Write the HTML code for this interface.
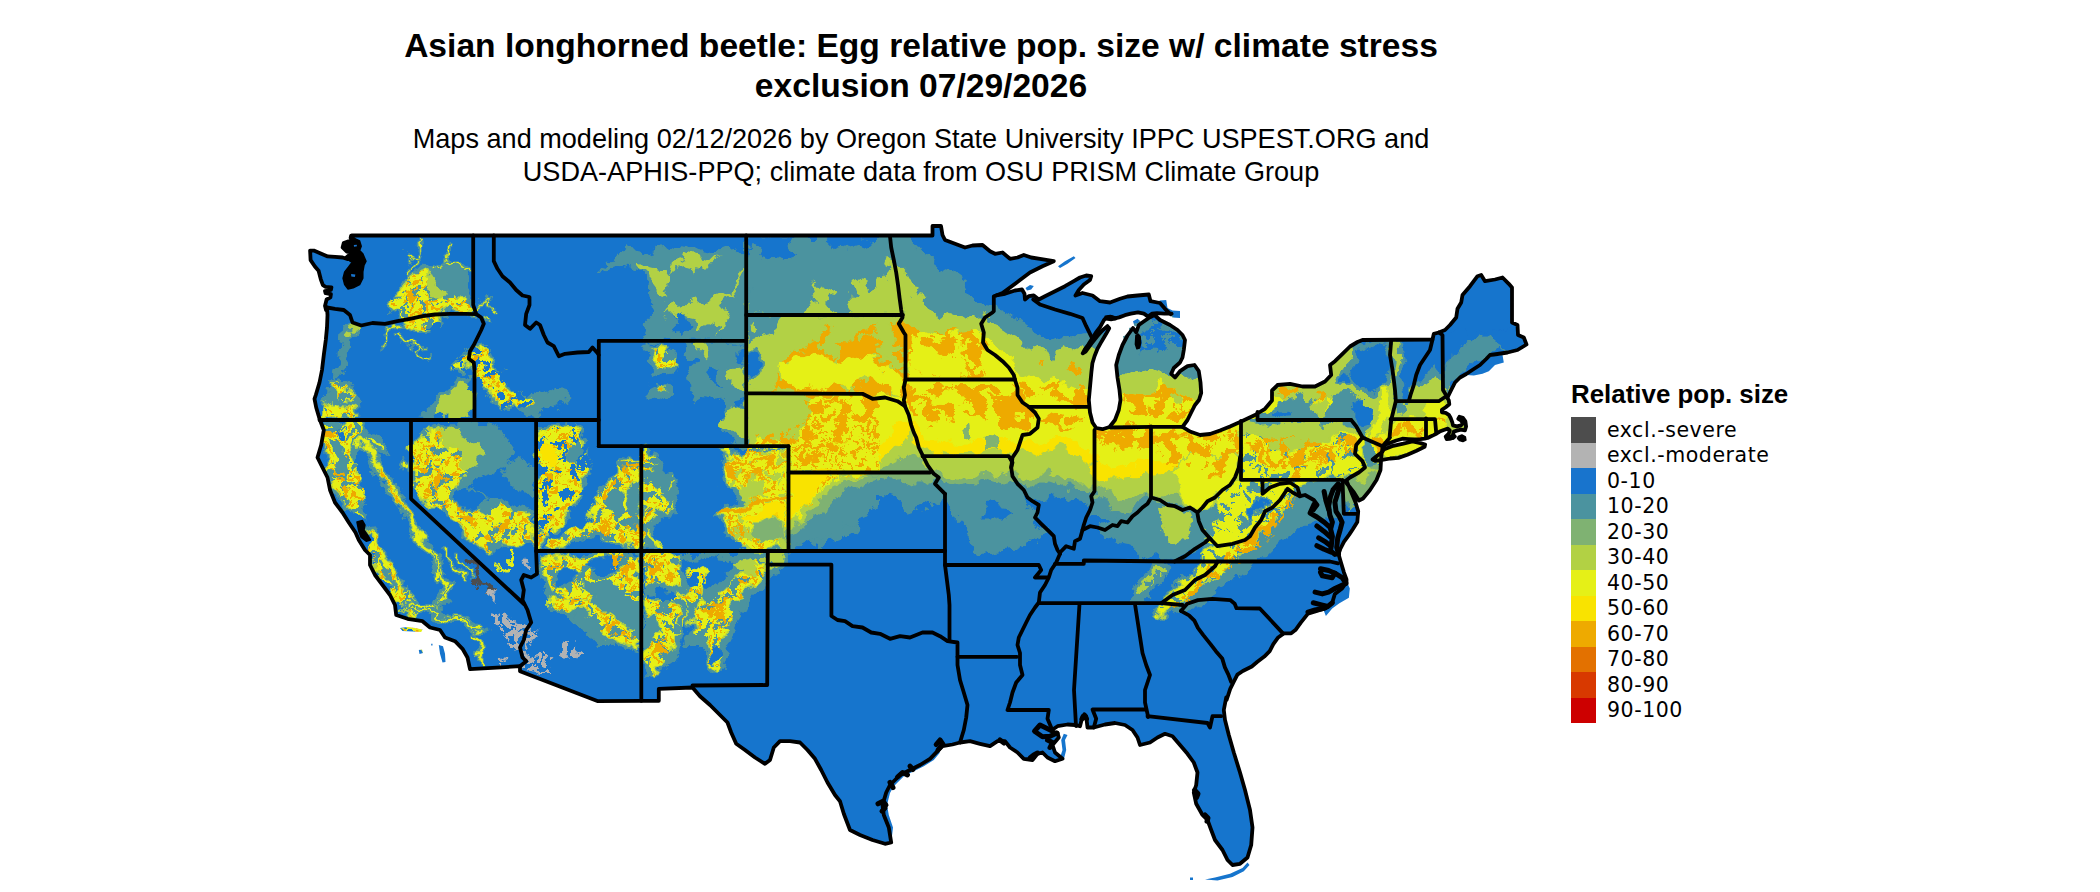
<!DOCTYPE html>
<html><head><meta charset="utf-8"><title>Asian longhorned beetle</title>
<style>
html,body{margin:0;padding:0;background:#fff;}
body{width:2100px;height:892px;position:relative;overflow:hidden;font-family:"Liberation Sans",sans-serif;}
.title{position:absolute;left:320px;width:1202px;top:26px;text-align:center;font-weight:bold;font-size:33.6px;line-height:40px;color:#000;}
.sub{position:absolute;left:320px;width:1202px;top:122px;text-align:center;font-size:27.1px;line-height:33px;color:#000;}
.lt{position:absolute;left:1571px;top:378px;font-weight:bold;font-size:25.9px;line-height:32px;white-space:nowrap;}
.sw{position:absolute;left:1571px;width:25px;height:25.6px;}
.ll{position:absolute;left:1607px;font-family:"DejaVu Sans",sans-serif;font-size:20.5px;line-height:25.5px;white-space:nowrap;color:#000;letter-spacing:0.55px;}
svg{position:absolute;left:0;top:0;}
</style></head><body>
<div class="title">Asian longhorned beetle: Egg relative pop. size w/ climate stress<br>exclusion 07/29/2026</div>
<div class="sub">Maps and modeling 02/12/2026 by Oregon State University IPPC USPEST.ORG and<br>USDA-APHIS-PPQ; climate data from OSU PRISM Climate Group</div>
<div class="lt">Relative pop. size</div>
<div class="sw" style="top:417.0px;background:#4d4d4d"></div><div class="ll" style="top:417.5px">excl.-severe</div>
<div class="sw" style="top:442.5px;background:#b3b3b3"></div><div class="ll" style="top:443.0px">excl.-moderate</div>
<div class="sw" style="top:468.0px;background:#1874cd"></div><div class="ll" style="top:468.5px">0-10</div>
<div class="sw" style="top:493.5px;background:#4b939f"></div><div class="ll" style="top:494.0px">10-20</div>
<div class="sw" style="top:519.0px;background:#7fb272"></div><div class="ll" style="top:519.5px">20-30</div>
<div class="sw" style="top:544.5px;background:#b2d144"></div><div class="ll" style="top:545.0px">30-40</div>
<div class="sw" style="top:570.0px;background:#e5f017"></div><div class="ll" style="top:570.5px">40-50</div>
<div class="sw" style="top:595.5px;background:#f9e300"></div><div class="ll" style="top:596.0px">50-60</div>
<div class="sw" style="top:621.0px;background:#eeaa00"></div><div class="ll" style="top:621.5px">60-70</div>
<div class="sw" style="top:646.5px;background:#e37100"></div><div class="ll" style="top:647.0px">70-80</div>
<div class="sw" style="top:672.0px;background:#d83900"></div><div class="ll" style="top:672.5px">80-90</div>
<div class="sw" style="top:697.5px;background:#cd0000"></div><div class="ll" style="top:698.0px">90-100</div>
<svg width="2100" height="892" viewBox="0 0 2100 892">
<defs><clipPath id="land"><path d="M352.0,235.5 L932.5,235.5 L932.5,226.0 L941.0,226.0 L942.5,235.0 L945.0,240.0 L955.0,243.8 L965.0,247.5 L972.5,245.5 L982.5,245.0 L990.0,251.2 L995.0,253.8 L1002.5,252.5 L1010.0,258.8 L1017.5,257.5 L1023.8,255.0 L1031.2,257.5 L1040.0,258.8 L1053.8,261.2 L1042.5,266.2 L1030.0,272.5 L1020.0,280.0 L1010.0,287.5 L1002.5,293.0 L996.2,295.5 L1005.0,293.8 L1015.0,290.5 L1022.0,289.5 L1024.5,293.8 L1025.0,299.5 L1028.8,296.2 L1033.8,295.5 L1038.8,299.5 L1045.0,296.2 L1055.0,291.2 L1065.0,286.2 L1073.8,281.2 L1080.0,277.5 L1086.2,275.5 L1091.2,276.2 L1090.0,280.0 L1083.8,284.5 L1078.8,290.0 L1075.5,295.5 L1082.5,293.0 L1092.5,295.5 L1100.0,301.2 L1110.0,302.5 L1120.0,298.8 L1127.5,296.5 L1137.5,295.5 L1148.8,294.5 L1150.5,301.2 L1160.0,303.0 L1165.0,308.8 L1170.5,314.2 L1171.6,313.7 L1164.3,313.7 L1157.0,313.1 L1151.9,313.7 L1148.2,316.6 L1143.9,313.7 L1138.0,312.3 L1130.8,313.7 L1124.9,315.2 L1119.1,317.4 L1114.7,318.4 L1110.4,316.9 L1106.0,317.8 L1103.8,320.3 L1100.2,326.8 L1095.8,332.7 L1092.1,338.5 L1088.5,344.3 L1084.8,349.4 L1082.7,353.4 L1085.6,351.6 L1091.4,343.6 L1097.2,336.3 L1102.3,330.5 L1107.4,326.1 L1109.2,328.3 L1106.0,334.1 L1101.6,341.4 L1097.5,348.7 L1094.6,356.0 L1092.4,363.3 L1091.4,372.0 L1088.8,400.0 L1088.8,400.0 L1090.0,412.5 L1092.5,422.5 L1096.2,428.0 L1102.5,429.2 L1109.5,427.0 L1115.0,420.0 L1118.8,410.0 L1120.5,400.0 L1119.5,390.0 L1117.5,377.5 L1116.2,365.0 L1118.8,355.0 L1122.5,345.0 L1127.5,335.5 L1133.0,328.0 L1136.2,332.5 L1138.8,325.0 L1143.0,322.0 L1149.5,317.5 L1154.5,315.0 L1160.0,320.0 L1170.0,325.0 L1177.5,330.0 L1182.5,335.0 L1185.0,340.0 L1183.8,350.0 L1182.5,357.5 L1180.0,362.5 L1173.8,368.0 L1171.2,373.8 L1175.0,377.5 L1180.0,371.2 L1187.5,366.2 L1194.5,365.0 L1198.8,371.2 L1200.5,382.5 L1201.2,393.0 L1199.0,400.0 L1195.0,405.0 L1191.2,412.5 L1187.5,420.0 L1182.5,426.8 L1190.0,431.5 L1200.0,435.0 L1210.0,434.0 L1220.0,430.5 L1230.0,426.5 L1241.2,421.5 L1255.0,415.0 L1265.0,408.8 L1272.0,400.5 L1272.0,390.5 L1276.2,386.5 L1277.5,385.0 L1290.0,383.8 L1302.5,386.5 L1315.0,386.5 L1325.0,381.5 L1331.2,375.0 L1330.0,365.0 L1335.0,361.2 L1342.5,353.8 L1350.0,346.5 L1357.5,342.0 L1362.5,340.0 L1432.5,339.5 L1433.8,333.8 L1438.8,332.5 L1445.0,330.0 L1450.0,325.0 L1456.2,317.5 L1457.5,308.8 L1461.2,302.5 L1462.5,295.0 L1470.0,286.2 L1477.5,276.2 L1481.2,275.0 L1485.0,281.2 L1495.0,279.5 L1502.5,277.5 L1508.8,283.8 L1512.0,287.5 L1512.0,322.5 L1517.5,325.0 L1518.0,335.0 L1523.8,337.5 L1526.5,344.5 L1517.5,350.0 L1507.5,352.5 L1497.5,354.0 L1490.0,355.0 L1486.2,359.0 L1480.0,365.0 L1473.8,369.0 L1466.2,374.0 L1460.0,377.5 L1455.0,382.5 L1451.2,390.0 L1447.5,397.5 L1446.7,397.1 L1448.8,400.2 L1449.3,404.2 L1445.7,407.2 L1441.9,409.8 L1441.9,412.3 L1445.7,412.8 L1448.8,414.8 L1450.8,418.3 L1452.3,422.4 L1453.0,425.4 L1456.8,426.4 L1460.9,425.4 L1462.9,423.4 L1460.9,420.3 L1458.3,418.8 L1459.4,416.8 L1462.9,417.8 L1465.4,421.4 L1466.1,426.4 L1464.9,430.4 L1460.9,429.6 L1456.8,430.6 L1453.8,431.6 L1453.0,434.5 L1454.8,436.5 L1450.8,438.5 L1446.7,439.0 L1445.7,436.5 L1448.8,433.5 L1449.8,430.4 L1447.8,428.6 L1443.7,430.0 L1439.7,431.6 L1436.7,433.5 L1433.6,435.1 L1430.6,436.5 L1427.6,438.0 L1424.6,438.7 L1420.5,439.1 L1414.5,439.5 L1408.4,439.1 L1402.4,438.7 L1396.3,440.5 L1390.3,442.7 L1385.2,444.8 L1382.7,446.6 L1382.5,447.5 L1381.2,457.5 L1380.5,470.0 L1376.5,480.0 L1370.0,490.0 L1363.0,498.5 L1359.0,500.5 L1354.0,492.5 L1349.0,486.2 L1345.0,481.2 L1346.5,480.8 L1351.0,491.5 L1355.5,502.3 L1358.2,511.3 L1357.3,522.1 L1352.8,529.2 L1349.2,534.6 L1343.9,541.8 L1340.3,549.0 L1338.5,554.0 L1341.2,563.3 L1343.9,572.3 L1346.5,579.5 L1346.5,582.2 L1342.1,588.5 L1334.9,593.9 L1332.2,602.8 L1325.9,608.2 L1316.9,610.9 L1308.0,613.6 L1300.8,622.6 L1295.4,630.1 L1291.2,633.3 L1284.1,633.3 L1277.8,637.8 L1273.3,644.1 L1269.7,651.2 L1264.3,656.6 L1257.1,662.0 L1251.8,666.5 L1242.8,671.0 L1237.4,674.6 L1233.8,681.7 L1230.2,688.9 L1226.6,700.0 L1226.2,697.5 L1223.8,710.0 L1225.0,720.0 L1228.8,735.0 L1233.8,752.5 L1240.0,772.5 L1245.0,790.0 L1250.0,810.0 L1252.5,827.5 L1251.2,845.0 L1247.5,857.5 L1240.0,863.8 L1232.5,865.0 L1227.5,860.0 L1222.5,850.0 L1215.0,840.0 L1211.2,830.0 L1207.5,820.0 L1202.5,815.0 L1196.2,803.8 L1193.8,792.5 L1196.2,785.0 L1197.5,772.5 L1193.8,762.5 L1187.5,753.8 L1180.0,745.0 L1172.5,736.2 L1165.0,733.8 L1157.5,737.5 L1150.0,742.5 L1140.0,745.0 L1137.5,737.5 L1132.5,730.0 L1125.0,725.0 L1115.0,723.0 L1105.0,724.5 L1093.8,727.5 L1087.5,727.5 L1086.2,716.2 L1082.5,716.2 L1080.0,726.2 L1075.0,725.0 L1067.5,724.5 L1057.5,726.2 L1051.2,730.5 L1057.5,733.0 L1058.8,737.5 L1052.5,745.0 L1055.0,752.5 L1062.5,758.8 L1055.0,761.2 L1047.5,757.5 L1042.5,752.5 L1037.5,753.8 L1032.5,760.0 L1023.8,758.8 L1017.5,752.5 L1010.0,747.5 L1005.0,741.2 L997.5,741.2 L990.0,746.2 L980.0,743.8 L970.0,741.2 L960.0,742.5 L952.5,744.5 L942.5,746.2 L937.5,751.2 L930.0,758.8 L920.0,765.0 L910.0,770.0 L900.0,775.0 L890.0,785.0 L886.2,792.5 L882.5,805.0 L883.8,815.0 L888.8,827.5 L891.2,842.5 L885.0,843.8 L872.5,840.0 L860.0,835.0 L850.0,830.0 L843.8,813.8 L840.0,801.2 L835.0,795.0 L827.5,782.5 L821.2,770.0 L815.0,758.8 L807.5,750.0 L800.0,742.5 L790.0,741.2 L780.0,741.2 L773.8,747.5 L770.0,760.0 L765.0,763.8 L755.0,757.5 L745.0,750.0 L736.2,743.8 L731.2,732.5 L727.5,722.5 L720.0,715.0 L710.0,705.0 L700.0,696.2 L692.5,687.5 L658.8,688.8 L658.8,700.8 L640.0,700.8 L598.0,701.2 L520.0,671.2 L520.0,666.2 L470.0,669.2 L467.5,657.5 L462.5,648.8 L455.0,641.2 L445.0,637.5 L440.0,630.0 L430.0,627.5 L422.5,621.2 L407.5,618.8 L396.2,615.0 L395.0,605.0 L390.0,595.0 L382.5,585.0 L375.0,575.0 L370.0,565.0 L370.0,555.0 L365.0,550.0 L358.8,540.0 L355.5,532.5 L348.8,522.5 L342.5,512.5 L335.0,502.5 L330.0,490.0 L327.5,477.5 L321.2,465.0 L317.5,457.5 L321.2,445.0 L323.8,430.0 L319.5,418.8 L316.2,407.5 L314.5,398.8 L315.8,395.0 L319.5,382.5 L322.0,370.0 L323.8,355.0 L325.8,340.0 L327.0,327.5 L327.5,315.0 L327.0,307.5 L326.1,310.2 L325.0,305.9 L326.6,299.5 L330.4,297.4 L330.9,294.2 L325.6,293.2 L325.0,291.0 L330.9,290.0 L331.4,287.3 L325.6,286.8 L322.9,285.2 L320.8,279.3 L318.6,270.8 L314.9,266.5 L310.6,260.1 L310.1,250.6 L313.8,250.6 L321.3,253.8 L327.7,256.4 L335.1,256.9 L342.6,257.5 L347.9,259.1 L346.9,256.9 L352.2,252.7 L346.9,251.6 L342.6,247.4 L343.7,243.1 L347.9,241.5 L352.2,241.0 L350.6,237.8 L351.1,235.6Z M1383.7,449.6 L1393.3,445.8 L1403.4,443.7 L1412.5,441.5 L1420.5,443.1 L1425.1,444.6 L1424.6,446.8 L1416.5,450.8 L1407.4,454.8 L1398.3,457.9 L1390.3,458.5 L1382.2,459.9 L1375.1,460.9 L1372.6,459.5 L1377.1,455.7 L1382.2,452.1Z M1058.0,266.2 L1065.0,261.2 L1073.8,256.2 L1075.5,258.0 L1067.5,263.8 L1060.0,268.0Z M1025.5,288.0 L1030.0,285.0 L1033.8,286.0 L1031.2,289.5 L1027.0,290.5Z M1133.0,321.2 L1137.5,318.8 L1140.5,321.2 L1138.8,326.2 L1134.5,326.2Z M1123.0,336.2 L1127.0,335.0 L1128.0,339.5 L1124.0,340.5Z M1129.0,328.0 L1131.0,327.5 L1131.5,331.0 L1129.5,331.5Z M1159.5,300.5 L1166.2,300.0 L1167.5,308.0 L1172.5,310.5 L1180.0,311.0 L1180.0,318.0 L1172.5,317.5 L1165.0,310.0 L1160.0,305.0Z M1466.2,375.0 L1473.8,370.0 L1480.0,366.2 L1486.2,360.0 L1491.2,356.2 L1502.5,355.0 L1503.8,362.5 L1495.0,365.0 L1488.8,371.2 L1482.5,373.8 L1473.8,375.5Z M891.2,843.0 L893.0,827.5 L888.8,815.0 L887.0,805.0 L890.0,793.0 L893.8,786.2 L903.8,776.2 L913.8,771.2 L923.8,766.2 L933.8,760.0 L940.0,752.5 L938.0,751.2 L930.0,758.8 L920.0,765.0 L910.0,770.0 L900.0,775.0 L890.0,785.0 L886.2,792.5 L882.5,805.0 L883.8,815.0 L888.8,827.5Z M1055.0,761.2 L1063.8,759.5 L1066.2,750.0 L1065.0,740.0 L1067.5,735.0 L1063.8,733.8 L1061.2,740.0 L1062.5,750.0 L1060.0,757.5Z M400.0,628.0 L407.5,627.0 L415.0,628.0 L422.5,629.5 L421.2,632.0 L412.5,631.5 L402.5,631.0Z M418.8,650.0 L422.0,649.5 L423.0,653.0 L419.5,654.0Z M438.8,645.0 L443.0,646.2 L445.0,653.8 L445.5,662.0 L442.5,662.5 L440.0,653.8Z M431.2,643.8 L432.5,643.8 L432.5,645.5 L431.2,645.5Z M1242.5,868.0 L1247.5,862.5 L1249.5,865.0 L1243.8,871.2 L1232.5,877.0 L1217.5,880.5 L1205.0,879.5 L1215.0,877.5 L1230.0,873.8Z M1190.0,877.5 L1193.0,877.5 L1193.0,880.0 L1190.0,880.0Z M1347.4,582.7 L1349.8,588.5 L1348.9,597.8 L1339.4,603.2 L1332.2,608.6 L1325.9,616.1 L1323.7,610.4 L1332.2,603.7 L1335.8,593.9 L1343.0,588.5Z"/></clipPath><filter id="rough" x="0" y="0" width="2100" height="892" filterUnits="userSpaceOnUse"><feTurbulence type="fractalNoise" baseFrequency="0.06" numOctaves="5" seed="7" result="n"/><feDisplacementMap in="SourceGraphic" in2="n" scale="20" xChannelSelector="R" yChannelSelector="G"/></filter><filter id="p420_100_9" color-interpolation-filters="sRGB" x="-5%" y="-5%" width="110%" height="110%"><feTurbulence type="fractalNoise" baseFrequency="0.1" numOctaves="3" seed="9" result="t"/><feColorMatrix in="t" type="matrix" values="0 0 0 0 0  0 0 0 0 0  0 0 0 0 0  60.0 0 0 0 -25.20" result="m"/><feComposite in="SourceGraphic" in2="m" operator="in"/></filter><filter id="p580_200_11" color-interpolation-filters="sRGB" x="-5%" y="-5%" width="110%" height="110%"><feTurbulence type="fractalNoise" baseFrequency="0.2" numOctaves="3" seed="11" result="t"/><feColorMatrix in="t" type="matrix" values="0 0 0 0 0  0 0 0 0 0  0 0 0 0 0  60.0 0 0 0 -34.80" result="m"/><feComposite in="SourceGraphic" in2="m" operator="in"/></filter><filter id="p500_120_5" color-interpolation-filters="sRGB" x="-5%" y="-5%" width="110%" height="110%"><feTurbulence type="fractalNoise" baseFrequency="0.12" numOctaves="3" seed="5" result="t"/><feColorMatrix in="t" type="matrix" values="0 0 0 0 0  0 0 0 0 0  0 0 0 0 0  60.0 0 0 0 -30.00" result="m"/><feComposite in="SourceGraphic" in2="m" operator="in"/></filter><filter id="p360_100_9" color-interpolation-filters="sRGB" x="-5%" y="-5%" width="110%" height="110%"><feTurbulence type="fractalNoise" baseFrequency="0.1" numOctaves="3" seed="9" result="t"/><feColorMatrix in="t" type="matrix" values="0 0 0 0 0  0 0 0 0 0  0 0 0 0 0  60.0 0 0 0 -21.60" result="m"/><feComposite in="SourceGraphic" in2="m" operator="in"/></filter><filter id="p470_130_2" color-interpolation-filters="sRGB" x="-5%" y="-5%" width="110%" height="110%"><feTurbulence type="fractalNoise" baseFrequency="0.13" numOctaves="3" seed="2" result="t"/><feColorMatrix in="t" type="matrix" values="0 0 0 0 0  0 0 0 0 0  0 0 0 0 0  60.0 0 0 0 -28.20" result="m"/><feComposite in="SourceGraphic" in2="m" operator="in"/></filter><filter id="p420_80_5" color-interpolation-filters="sRGB" x="-5%" y="-5%" width="110%" height="110%"><feTurbulence type="fractalNoise" baseFrequency="0.08" numOctaves="3" seed="5" result="t"/><feColorMatrix in="t" type="matrix" values="0 0 0 0 0  0 0 0 0 0  0 0 0 0 0  60.0 0 0 0 -25.20" result="m"/><feComposite in="SourceGraphic" in2="m" operator="in"/></filter><filter id="p0_100_9" color-interpolation-filters="sRGB" x="-5%" y="-5%" width="110%" height="110%"><feTurbulence type="fractalNoise" baseFrequency="0.1" numOctaves="3" seed="9" result="t"/><feColorMatrix in="t" type="matrix" values="0 0 0 0 0  0 0 0 0 0  0 0 0 0 0  60.0 0 0 0 -0.00" result="m"/><feComposite in="SourceGraphic" in2="m" operator="in"/></filter><filter id="p560_90_5" color-interpolation-filters="sRGB" x="-5%" y="-5%" width="110%" height="110%"><feTurbulence type="fractalNoise" baseFrequency="0.09" numOctaves="3" seed="5" result="t"/><feColorMatrix in="t" type="matrix" values="0 0 0 0 0  0 0 0 0 0  0 0 0 0 0  60.0 0 0 0 -33.60" result="m"/><feComposite in="SourceGraphic" in2="m" operator="in"/></filter><filter id="p300_100_9" color-interpolation-filters="sRGB" x="-5%" y="-5%" width="110%" height="110%"><feTurbulence type="fractalNoise" baseFrequency="0.1" numOctaves="3" seed="9" result="t"/><feColorMatrix in="t" type="matrix" values="0 0 0 0 0  0 0 0 0 0  0 0 0 0 0  60.0 0 0 0 -18.00" result="m"/><feComposite in="SourceGraphic" in2="m" operator="in"/></filter><filter id="p200_100_9" color-interpolation-filters="sRGB" x="-5%" y="-5%" width="110%" height="110%"><feTurbulence type="fractalNoise" baseFrequency="0.1" numOctaves="3" seed="9" result="t"/><feColorMatrix in="t" type="matrix" values="0 0 0 0 0  0 0 0 0 0  0 0 0 0 0  60.0 0 0 0 -12.00" result="m"/><feComposite in="SourceGraphic" in2="m" operator="in"/></filter><filter id="p370_70_3" color-interpolation-filters="sRGB" x="-5%" y="-5%" width="110%" height="110%"><feTurbulence type="fractalNoise" baseFrequency="0.07" numOctaves="3" seed="3" result="t"/><feColorMatrix in="t" type="matrix" values="0 0 0 0 0  0 0 0 0 0  0 0 0 0 0  60.0 0 0 0 -22.20" result="m"/><feComposite in="SourceGraphic" in2="m" operator="in"/></filter><filter id="p435_70_3" color-interpolation-filters="sRGB" x="-5%" y="-5%" width="110%" height="110%"><feTurbulence type="fractalNoise" baseFrequency="0.07" numOctaves="3" seed="3" result="t"/><feColorMatrix in="t" type="matrix" values="0 0 0 0 0  0 0 0 0 0  0 0 0 0 0  60.0 0 0 0 -26.10" result="m"/><feComposite in="SourceGraphic" in2="m" operator="in"/></filter><filter id="p460_130_4" color-interpolation-filters="sRGB" x="-5%" y="-5%" width="110%" height="110%"><feTurbulence type="fractalNoise" baseFrequency="0.13" numOctaves="3" seed="4" result="t"/><feColorMatrix in="t" type="matrix" values="0 0 0 0 0  0 0 0 0 0  0 0 0 0 0  60.0 0 0 0 -27.60" result="m"/><feComposite in="SourceGraphic" in2="m" operator="in"/></filter><filter id="p400_110_5" color-interpolation-filters="sRGB" x="-5%" y="-5%" width="110%" height="110%"><feTurbulence type="fractalNoise" baseFrequency="0.11" numOctaves="3" seed="5" result="t"/><feColorMatrix in="t" type="matrix" values="0 0 0 0 0  0 0 0 0 0  0 0 0 0 0  60.0 0 0 0 -24.00" result="m"/><feComposite in="SourceGraphic" in2="m" operator="in"/></filter><filter id="p500_80_3" color-interpolation-filters="sRGB" x="-5%" y="-5%" width="110%" height="110%"><feTurbulence type="fractalNoise" baseFrequency="0.08" numOctaves="3" seed="3" result="t"/><feColorMatrix in="t" type="matrix" values="0 0 0 0 0  0 0 0 0 0  0 0 0 0 0  60.0 0 0 0 -30.00" result="m"/><feComposite in="SourceGraphic" in2="m" operator="in"/></filter><filter id="p520_80_3" color-interpolation-filters="sRGB" x="-5%" y="-5%" width="110%" height="110%"><feTurbulence type="fractalNoise" baseFrequency="0.08" numOctaves="3" seed="3" result="t"/><feColorMatrix in="t" type="matrix" values="0 0 0 0 0  0 0 0 0 0  0 0 0 0 0  60.0 0 0 0 -31.20" result="m"/><feComposite in="SourceGraphic" in2="m" operator="in"/></filter><filter id="p540_90_4" color-interpolation-filters="sRGB" x="-5%" y="-5%" width="110%" height="110%"><feTurbulence type="fractalNoise" baseFrequency="0.09" numOctaves="3" seed="4" result="t"/><feColorMatrix in="t" type="matrix" values="0 0 0 0 0  0 0 0 0 0  0 0 0 0 0  60.0 0 0 0 -32.40" result="m"/><feComposite in="SourceGraphic" in2="m" operator="in"/></filter><filter id="p480_90_4" color-interpolation-filters="sRGB" x="-5%" y="-5%" width="110%" height="110%"><feTurbulence type="fractalNoise" baseFrequency="0.09" numOctaves="3" seed="4" result="t"/><feColorMatrix in="t" type="matrix" values="0 0 0 0 0  0 0 0 0 0  0 0 0 0 0  60.0 0 0 0 -28.80" result="m"/><feComposite in="SourceGraphic" in2="m" operator="in"/></filter><filter id="p520_110_4" color-interpolation-filters="sRGB" x="-5%" y="-5%" width="110%" height="110%"><feTurbulence type="fractalNoise" baseFrequency="0.11" numOctaves="3" seed="4" result="t"/><feColorMatrix in="t" type="matrix" values="0 0 0 0 0  0 0 0 0 0  0 0 0 0 0  60.0 0 0 0 -31.20" result="m"/><feComposite in="SourceGraphic" in2="m" operator="in"/></filter><filter id="p520_130_6" color-interpolation-filters="sRGB" x="-5%" y="-5%" width="110%" height="110%"><feTurbulence type="fractalNoise" baseFrequency="0.13" numOctaves="3" seed="6" result="t"/><feColorMatrix in="t" type="matrix" values="0 0 0 0 0  0 0 0 0 0  0 0 0 0 0  60.0 0 0 0 -31.20" result="m"/><feComposite in="SourceGraphic" in2="m" operator="in"/></filter><filter id="p440_90_8" color-interpolation-filters="sRGB" x="-5%" y="-5%" width="110%" height="110%"><feTurbulence type="fractalNoise" baseFrequency="0.09" numOctaves="3" seed="8" result="t"/><feColorMatrix in="t" type="matrix" values="0 0 0 0 0  0 0 0 0 0  0 0 0 0 0  60.0 0 0 0 -26.40" result="m"/><feComposite in="SourceGraphic" in2="m" operator="in"/></filter></defs>
<path d="M352.0,235.5 L932.5,235.5 L932.5,226.0 L941.0,226.0 L942.5,235.0 L945.0,240.0 L955.0,243.8 L965.0,247.5 L972.5,245.5 L982.5,245.0 L990.0,251.2 L995.0,253.8 L1002.5,252.5 L1010.0,258.8 L1017.5,257.5 L1023.8,255.0 L1031.2,257.5 L1040.0,258.8 L1053.8,261.2 L1042.5,266.2 L1030.0,272.5 L1020.0,280.0 L1010.0,287.5 L1002.5,293.0 L996.2,295.5 L1005.0,293.8 L1015.0,290.5 L1022.0,289.5 L1024.5,293.8 L1025.0,299.5 L1028.8,296.2 L1033.8,295.5 L1038.8,299.5 L1045.0,296.2 L1055.0,291.2 L1065.0,286.2 L1073.8,281.2 L1080.0,277.5 L1086.2,275.5 L1091.2,276.2 L1090.0,280.0 L1083.8,284.5 L1078.8,290.0 L1075.5,295.5 L1082.5,293.0 L1092.5,295.5 L1100.0,301.2 L1110.0,302.5 L1120.0,298.8 L1127.5,296.5 L1137.5,295.5 L1148.8,294.5 L1150.5,301.2 L1160.0,303.0 L1165.0,308.8 L1170.5,314.2 L1171.6,313.7 L1164.3,313.7 L1157.0,313.1 L1151.9,313.7 L1148.2,316.6 L1143.9,313.7 L1138.0,312.3 L1130.8,313.7 L1124.9,315.2 L1119.1,317.4 L1114.7,318.4 L1110.4,316.9 L1106.0,317.8 L1103.8,320.3 L1100.2,326.8 L1095.8,332.7 L1092.1,338.5 L1088.5,344.3 L1084.8,349.4 L1082.7,353.4 L1085.6,351.6 L1091.4,343.6 L1097.2,336.3 L1102.3,330.5 L1107.4,326.1 L1109.2,328.3 L1106.0,334.1 L1101.6,341.4 L1097.5,348.7 L1094.6,356.0 L1092.4,363.3 L1091.4,372.0 L1088.8,400.0 L1088.8,400.0 L1090.0,412.5 L1092.5,422.5 L1096.2,428.0 L1102.5,429.2 L1109.5,427.0 L1115.0,420.0 L1118.8,410.0 L1120.5,400.0 L1119.5,390.0 L1117.5,377.5 L1116.2,365.0 L1118.8,355.0 L1122.5,345.0 L1127.5,335.5 L1133.0,328.0 L1136.2,332.5 L1138.8,325.0 L1143.0,322.0 L1149.5,317.5 L1154.5,315.0 L1160.0,320.0 L1170.0,325.0 L1177.5,330.0 L1182.5,335.0 L1185.0,340.0 L1183.8,350.0 L1182.5,357.5 L1180.0,362.5 L1173.8,368.0 L1171.2,373.8 L1175.0,377.5 L1180.0,371.2 L1187.5,366.2 L1194.5,365.0 L1198.8,371.2 L1200.5,382.5 L1201.2,393.0 L1199.0,400.0 L1195.0,405.0 L1191.2,412.5 L1187.5,420.0 L1182.5,426.8 L1190.0,431.5 L1200.0,435.0 L1210.0,434.0 L1220.0,430.5 L1230.0,426.5 L1241.2,421.5 L1255.0,415.0 L1265.0,408.8 L1272.0,400.5 L1272.0,390.5 L1276.2,386.5 L1277.5,385.0 L1290.0,383.8 L1302.5,386.5 L1315.0,386.5 L1325.0,381.5 L1331.2,375.0 L1330.0,365.0 L1335.0,361.2 L1342.5,353.8 L1350.0,346.5 L1357.5,342.0 L1362.5,340.0 L1432.5,339.5 L1433.8,333.8 L1438.8,332.5 L1445.0,330.0 L1450.0,325.0 L1456.2,317.5 L1457.5,308.8 L1461.2,302.5 L1462.5,295.0 L1470.0,286.2 L1477.5,276.2 L1481.2,275.0 L1485.0,281.2 L1495.0,279.5 L1502.5,277.5 L1508.8,283.8 L1512.0,287.5 L1512.0,322.5 L1517.5,325.0 L1518.0,335.0 L1523.8,337.5 L1526.5,344.5 L1517.5,350.0 L1507.5,352.5 L1497.5,354.0 L1490.0,355.0 L1486.2,359.0 L1480.0,365.0 L1473.8,369.0 L1466.2,374.0 L1460.0,377.5 L1455.0,382.5 L1451.2,390.0 L1447.5,397.5 L1446.7,397.1 L1448.8,400.2 L1449.3,404.2 L1445.7,407.2 L1441.9,409.8 L1441.9,412.3 L1445.7,412.8 L1448.8,414.8 L1450.8,418.3 L1452.3,422.4 L1453.0,425.4 L1456.8,426.4 L1460.9,425.4 L1462.9,423.4 L1460.9,420.3 L1458.3,418.8 L1459.4,416.8 L1462.9,417.8 L1465.4,421.4 L1466.1,426.4 L1464.9,430.4 L1460.9,429.6 L1456.8,430.6 L1453.8,431.6 L1453.0,434.5 L1454.8,436.5 L1450.8,438.5 L1446.7,439.0 L1445.7,436.5 L1448.8,433.5 L1449.8,430.4 L1447.8,428.6 L1443.7,430.0 L1439.7,431.6 L1436.7,433.5 L1433.6,435.1 L1430.6,436.5 L1427.6,438.0 L1424.6,438.7 L1420.5,439.1 L1414.5,439.5 L1408.4,439.1 L1402.4,438.7 L1396.3,440.5 L1390.3,442.7 L1385.2,444.8 L1382.7,446.6 L1382.5,447.5 L1381.2,457.5 L1380.5,470.0 L1376.5,480.0 L1370.0,490.0 L1363.0,498.5 L1359.0,500.5 L1354.0,492.5 L1349.0,486.2 L1345.0,481.2 L1346.5,480.8 L1351.0,491.5 L1355.5,502.3 L1358.2,511.3 L1357.3,522.1 L1352.8,529.2 L1349.2,534.6 L1343.9,541.8 L1340.3,549.0 L1338.5,554.0 L1341.2,563.3 L1343.9,572.3 L1346.5,579.5 L1346.5,582.2 L1342.1,588.5 L1334.9,593.9 L1332.2,602.8 L1325.9,608.2 L1316.9,610.9 L1308.0,613.6 L1300.8,622.6 L1295.4,630.1 L1291.2,633.3 L1284.1,633.3 L1277.8,637.8 L1273.3,644.1 L1269.7,651.2 L1264.3,656.6 L1257.1,662.0 L1251.8,666.5 L1242.8,671.0 L1237.4,674.6 L1233.8,681.7 L1230.2,688.9 L1226.6,700.0 L1226.2,697.5 L1223.8,710.0 L1225.0,720.0 L1228.8,735.0 L1233.8,752.5 L1240.0,772.5 L1245.0,790.0 L1250.0,810.0 L1252.5,827.5 L1251.2,845.0 L1247.5,857.5 L1240.0,863.8 L1232.5,865.0 L1227.5,860.0 L1222.5,850.0 L1215.0,840.0 L1211.2,830.0 L1207.5,820.0 L1202.5,815.0 L1196.2,803.8 L1193.8,792.5 L1196.2,785.0 L1197.5,772.5 L1193.8,762.5 L1187.5,753.8 L1180.0,745.0 L1172.5,736.2 L1165.0,733.8 L1157.5,737.5 L1150.0,742.5 L1140.0,745.0 L1137.5,737.5 L1132.5,730.0 L1125.0,725.0 L1115.0,723.0 L1105.0,724.5 L1093.8,727.5 L1087.5,727.5 L1086.2,716.2 L1082.5,716.2 L1080.0,726.2 L1075.0,725.0 L1067.5,724.5 L1057.5,726.2 L1051.2,730.5 L1057.5,733.0 L1058.8,737.5 L1052.5,745.0 L1055.0,752.5 L1062.5,758.8 L1055.0,761.2 L1047.5,757.5 L1042.5,752.5 L1037.5,753.8 L1032.5,760.0 L1023.8,758.8 L1017.5,752.5 L1010.0,747.5 L1005.0,741.2 L997.5,741.2 L990.0,746.2 L980.0,743.8 L970.0,741.2 L960.0,742.5 L952.5,744.5 L942.5,746.2 L937.5,751.2 L930.0,758.8 L920.0,765.0 L910.0,770.0 L900.0,775.0 L890.0,785.0 L886.2,792.5 L882.5,805.0 L883.8,815.0 L888.8,827.5 L891.2,842.5 L885.0,843.8 L872.5,840.0 L860.0,835.0 L850.0,830.0 L843.8,813.8 L840.0,801.2 L835.0,795.0 L827.5,782.5 L821.2,770.0 L815.0,758.8 L807.5,750.0 L800.0,742.5 L790.0,741.2 L780.0,741.2 L773.8,747.5 L770.0,760.0 L765.0,763.8 L755.0,757.5 L745.0,750.0 L736.2,743.8 L731.2,732.5 L727.5,722.5 L720.0,715.0 L710.0,705.0 L700.0,696.2 L692.5,687.5 L658.8,688.8 L658.8,700.8 L640.0,700.8 L598.0,701.2 L520.0,671.2 L520.0,666.2 L470.0,669.2 L467.5,657.5 L462.5,648.8 L455.0,641.2 L445.0,637.5 L440.0,630.0 L430.0,627.5 L422.5,621.2 L407.5,618.8 L396.2,615.0 L395.0,605.0 L390.0,595.0 L382.5,585.0 L375.0,575.0 L370.0,565.0 L370.0,555.0 L365.0,550.0 L358.8,540.0 L355.5,532.5 L348.8,522.5 L342.5,512.5 L335.0,502.5 L330.0,490.0 L327.5,477.5 L321.2,465.0 L317.5,457.5 L321.2,445.0 L323.8,430.0 L319.5,418.8 L316.2,407.5 L314.5,398.8 L315.8,395.0 L319.5,382.5 L322.0,370.0 L323.8,355.0 L325.8,340.0 L327.0,327.5 L327.5,315.0 L327.0,307.5 L326.1,310.2 L325.0,305.9 L326.6,299.5 L330.4,297.4 L330.9,294.2 L325.6,293.2 L325.0,291.0 L330.9,290.0 L331.4,287.3 L325.6,286.8 L322.9,285.2 L320.8,279.3 L318.6,270.8 L314.9,266.5 L310.6,260.1 L310.1,250.6 L313.8,250.6 L321.3,253.8 L327.7,256.4 L335.1,256.9 L342.6,257.5 L347.9,259.1 L346.9,256.9 L352.2,252.7 L346.9,251.6 L342.6,247.4 L343.7,243.1 L347.9,241.5 L352.2,241.0 L350.6,237.8 L351.1,235.6Z M1383.7,449.6 L1393.3,445.8 L1403.4,443.7 L1412.5,441.5 L1420.5,443.1 L1425.1,444.6 L1424.6,446.8 L1416.5,450.8 L1407.4,454.8 L1398.3,457.9 L1390.3,458.5 L1382.2,459.9 L1375.1,460.9 L1372.6,459.5 L1377.1,455.7 L1382.2,452.1Z" fill="#1874cd"/>
<g clip-path="url(#land)"><g filter="url(#rough)"><rect x="0" y="0" width="2100" height="892" fill="#1874cd"/>
<path d="M892.3,236.1 L912.1,237.3 L917.0,249.7 L929.3,257.1 L939.2,264.5 L951.5,271.9 L963.9,281.7 L971.3,296.5 L973.7,306.4 L988.5,308.9 L995.9,306.4 L1010.7,311.3 L1018.1,321.2 L1028.0,326.1 L1037.9,333.5 L1052.7,338.5 L1062.5,340.9 L1072.4,336.0 L1084.7,333.5 L1102.0,333.5 L1114.3,336.0 L1126.7,328.6 L1141.5,321.2 L1156.3,316.3 L1176.0,318.7 L1190.8,323.7 L1208.1,328.6 L1340.0,340.0 L1340.0,520.0 L1130.0,523.1 L1120.4,525.5 L1108.1,518.1 L1093.3,518.1 L1093.3,508.3 L1085.9,503.3 L1071.1,500.9 L1056.3,495.9 L1041.5,498.4 L1026.7,500.9 L1036.5,518.1 L1046.4,532.9 L1036.5,540.3 L1016.8,550.2 L997.1,552.7 L982.3,555.1 L974.9,550.2 L967.5,525.5 L952.7,513.2 L942.8,495.9 L928.0,508.3 L908.3,513.2 L895.9,495.9 L878.7,493.5 L873.7,513.2 L858.9,518.1 L854.0,532.9 L834.3,537.9 L824.4,550.2 L804.7,542.8 L787.4,552.7 L745.5,552.7 L746.0,560.0 L746.0,236.0Z" fill="#4b939f"/>
<path d="M984.7,503.3 L1002.0,500.9 L1011.9,513.2 L997.1,520.6 L982.3,520.6Z" fill="#1874cd"/>
<path d="M897.3,266.9 L904.7,274.3 L912.1,289.1 L919.5,299.0 L926.9,308.9 L936.7,316.3 L946.6,311.3 L961.4,316.3 L973.7,318.7 L983.6,316.3 L988.5,318.7 L998.4,326.1 L1010.7,333.5 L1020.6,340.9 L1028.0,348.3 L1042.8,350.8 L1052.7,355.7 L1062.5,348.3 L1074.9,343.4 L1087.2,348.3 L1102.0,353.3 L1116.8,373.0 L1126.7,375.5 L1139.0,373.0 L1151.3,370.5 L1163.7,375.5 L1176.0,373.0 L1185.9,377.9 L1198.2,373.0 L1210.5,373.0 L1340.0,360.0 L1340.0,500.0 L1130.0,518.1 L1120.4,513.2 L1110.5,508.3 L1098.2,495.9 L1090.8,491.0 L1076.0,491.0 L1063.7,483.6 L1051.3,478.7 L1041.5,488.5 L1026.7,488.5 L1016.8,478.7 L1002.0,483.6 L984.7,478.7 L967.5,483.6 L952.7,486.1 L937.9,478.7 L928.0,483.6 L913.2,483.6 L895.9,478.7 L873.7,476.2 L851.5,478.7 L834.3,491.0 L819.5,508.3 L804.7,528.0 L789.9,537.9 L745.5,542.8 L746.0,540.0 L746.0,300.0Z" fill="#7fb272"/>
<path d="M897.3,266.9 L904.7,274.3 L912.1,289.1 L919.5,299.0 L926.9,308.9 L936.7,316.3 L946.6,311.3 L961.4,316.3 L973.7,318.7 L983.6,316.3 L988.5,318.7 L998.4,326.1 L1010.7,333.5 L1020.6,340.9 L1028.0,348.3 L1042.8,350.8 L1052.7,355.7 L1062.5,348.3 L1074.9,343.4 L1087.2,348.3 L1102.0,353.3 L1116.8,373.0 L1126.7,375.5 L1139.0,373.0 L1151.3,370.5 L1163.7,375.5 L1176.0,373.0 L1185.9,377.9 L1198.2,373.0 L1210.5,373.0 L1340.0,360.0 L1340.0,480.0 L1130.0,495.9 L1117.9,498.4 L1108.1,495.9 L1098.2,488.5 L1090.8,483.6 L1076.0,483.6 L1063.7,476.2 L1051.3,468.8 L1041.5,478.7 L1026.7,478.7 L1016.8,471.3 L1002.0,476.2 L984.7,471.3 L967.5,476.2 L952.7,478.7 L937.9,471.3 L928.0,473.7 L918.1,461.4 L908.3,454.0 L898.4,461.4 L883.6,468.8 L871.3,471.3 L854.0,475.0 L836.7,483.6 L821.9,498.4 L809.6,513.2 L794.8,530.5 L745.5,537.9 L746.0,520.0 L746.0,300.0Z" fill="#b2d144"/>
<path d="M902.2,323.7 L912.1,328.6 L929.3,333.5 L946.6,331.1 L961.4,333.5 L973.7,331.1 L981.1,333.5 L988.5,340.9 L1003.3,353.3 L1018.1,373.0 L1037.9,380.4 L1057.6,377.9 L1072.4,387.8 L1084.7,392.7 L1102.0,395.2 L1124.2,392.7 L1139.0,395.2 L1151.3,390.3 L1163.7,382.9 L1176.0,392.7 L1190.8,397.7 L1200.7,402.6 L1210.5,402.6 L1340.0,400.0 L1340.0,470.0 L1130.0,476.2 L1117.9,478.7 L1108.1,483.6 L1098.2,478.7 L1093.3,461.4 L1083.4,461.4 L1071.1,451.5 L1058.7,446.6 L1046.4,451.5 L1036.5,456.5 L1026.7,454.0 L1016.8,451.5 L1002.0,449.1 L987.2,451.5 L967.5,454.0 L947.7,454.0 L928.0,451.5 L918.1,444.1 L913.2,433.0 L903.3,436.7 L893.5,449.1 L883.6,458.9 L871.3,463.9 L854.0,468.8 L836.7,473.7 L821.9,483.6 L809.6,495.9 L799.7,508.3 L789.9,525.5 L745.5,528.0 L746.0,520.0 L746.0,420.0Z" fill="#f9e300"/>
<path d="M902.2,323.7 L912.1,328.6 L929.3,333.5 L946.6,331.1 L961.4,333.5 L973.7,331.1 L981.1,333.5 L988.5,340.9 L1003.3,353.3 L1018.1,373.0 L1037.9,380.4 L1057.6,377.9 L1072.4,387.8 L1084.7,392.7 L1102.0,395.2 L1124.2,392.7 L1139.0,395.2 L1151.3,390.3 L1163.7,382.9 L1176.0,392.7 L1190.8,397.7 L1200.7,402.6 L1210.5,402.6 L1340.0,400.0 L1340.0,440.0 L1130.0,463.9 L1117.9,466.3 L1108.1,468.8 L1098.2,463.9 L1093.3,451.5 L1083.4,449.1 L1071.1,441.7 L1058.7,436.7 L1046.4,441.7 L1036.5,444.1 L1026.7,441.7 L1016.8,439.2 L1002.0,436.7 L987.2,439.2 L967.5,441.7 L947.7,441.7 L928.0,439.2 L918.1,429.3 L913.2,421.9 L898.4,424.4 L883.6,441.7 L871.3,449.1 L854.0,454.0 L836.7,458.9 L821.9,468.8 L809.6,478.7 L799.7,488.5 L789.9,503.3 L745.5,508.3 L746.0,500.0 L746.0,420.0Z" fill="#e5f017"/>
<path d="M1335.0,348.0 L1440.0,348.0 L1475.0,455.0 L1335.0,470.0Z" fill="#b2d144"/>
<path d="M1389.6,338.7 L1514.2,338.7 L1514.2,382.4 L1450.8,384.6 L1445.3,393.4 L1439.9,382.4 L1431.1,378.1 L1420.2,382.4 L1413.6,391.2 L1411.5,399.9 L1396.2,399.9 L1394.0,382.4 L1391.8,364.9Z" fill="#4b939f"/>
<path d="M1400.5,338.7 L1536.1,325.6 L1536.1,364.9 L1498.9,343.1 L1496.7,334.3 L1488.0,332.1 L1477.0,336.5 L1466.1,345.3 L1455.2,354.0 L1445.3,362.8 L1445.3,378.1 L1439.9,373.7 L1435.5,364.9 L1426.8,369.3 L1420.2,378.1 L1413.6,384.6 L1409.3,397.7 L1404.9,399.9 L1402.7,382.4 L1404.9,364.9 L1402.7,351.8Z" fill="#1874cd"/>
<path d="M1450.8,382.4 L1459.6,373.7 L1470.5,364.9 L1481.4,358.4 L1492.4,351.8 L1498.9,345.3 L1536.1,364.9 L1536.1,391.2 L1448.6,395.5Z" fill="#1874cd"/>
<path d="M1361.2,434.9 L1383.0,432.7 L1426.8,430.5 L1426.8,455.0 L1361.2,455.0Z" fill="#e5f017"/>
<path d="M892.3,236.1 L912.1,237.3 L917.0,249.7 L929.3,257.1 L939.2,264.5 L951.5,271.9 L963.9,281.7 L971.3,296.5 L973.7,306.4 L988.5,308.9 L995.9,306.4 L1010.7,311.3 L1018.1,321.2 L1028.0,326.1 L1037.9,333.5 L1052.7,338.5 L1062.5,340.9 L1072.4,336.0 L1084.7,333.5 L1102.0,333.5 L1114.3,336.0 L1126.7,328.6 L1141.5,321.2 L1156.3,316.3 L1176.0,318.7 L1190.8,323.7 L1208.1,328.6 L1340.0,340.0 L1340.0,520.0 L1130.0,523.1 L1120.4,525.5 L1108.1,518.1 L1093.3,518.1 L1093.3,508.3 L1085.9,503.3 L1071.1,500.9 L1056.3,495.9 L1041.5,498.4 L1026.7,500.9 L1036.5,518.1 L1046.4,532.9 L1036.5,540.3 L1016.8,550.2 L997.1,552.7 L982.3,555.1 L974.9,550.2 L967.5,525.5 L952.7,513.2 L942.8,495.9 L928.0,508.3 L908.3,513.2 L895.9,495.9 L878.7,493.5 L873.7,513.2 L858.9,518.1 L854.0,532.9 L834.3,537.9 L824.4,550.2 L804.7,542.8 L787.4,552.7 L745.5,552.7 L746.0,560.0 L746.0,236.0Z" fill="#4b939f"/>
<path d="M984.7,503.3 L1002.0,500.9 L1011.9,513.2 L997.1,520.6 L982.3,520.6Z" fill="#1874cd"/>
<path d="M897.3,266.9 L904.7,274.3 L912.1,289.1 L919.5,299.0 L926.9,308.9 L936.7,316.3 L946.6,311.3 L961.4,316.3 L973.7,318.7 L983.6,316.3 L988.5,318.7 L998.4,326.1 L1010.7,333.5 L1020.6,340.9 L1028.0,348.3 L1042.8,350.8 L1052.7,355.7 L1062.5,348.3 L1074.9,343.4 L1087.2,348.3 L1102.0,353.3 L1116.8,373.0 L1126.7,375.5 L1139.0,373.0 L1151.3,370.5 L1163.7,375.5 L1176.0,373.0 L1185.9,377.9 L1198.2,373.0 L1210.5,373.0 L1340.0,360.0 L1340.0,500.0 L1130.0,518.1 L1120.4,513.2 L1110.5,508.3 L1098.2,495.9 L1090.8,491.0 L1076.0,491.0 L1063.7,483.6 L1051.3,478.7 L1041.5,488.5 L1026.7,488.5 L1016.8,478.7 L1002.0,483.6 L984.7,478.7 L967.5,483.6 L952.7,486.1 L937.9,478.7 L928.0,483.6 L913.2,483.6 L895.9,478.7 L873.7,476.2 L851.5,478.7 L834.3,491.0 L819.5,508.3 L804.7,528.0 L789.9,537.9 L745.5,542.8 L746.0,540.0 L746.0,300.0Z" fill="#7fb272"/>
<path d="M897.3,266.9 L904.7,274.3 L912.1,289.1 L919.5,299.0 L926.9,308.9 L936.7,316.3 L946.6,311.3 L961.4,316.3 L973.7,318.7 L983.6,316.3 L988.5,318.7 L998.4,326.1 L1010.7,333.5 L1020.6,340.9 L1028.0,348.3 L1042.8,350.8 L1052.7,355.7 L1062.5,348.3 L1074.9,343.4 L1087.2,348.3 L1102.0,353.3 L1116.8,373.0 L1126.7,375.5 L1139.0,373.0 L1151.3,370.5 L1163.7,375.5 L1176.0,373.0 L1185.9,377.9 L1198.2,373.0 L1210.5,373.0 L1340.0,360.0 L1340.0,480.0 L1130.0,495.9 L1117.9,498.4 L1108.1,495.9 L1098.2,488.5 L1090.8,483.6 L1076.0,483.6 L1063.7,476.2 L1051.3,468.8 L1041.5,478.7 L1026.7,478.7 L1016.8,471.3 L1002.0,476.2 L984.7,471.3 L967.5,476.2 L952.7,478.7 L937.9,471.3 L928.0,473.7 L918.1,461.4 L908.3,454.0 L898.4,461.4 L883.6,468.8 L871.3,471.3 L854.0,475.0 L836.7,483.6 L821.9,498.4 L809.6,513.2 L794.8,530.5 L745.5,537.9 L746.0,520.0 L746.0,300.0Z" fill="#b2d144"/>
<path d="M902.2,323.7 L912.1,328.6 L929.3,333.5 L946.6,331.1 L961.4,333.5 L973.7,331.1 L981.1,333.5 L988.5,340.9 L1003.3,353.3 L1018.1,373.0 L1037.9,380.4 L1057.6,377.9 L1072.4,387.8 L1084.7,392.7 L1102.0,395.2 L1124.2,392.7 L1139.0,395.2 L1151.3,390.3 L1163.7,382.9 L1176.0,392.7 L1190.8,397.7 L1200.7,402.6 L1210.5,402.6 L1340.0,400.0 L1340.0,470.0 L1130.0,476.2 L1117.9,478.7 L1108.1,483.6 L1098.2,478.7 L1093.3,461.4 L1083.4,461.4 L1071.1,451.5 L1058.7,446.6 L1046.4,451.5 L1036.5,456.5 L1026.7,454.0 L1016.8,451.5 L1002.0,449.1 L987.2,451.5 L967.5,454.0 L947.7,454.0 L928.0,451.5 L918.1,444.1 L913.2,433.0 L903.3,436.7 L893.5,449.1 L883.6,458.9 L871.3,463.9 L854.0,468.8 L836.7,473.7 L821.9,483.6 L809.6,495.9 L799.7,508.3 L789.9,525.5 L745.5,528.0 L746.0,520.0 L746.0,420.0Z" fill="#f9e300"/>
<path d="M902.2,323.7 L912.1,328.6 L929.3,333.5 L946.6,331.1 L961.4,333.5 L973.7,331.1 L981.1,333.5 L988.5,340.9 L1003.3,353.3 L1018.1,373.0 L1037.9,380.4 L1057.6,377.9 L1072.4,387.8 L1084.7,392.7 L1102.0,395.2 L1124.2,392.7 L1139.0,395.2 L1151.3,390.3 L1163.7,382.9 L1176.0,392.7 L1190.8,397.7 L1200.7,402.6 L1210.5,402.6 L1340.0,400.0 L1340.0,440.0 L1130.0,463.9 L1117.9,466.3 L1108.1,468.8 L1098.2,463.9 L1093.3,451.5 L1083.4,449.1 L1071.1,441.7 L1058.7,436.7 L1046.4,441.7 L1036.5,444.1 L1026.7,441.7 L1016.8,439.2 L1002.0,436.7 L987.2,439.2 L967.5,441.7 L947.7,441.7 L928.0,439.2 L918.1,429.3 L913.2,421.9 L898.4,424.4 L883.6,441.7 L871.3,449.1 L854.0,454.0 L836.7,458.9 L821.9,468.8 L809.6,478.7 L799.7,488.5 L789.9,503.3 L745.5,508.3 L746.0,500.0 L746.0,420.0Z" fill="#e5f017"/>
<path d="M1335.0,348.0 L1440.0,348.0 L1475.0,455.0 L1335.0,470.0Z" fill="#b2d144"/>
<path d="M1389.6,338.7 L1514.2,338.7 L1514.2,382.4 L1450.8,384.6 L1445.3,393.4 L1439.9,382.4 L1431.1,378.1 L1420.2,382.4 L1413.6,391.2 L1411.5,399.9 L1396.2,399.9 L1394.0,382.4 L1391.8,364.9Z" fill="#4b939f"/>
<path d="M1400.5,338.7 L1536.1,325.6 L1536.1,364.9 L1498.9,343.1 L1496.7,334.3 L1488.0,332.1 L1477.0,336.5 L1466.1,345.3 L1455.2,354.0 L1445.3,362.8 L1445.3,378.1 L1439.9,373.7 L1435.5,364.9 L1426.8,369.3 L1420.2,378.1 L1413.6,384.6 L1409.3,397.7 L1404.9,399.9 L1402.7,382.4 L1404.9,364.9 L1402.7,351.8Z" fill="#1874cd"/>
<path d="M1450.8,382.4 L1459.6,373.7 L1470.5,364.9 L1481.4,358.4 L1492.4,351.8 L1498.9,345.3 L1536.1,364.9 L1536.1,391.2 L1448.6,395.5Z" fill="#1874cd"/>
<path d="M1361.2,434.9 L1383.0,432.7 L1426.8,430.5 L1426.8,455.0 L1361.2,455.0Z" fill="#e5f017"/>
<path d="M413.5,271.9 L423.3,264.5 L433.2,266.9 L443.1,264.5 L457.9,264.5 L467.7,269.4 L470.2,281.7 L470.2,296.5 L472.7,308.9 L457.9,311.3 L438.1,321.2 L418.4,328.6 L403.6,323.7 L393.7,308.9 L392.5,301.5 L401.1,291.6 L406.1,281.7Z" fill="#4b939f"/>
<g filter="url(#p420_100_9)">
<path d="M393.7,299.0 L401.1,292.8 L406.1,284.2 L411.0,275.6 L418.4,271.9 L425.8,274.3 L428.3,284.2 L423.3,291.6 L428.3,299.0 L438.1,296.5 L450.5,295.3 L462.8,296.5 L470.2,303.9 L472.7,310.1 L460.3,311.3 L448.0,308.9 L440.6,317.5 L434.4,326.1 L418.4,328.6 L406.1,323.7 L398.7,313.8 L392.5,306.4Z" fill="#4b939f" stroke="#4b939f" stroke-width="7.0" stroke-linejoin="round" stroke-linecap="round"/>
<path d="M393.7,299.0 L401.1,292.8 L406.1,284.2 L411.0,275.6 L418.4,271.9 L425.8,274.3 L428.3,284.2 L423.3,291.6 L428.3,299.0 L438.1,296.5 L450.5,295.3 L462.8,296.5 L470.2,303.9 L472.7,310.1 L460.3,311.3 L448.0,308.9 L440.6,317.5 L434.4,326.1 L418.4,328.6 L406.1,323.7 L398.7,313.8 L392.5,306.4Z" fill="#b2d144" stroke="#b2d144" stroke-width="3.0" stroke-linejoin="round" stroke-linecap="round"/>
<path d="M393.7,299.0 L401.1,292.8 L406.1,284.2 L411.0,275.6 L418.4,271.9 L425.8,274.3 L428.3,284.2 L423.3,291.6 L428.3,299.0 L438.1,296.5 L450.5,295.3 L462.8,296.5 L470.2,303.9 L472.7,310.1 L460.3,311.3 L448.0,308.9 L440.6,317.5 L434.4,326.1 L418.4,328.6 L406.1,323.7 L398.7,313.8 L392.5,306.4Z" fill="#e5f017"/>
</g>
<g filter="url(#p420_100_9)">
<g filter="url(#p580_200_11)">
<path d="M393.7,299.0 L401.1,292.8 L406.1,284.2 L411.0,275.6 L418.4,271.9 L425.8,274.3 L428.3,284.2 L423.3,291.6 L428.3,299.0 L438.1,296.5 L450.5,295.3 L462.8,296.5 L470.2,303.9 L472.7,310.1 L460.3,311.3 L448.0,308.9 L440.6,317.5 L434.4,326.1 L418.4,328.6 L406.1,323.7 L398.7,313.8 L392.5,306.4Z" fill="#eeaa00"/>
</g>
</g>
<path d="M428.3,278.0 L438.1,281.7 L445.5,291.6 L440.6,296.5 L430.7,296.5 L425.8,289.1Z" fill="#b2d144"/>
<g filter="url(#p500_120_5)">
<path d="M408.5,291.6 L415.9,289.1 L420.9,296.5 L415.9,303.9 L409.8,301.5Z" fill="#eeaa00"/>
</g>
<g filter="url(#p500_120_5)">
<path d="M423.3,303.9 L433.2,301.5 L438.1,306.4 L430.7,311.3 L424.6,310.1Z" fill="#eeaa00"/>
</g>
<g filter="url(#p500_120_5)">
<path d="M443.1,299.0 L452.9,297.8 L457.9,302.7 L448.0,305.2Z" fill="#eeaa00"/>
</g>
<g filter="url(#p500_120_5)">
<path d="M412.2,311.3 L420.9,310.1 L423.3,316.3 L415.9,320.0Z" fill="#eeaa00"/>
</g>
<path d="M420.9,239.8 L421.4,249.7 L420.4,257.1 L415.9,262.0 L411.0,269.4 L408.5,276.8" fill="none" stroke="#4b939f" stroke-width="4.5" stroke-linejoin="round" stroke-linecap="round"/>
<path d="M420.9,239.8 L421.4,249.7 L420.4,257.1 L415.9,262.0 L411.0,269.4 L408.5,276.8" fill="none" stroke="#e5f017" stroke-width="1.5" stroke-linejoin="round" stroke-linecap="round"/>
<path d="M403.6,249.7 L411.0,259.5 L415.9,262.0" fill="none" stroke="#4b939f" stroke-width="3.2" stroke-linejoin="round" stroke-linecap="round"/>
<path d="M403.6,249.7 L411.0,259.5 L415.9,262.0" fill="none" stroke="#e5f017" stroke-width="1.2" stroke-linejoin="round" stroke-linecap="round"/>
<path d="M448.0,244.7 L446.8,254.6 L445.5,262.0 L438.1,265.7 L430.7,269.4" fill="none" stroke="#4b939f" stroke-width="4.5" stroke-linejoin="round" stroke-linecap="round"/>
<path d="M448.0,244.7 L446.8,254.6 L445.5,262.0 L438.1,265.7 L430.7,269.4" fill="none" stroke="#e5f017" stroke-width="1.5" stroke-linejoin="round" stroke-linecap="round"/>
<path d="M445.5,262.0 L460.3,266.9 L469.0,270.6" fill="none" stroke="#4b939f" stroke-width="5.5" stroke-linejoin="round" stroke-linecap="round"/>
<path d="M445.5,262.0 L460.3,266.9 L469.0,270.6" fill="none" stroke="#e5f017" stroke-width="1.5" stroke-linejoin="round" stroke-linecap="round"/>
<path d="M341.9,323.7 L353.0,324.9 L359.2,329.8 L355.5,336.0 L349.3,340.9 L348.1,353.3 L345.6,365.6 L339.5,373.0 L334.5,377.9 L337.0,363.1 L339.5,348.3 L340.7,333.5Z" fill="#4b939f"/>
<path d="M346.9,326.1 L356.7,328.6 L358.0,333.5 L351.8,336.0 L348.1,332.3Z" fill="#b2d144"/>
<path d="M329.6,377.9 L341.9,375.5 L351.8,382.9 L358.0,395.2 L359.2,407.5 L359.2,418.6 L322.2,418.6 L321.0,407.5 L327.1,397.7 L328.4,387.8Z" fill="#4b939f"/>
<g filter="url(#p420_100_9)">
<path d="M332.1,382.9 L341.9,380.4 L349.3,387.8 L354.3,395.2 L349.3,400.1 L341.9,397.7 L337.0,392.7 L330.8,390.3Z" fill="#b2d144" stroke="#b2d144" stroke-width="3.0" stroke-linejoin="round" stroke-linecap="round"/>
<path d="M332.1,382.9 L341.9,380.4 L349.3,387.8 L354.3,395.2 L349.3,400.1 L341.9,397.7 L337.0,392.7 L330.8,390.3Z" fill="#e5f017"/>
</g>
<g filter="url(#p420_100_9)">
<g filter="url(#p580_200_11)">
<path d="M332.1,382.9 L341.9,380.4 L349.3,387.8 L354.3,395.2 L349.3,400.1 L341.9,397.7 L337.0,392.7 L330.8,390.3Z" fill="#eeaa00"/>
</g>
</g>
<g filter="url(#p420_100_9)">
<path d="M324.7,407.5 L334.5,402.6 L346.9,405.1 L355.5,408.8 L356.7,417.4 L346.9,416.2 L337.0,414.9 L327.1,417.4 L322.2,414.9Z" fill="#b2d144" stroke="#b2d144" stroke-width="3.0" stroke-linejoin="round" stroke-linecap="round"/>
<path d="M324.7,407.5 L334.5,402.6 L346.9,405.1 L355.5,408.8 L356.7,417.4 L346.9,416.2 L337.0,414.9 L327.1,417.4 L322.2,414.9Z" fill="#e5f017"/>
</g>
<g filter="url(#p420_100_9)">
<g filter="url(#p580_200_11)">
<path d="M324.7,407.5 L334.5,402.6 L346.9,405.1 L355.5,408.8 L356.7,417.4 L346.9,416.2 L337.0,414.9 L327.1,417.4 L322.2,414.9Z" fill="#eeaa00"/>
</g>
</g>
<path d="M381.4,348.3 L385.1,338.5 L391.3,328.6 L398.7,323.7" fill="none" stroke="#4b939f" stroke-width="4.5" stroke-linejoin="round" stroke-linecap="round"/>
<path d="M381.4,348.3 L385.1,338.5 L391.3,328.6 L398.7,323.7" fill="none" stroke="#e5f017" stroke-width="1.5" stroke-linejoin="round" stroke-linecap="round"/>
<path d="M398.7,333.5 L402.4,343.4 L406.1,347.1 L423.3,345.9" fill="none" stroke="#4b939f" stroke-width="3.9" stroke-linejoin="round" stroke-linecap="round"/>
<path d="M398.7,333.5 L402.4,343.4 L406.1,347.1 L423.3,345.9" fill="none" stroke="#e5f017" stroke-width="1.5" stroke-linejoin="round" stroke-linecap="round"/>
<path d="M418.4,347.1 L420.9,355.7 L428.3,357.0" fill="none" stroke="#4b939f" stroke-width="3.2" stroke-linejoin="round" stroke-linecap="round"/>
<path d="M418.4,347.1 L420.9,355.7 L428.3,357.0" fill="none" stroke="#e5f017" stroke-width="1.2" stroke-linejoin="round" stroke-linecap="round"/>
<path d="M423.3,407.5 L433.2,402.6 L445.5,392.7 L457.9,380.4 L470.2,375.5 L471.4,417.4 L418.4,417.4Z" fill="#4b939f"/>
<path d="M445.5,397.7 L452.9,390.3 L460.3,385.3 L470.2,382.9 L471.4,397.7 L470.2,417.4 L438.1,417.4 L440.6,407.5Z" fill="#b2d144"/>
<path d="M531.9,395.2 L544.2,386.6 L556.5,390.3 L568.9,392.7 L571.3,397.7 L561.5,402.6 L556.5,410.0 L544.2,412.5 L536.8,417.4 L522.0,412.5 L531.9,407.5Z" fill="#4b939f"/>
<g filter="url(#p420_100_9)">
<path d="M483.8,345.9 L486.2,353.3 L491.2,363.1 L497.3,375.5 L504.7,385.3 L514.6,392.7 L526.9,396.4 L533.1,401.4 L530.6,407.5 L519.5,408.8 L504.7,405.1 L492.4,396.4 L483.8,385.3 L477.6,375.5 L473.9,365.6 L467.7,363.1 L460.3,370.5 L450.5,373.0 L457.9,365.6 L465.3,358.2 L470.2,350.8 L477.6,348.3Z" fill="#4b939f" stroke="#4b939f" stroke-width="8.0" stroke-linejoin="round" stroke-linecap="round"/>
<path d="M483.8,345.9 L486.2,353.3 L491.2,363.1 L497.3,375.5 L504.7,385.3 L514.6,392.7 L526.9,396.4 L533.1,401.4 L530.6,407.5 L519.5,408.8 L504.7,405.1 L492.4,396.4 L483.8,385.3 L477.6,375.5 L473.9,365.6 L467.7,363.1 L460.3,370.5 L450.5,373.0 L457.9,365.6 L465.3,358.2 L470.2,350.8 L477.6,348.3Z" fill="#b2d144" stroke="#b2d144" stroke-width="3.0" stroke-linejoin="round" stroke-linecap="round"/>
<path d="M483.8,345.9 L486.2,353.3 L491.2,363.1 L497.3,375.5 L504.7,385.3 L514.6,392.7 L526.9,396.4 L533.1,401.4 L530.6,407.5 L519.5,408.8 L504.7,405.1 L492.4,396.4 L483.8,385.3 L477.6,375.5 L473.9,365.6 L467.7,363.1 L460.3,370.5 L450.5,373.0 L457.9,365.6 L465.3,358.2 L470.2,350.8 L477.6,348.3Z" fill="#e5f017"/>
</g>
<g filter="url(#p420_100_9)">
<g filter="url(#p580_200_11)">
<path d="M483.8,345.9 L486.2,353.3 L491.2,363.1 L497.3,375.5 L504.7,385.3 L514.6,392.7 L526.9,396.4 L533.1,401.4 L530.6,407.5 L519.5,408.8 L504.7,405.1 L492.4,396.4 L483.8,385.3 L477.6,375.5 L473.9,365.6 L467.7,363.1 L460.3,370.5 L450.5,373.0 L457.9,365.6 L465.3,358.2 L470.2,350.8 L477.6,348.3Z" fill="#eeaa00"/>
</g>
</g>
<g filter="url(#p500_120_5)">
<path d="M487.5,373.0 L494.9,382.9 L502.3,392.7 L497.3,392.7 L489.9,382.9Z" fill="#eeaa00"/>
</g>
<g filter="url(#p500_120_5)">
<path d="M509.7,397.7 L522.0,401.4 L519.5,405.1 L509.7,402.6Z" fill="#eeaa00"/>
</g>
<path d="M473.9,308.9 L480.1,303.9 L487.5,301.5 L494.9,308.9 L497.3,312.6" fill="none" stroke="#4b939f" stroke-width="3.7" stroke-linejoin="round" stroke-linecap="round"/>
<path d="M473.9,308.9 L480.1,303.9 L487.5,301.5 L494.9,308.9 L497.3,312.6" fill="none" stroke="#e5f017" stroke-width="1.3" stroke-linejoin="round" stroke-linecap="round"/>
<path d="M483.8,318.7 L488.7,323.7" fill="none" stroke="#4b939f" stroke-width="3.7" stroke-linejoin="round" stroke-linecap="round"/>
<path d="M483.8,318.7 L488.7,323.7" fill="none" stroke="#e5f017" stroke-width="1.3" stroke-linejoin="round" stroke-linecap="round"/>
<path d="M598.5,271.9 L610.8,262.0 L620.7,257.1 L625.6,248.4" fill="none" stroke="#4b939f" stroke-width="2.5" stroke-linejoin="round" stroke-linecap="round"/>
<path d="M323.4,422.4 L362.9,422.4 L374.0,437.2 L383.9,442.1 L381.4,452.0 L369.1,449.5 L359.2,452.0 L355.5,464.3 L359.2,476.7 L364.1,493.9 L367.8,513.7 L362.9,521.1 L353.0,513.7 L344.4,506.3 L335.8,497.6 L330.8,486.5 L325.9,471.7 L321.7,456.9 L321.0,442.1Z" fill="#4b939f"/>
<g filter="url(#p420_100_9)">
<path d="M327.1,424.9 L359.2,424.9 L358.0,436.0 L350.6,447.1 L352.3,459.4 L356.7,471.7 L361.2,486.5 L363.6,498.9 L364.6,512.4 L360.4,517.4 L354.3,510.0 L346.9,502.6 L339.5,496.4 L334.5,486.5 L329.6,473.0 L324.7,458.2 L324.2,442.1Z" fill="#b2d144" stroke="#b2d144" stroke-width="2.4" stroke-linejoin="round" stroke-linecap="round"/>
<path d="M327.1,424.9 L359.2,424.9 L358.0,436.0 L350.6,447.1 L352.3,459.4 L356.7,471.7 L361.2,486.5 L363.6,498.9 L364.6,512.4 L360.4,517.4 L354.3,510.0 L346.9,502.6 L339.5,496.4 L334.5,486.5 L329.6,473.0 L324.7,458.2 L324.2,442.1Z" fill="#e5f017"/>
</g>
<g filter="url(#p420_100_9)">
<g filter="url(#p580_200_11)">
<path d="M327.1,424.9 L359.2,424.9 L358.0,436.0 L350.6,447.1 L352.3,459.4 L356.7,471.7 L361.2,486.5 L363.6,498.9 L364.6,512.4 L360.4,517.4 L354.3,510.0 L346.9,502.6 L339.5,496.4 L334.5,486.5 L329.6,473.0 L324.7,458.2 L324.2,442.1Z" fill="#eeaa00"/>
</g>
</g>
<path d="M332.1,444.6 L339.5,442.1 L343.2,454.5 L346.9,471.7 L349.3,486.5 L344.4,489.0 L339.5,476.7 L334.5,461.9Z" fill="#4b939f"/>
<path d="M334.5,429.8 L343.2,428.6 L345.6,437.2 L339.5,439.7Z" fill="#1874cd"/>
<g filter="url(#p500_120_5)">
<path d="M337.0,471.7 L343.2,470.5 L346.9,484.1 L349.3,496.4 L344.4,496.4 L339.5,484.1Z" fill="#eeaa00"/>
</g>
<g filter="url(#p500_120_5)">
<path d="M328.4,432.3 L333.3,431.0 L334.5,439.7 L329.6,442.1Z" fill="#eeaa00"/>
</g>
<path d="M364.1,440.9 L374.0,444.6 L382.6,448.3" fill="none" stroke="#4b939f" stroke-width="7.5" stroke-linejoin="round" stroke-linecap="round"/>
<path d="M364.1,440.9 L374.0,444.6 L382.6,448.3" fill="none" stroke="#e5f017" stroke-width="2.5" stroke-linejoin="round" stroke-linecap="round"/>
<path d="M399.9,461.9 L407.3,466.8" fill="none" stroke="#4b939f" stroke-width="7.0" stroke-linejoin="round" stroke-linecap="round"/>
<path d="M399.9,461.9 L407.3,466.8" fill="none" stroke="#e5f017" stroke-width="3.0" stroke-linejoin="round" stroke-linecap="round"/>
<path d="M359.2,442.1 L371.5,452.0 L378.9,469.3 L385.1,477.9 L390.0,484.1 L398.7,498.9 L404.8,512.4 L409.8,519.8 L418.4,535.9 L428.3,549.4 L435.7,563.0 L441.1,575.3 L448.0,585.2 L446.0,595.1 L439.4,604.4 L429.5,609.9" fill="none" stroke="#4b939f" stroke-width="9.6" stroke-linejoin="round" stroke-linecap="round"/>
<path d="M359.2,442.1 L371.5,452.0 L378.9,469.3 L385.1,477.9 L390.0,484.1 L398.7,498.9 L404.8,512.4 L409.8,519.8 L418.4,535.9 L428.3,549.4 L435.7,563.0 L441.1,575.3 L448.0,585.2 L446.0,595.1 L439.4,604.4 L429.5,609.9" fill="none" stroke="#b2d144" stroke-width="5.2" stroke-linejoin="round" stroke-linecap="round"/>
<path d="M359.2,442.1 L371.5,452.0 L378.9,469.3 L385.1,477.9 L390.0,484.1 L398.7,498.9 L404.8,512.4 L409.8,519.8 L418.4,535.9 L428.3,549.4 L435.7,563.0 L441.1,575.3 L448.0,585.2 L446.0,595.1 L439.4,604.4 L429.5,609.9" fill="none" stroke="#e5f017" stroke-width="3.2" stroke-linejoin="round" stroke-linecap="round"/>
<path d="M381.4,473.0 L390.0,485.3 L398.7,500.1 L408.5,518.6" fill="none" stroke="#eeaa00" stroke-width="1.5" stroke-linejoin="round" stroke-linecap="round"/>
<path d="M365.4,523.5 L374.0,530.9 L381.4,545.7 L391.3,563.0 L401.1,580.3 L411.0,595.1 L423.3,604.9 L433.2,608.6 L428.3,614.8 L415.9,617.3 L403.6,614.8 L398.7,604.9 L395.0,595.1 L388.8,585.2 L381.4,575.3 L374.0,563.0 L369.1,548.2 L370.3,538.3 L361.7,530.9Z" fill="#4b939f"/>
<g filter="url(#p360_100_9)">
<path d="M367.8,530.9 L378.4,547.0 L387.6,562.5 L396.2,577.3 L404.8,592.1 L413.5,603.0 L424.6,609.4 L415.9,615.3 L404.8,612.3 L396.7,600.5 L388.8,589.6 L380.9,577.3 L374.0,564.5 L369.1,550.2Z" fill="#b2d144" stroke="#b2d144" stroke-width="3.0" stroke-linejoin="round" stroke-linecap="round"/>
<path d="M367.8,530.9 L378.4,547.0 L387.6,562.5 L396.2,577.3 L404.8,592.1 L413.5,603.0 L424.6,609.4 L415.9,615.3 L404.8,612.3 L396.7,600.5 L388.8,589.6 L380.9,577.3 L374.0,564.5 L369.1,550.2Z" fill="#e5f017"/>
</g>
<g filter="url(#p360_100_9)">
<g filter="url(#p580_200_11)">
<path d="M367.8,530.9 L378.4,547.0 L387.6,562.5 L396.2,577.3 L404.8,592.1 L413.5,603.0 L424.6,609.4 L415.9,615.3 L404.8,612.3 L396.7,600.5 L388.8,589.6 L380.9,577.3 L374.0,564.5 L369.1,550.2Z" fill="#eeaa00"/>
</g>
</g>
<path d="M381.4,560.5 L388.8,572.9 L397.4,587.7 L393.7,588.9 L385.1,575.3 L378.9,563.0Z" fill="#4b939f"/>
<path d="M429.5,609.9 L440.6,616.0 L450.5,619.7 L462.8,621.0 L472.7,623.4 L481.3,629.6" fill="none" stroke="#4b939f" stroke-width="10.0" stroke-linejoin="round" stroke-linecap="round"/>
<path d="M429.5,609.9 L440.6,616.0 L450.5,619.7 L462.8,621.0 L472.7,623.4 L481.3,629.6" fill="none" stroke="#b2d144" stroke-width="5.0" stroke-linejoin="round" stroke-linecap="round"/>
<path d="M429.5,609.9 L440.6,616.0 L450.5,619.7 L462.8,621.0 L472.7,623.4 L481.3,629.6" fill="none" stroke="#e5f017" stroke-width="3.0" stroke-linejoin="round" stroke-linecap="round"/>
<path d="M438.1,604.9 L448.0,597.5 L451.7,587.7" fill="none" stroke="#4b939f" stroke-width="6.5" stroke-linejoin="round" stroke-linecap="round"/>
<path d="M438.1,604.9 L448.0,597.5 L451.7,587.7" fill="none" stroke="#e5f017" stroke-width="2.5" stroke-linejoin="round" stroke-linecap="round"/>
<path d="M433.2,553.1 L436.9,567.9 L439.4,582.7" fill="none" stroke="#4b939f" stroke-width="5.0" stroke-linejoin="round" stroke-linecap="round"/>
<path d="M433.2,553.1 L436.9,567.9 L439.4,582.7" fill="none" stroke="#e5f017" stroke-width="2.0" stroke-linejoin="round" stroke-linecap="round"/>
<path d="M445.5,553.1 L451.7,563.0 L457.9,572.9 L464.0,579.0" fill="none" stroke="#4b939f" stroke-width="6.0" stroke-linejoin="round" stroke-linecap="round"/>
<path d="M445.5,553.1 L451.7,563.0 L457.9,572.9 L464.0,579.0" fill="none" stroke="#e5f017" stroke-width="2.0" stroke-linejoin="round" stroke-linecap="round"/>
<path d="M457.9,553.1 L462.8,563.0 L470.2,572.9" fill="none" stroke="#4b939f" stroke-width="4.5" stroke-linejoin="round" stroke-linecap="round"/>
<path d="M457.9,553.1 L462.8,563.0 L470.2,572.9" fill="none" stroke="#e5f017" stroke-width="1.5" stroke-linejoin="round" stroke-linecap="round"/>
<path d="M496.1,565.5 L503.5,572.9 L506.0,569.2 L498.6,564.2" fill="none" stroke="#e5f017" stroke-width="2.0" stroke-linejoin="round" stroke-linecap="round"/>
<path d="M512.1,553.1 L510.9,564.2" fill="none" stroke="#e5f017" stroke-width="2.5" stroke-linejoin="round" stroke-linecap="round"/>
<path d="M468.2,556.8 L472.7,563.0 L476.4,575.3 L482.5,585.2 L489.9,587.7 L491.2,593.1" fill="none" stroke="#4d4d4d" stroke-width="3.5" stroke-linejoin="round" stroke-linecap="round"/>
<path d="M491.2,593.8 L493.6,602.5" fill="none" stroke="#b3b3b3" stroke-width="4.0" stroke-linejoin="round" stroke-linecap="round"/>
<g filter="url(#p470_130_2)">
<path d="M492.4,613.6 L504.7,616.0 L517.1,619.7 L526.9,624.7 L533.1,633.3 L522.0,635.0 L509.7,632.1 L499.8,624.7Z" fill="#b3b3b3"/>
</g>
<path d="M528.2,560.5 L530.6,572.9" fill="none" stroke="#b3b3b3" stroke-width="3.0" stroke-linejoin="round" stroke-linecap="round"/>
<path d="M411.0,444.6 L423.3,434.7 L433.2,427.3 L448.0,422.4 L472.7,422.4 L489.9,424.9 L507.2,434.7 L512.1,452.0 L502.3,466.8 L487.5,474.2 L472.7,479.1 L470.2,489.0 L482.5,496.4 L497.3,498.9 L507.2,496.4 L517.1,506.3 L533.1,511.2 L533.1,545.7 L522.0,543.3 L509.7,549.4 L497.3,547.0 L487.5,551.9 L477.6,547.0 L467.7,539.6 L457.9,529.7 L448.0,517.4 L438.1,513.7 L428.3,503.8 L418.4,496.4 L411.0,489.0Z" fill="#4b939f"/>
<path d="M438.1,428.6 L448.0,424.4 L457.9,431.8 L467.7,436.7 L482.5,449.0 L488.7,454.5 L478.8,464.3 L470.2,471.2 L462.8,468.0 L457.9,456.9 L448.0,449.5 L440.6,439.7Z" fill="#b2d144"/>
<g filter="url(#p420_100_9)">
<path d="M412.2,448.3 L423.3,438.4 L433.2,431.0 L441.8,429.8 L445.5,439.7 L452.9,449.5 L460.3,459.4 L462.8,471.7 L457.9,479.6 L453.4,489.0 L458.4,500.8 L472.7,508.2 L487.5,513.2 L497.3,505.8 L504.7,500.8 L512.1,513.2 L522.0,515.6 L533.1,518.1 L533.1,542.8 L522.0,540.3 L509.7,545.2 L497.3,542.8 L487.5,547.7 L477.6,542.8 L467.7,535.4 L457.9,525.5 L448.0,513.2 L438.1,510.7 L428.3,500.8 L418.4,493.4 L412.7,486.5 L415.9,471.7 L412.5,459.4Z" fill="#b2d144" stroke="#b2d144" stroke-width="3.0" stroke-linejoin="round" stroke-linecap="round"/>
<path d="M412.2,448.3 L423.3,438.4 L433.2,431.0 L441.8,429.8 L445.5,439.7 L452.9,449.5 L460.3,459.4 L462.8,471.7 L457.9,479.6 L453.4,489.0 L458.4,500.8 L472.7,508.2 L487.5,513.2 L497.3,505.8 L504.7,500.8 L512.1,513.2 L522.0,515.6 L533.1,518.1 L533.1,542.8 L522.0,540.3 L509.7,545.2 L497.3,542.8 L487.5,547.7 L477.6,542.8 L467.7,535.4 L457.9,525.5 L448.0,513.2 L438.1,510.7 L428.3,500.8 L418.4,493.4 L412.7,486.5 L415.9,471.7 L412.5,459.4Z" fill="#e5f017"/>
</g>
<g filter="url(#p420_100_9)">
<g filter="url(#p580_200_11)">
<path d="M412.2,448.3 L423.3,438.4 L433.2,431.0 L441.8,429.8 L445.5,439.7 L452.9,449.5 L460.3,459.4 L462.8,471.7 L457.9,479.6 L453.4,489.0 L458.4,500.8 L472.7,508.2 L487.5,513.2 L497.3,505.8 L504.7,500.8 L512.1,513.2 L522.0,515.6 L533.1,518.1 L533.1,542.8 L522.0,540.3 L509.7,545.2 L497.3,542.8 L487.5,547.7 L477.6,542.8 L467.7,535.4 L457.9,525.5 L448.0,513.2 L438.1,510.7 L428.3,500.8 L418.4,493.4 L412.7,486.5 L415.9,471.7 L412.5,459.4Z" fill="#eeaa00"/>
</g>
</g>
<path d="M457.9,489.0 L472.7,486.5 L487.5,496.4 L477.6,508.2 L462.8,505.8 L455.4,498.9Z" fill="#4b939f" stroke="#4b939f" stroke-width="4.0" stroke-linejoin="round" stroke-linecap="round"/>
<path d="M457.9,489.0 L472.7,486.5 L487.5,496.4 L477.6,508.2 L462.8,505.8 L455.4,498.9Z" fill="#1874cd"/>
<g filter="url(#p500_120_5)">
<path d="M418.4,452.0 L428.3,444.6 L434.4,454.5 L428.3,464.3 L420.9,461.9Z" fill="#eeaa00"/>
</g>
<g filter="url(#p500_120_5)">
<path d="M428.3,474.2 L440.6,469.3 L448.0,479.1 L440.6,489.0 L430.7,486.5Z" fill="#eeaa00"/>
</g>
<g filter="url(#p500_120_5)">
<path d="M462.8,513.7 L472.7,516.1 L477.6,526.0 L470.2,530.9 L462.8,523.5Z" fill="#eeaa00"/>
</g>
<g filter="url(#p500_120_5)">
<path d="M492.4,523.5 L504.7,518.6 L509.7,530.9 L499.8,535.9Z" fill="#eeaa00"/>
</g>
<g filter="url(#p500_120_5)">
<path d="M517.1,521.1 L529.4,523.5 L530.6,533.4 L519.5,533.4Z" fill="#eeaa00"/>
</g>
<g filter="url(#p500_120_5)">
<path d="M438.1,496.4 L448.0,498.9 L450.5,508.7 L441.8,506.3Z" fill="#eeaa00"/>
</g>
<path d="M502.3,464.3 L517.1,459.4 L531.9,464.3 L533.1,496.4 L522.0,493.9 L512.1,484.1Z" fill="#4b939f"/>
<g filter="url(#p420_100_9)">
<path d="M538.0,434.7 L546.7,429.8 L561.5,427.3 L576.3,424.9 L581.2,439.7 L583.7,454.5 L588.6,469.3 L581.2,479.1 L576.3,496.4 L568.9,508.7 L561.5,521.1 L551.6,530.9 L541.7,538.3 L538.0,543.3Z" fill="#4b939f" stroke="#4b939f" stroke-width="8.0" stroke-linejoin="round" stroke-linecap="round"/>
<path d="M538.0,434.7 L546.7,429.8 L561.5,427.3 L576.3,424.9 L581.2,439.7 L583.7,454.5 L588.6,469.3 L581.2,479.1 L576.3,496.4 L568.9,508.7 L561.5,521.1 L551.6,530.9 L541.7,538.3 L538.0,543.3Z" fill="#b2d144" stroke="#b2d144" stroke-width="3.0" stroke-linejoin="round" stroke-linecap="round"/>
<path d="M538.0,434.7 L546.7,429.8 L561.5,427.3 L576.3,424.9 L581.2,439.7 L583.7,454.5 L588.6,469.3 L581.2,479.1 L576.3,496.4 L568.9,508.7 L561.5,521.1 L551.6,530.9 L541.7,538.3 L538.0,543.3Z" fill="#e5f017"/>
</g>
<g filter="url(#p420_100_9)">
<g filter="url(#p580_200_11)">
<path d="M538.0,434.7 L546.7,429.8 L561.5,427.3 L576.3,424.9 L581.2,439.7 L583.7,454.5 L588.6,469.3 L581.2,479.1 L576.3,496.4 L568.9,508.7 L561.5,521.1 L551.6,530.9 L541.7,538.3 L538.0,543.3Z" fill="#eeaa00"/>
</g>
</g>
<path d="M567.6,439.7 L578.7,438.4 L583.7,452.0 L581.2,464.3 L571.3,461.9Z" fill="#4b939f"/>
<path d="M540.5,452.0 L551.6,444.6 L559.0,452.0 L556.5,464.3 L546.7,466.8Z" fill="#f9e300"/>
<g filter="url(#p500_120_5)">
<path d="M556.5,464.3 L563.9,461.9 L565.2,476.7 L559.0,479.1Z" fill="#eeaa00"/>
</g>
<g filter="url(#p500_120_5)">
<path d="M544.2,479.1 L554.1,476.7 L556.5,493.9 L546.7,496.4Z" fill="#eeaa00"/>
</g>
<g filter="url(#p500_120_5)">
<path d="M546.7,508.7 L556.5,506.3 L554.1,518.6 L545.4,521.1Z" fill="#eeaa00"/>
</g>
<path d="M591.1,508.7 L599.7,487.8 L609.6,476.7 L619.4,463.1 L630.5,454.5 L642.9,456.9 L642.9,553.1 L620.7,547.0 L605.9,542.0 L596.0,537.1 L583.7,542.0 L571.3,547.0 L556.5,549.4 L544.2,547.0 L559.0,533.4 L578.7,527.2Z" fill="#4b939f"/>
<g filter="url(#p420_100_9)">
<path d="M592.3,510.0 L601.4,490.2 L611.3,479.6 L621.2,465.6 L631.0,457.4 L641.6,459.9 L641.6,476.7 L628.6,484.6 L621.2,496.9 L628.6,509.2 L641.6,518.6 L641.6,548.2 L620.7,543.3 L605.9,538.3 L596.0,533.4 L583.7,538.3 L571.3,543.3 L556.5,545.7 L547.9,543.8 L562.0,533.9 L579.2,529.0Z" fill="#b2d144" stroke="#b2d144" stroke-width="2.4" stroke-linejoin="round" stroke-linecap="round"/>
<path d="M592.3,510.0 L601.4,490.2 L611.3,479.6 L621.2,465.6 L631.0,457.4 L641.6,459.9 L641.6,476.7 L628.6,484.6 L621.2,496.9 L628.6,509.2 L641.6,518.6 L641.6,548.2 L620.7,543.3 L605.9,538.3 L596.0,533.4 L583.7,538.3 L571.3,543.3 L556.5,545.7 L547.9,543.8 L562.0,533.9 L579.2,529.0Z" fill="#e5f017"/>
</g>
<g filter="url(#p420_100_9)">
<g filter="url(#p580_200_11)">
<path d="M592.3,510.0 L601.4,490.2 L611.3,479.6 L621.2,465.6 L631.0,457.4 L641.6,459.9 L641.6,476.7 L628.6,484.6 L621.2,496.9 L628.6,509.2 L641.6,518.6 L641.6,548.2 L620.7,543.3 L605.9,538.3 L596.0,533.4 L583.7,538.3 L571.3,543.3 L556.5,545.7 L547.9,543.8 L562.0,533.9 L579.2,529.0Z" fill="#eeaa00"/>
</g>
</g>
<path d="M608.3,496.4 L618.2,489.0 L620.7,503.8 L628.1,513.7 L620.7,521.1 L610.8,513.7Z" fill="#4b939f"/>
<g filter="url(#p500_120_5)">
<path d="M603.4,493.9 L610.8,484.1 L618.2,479.1 L614.5,491.5 L607.1,501.3Z" fill="#eeaa00"/>
</g>
<g filter="url(#p500_120_5)">
<path d="M625.6,464.3 L637.9,461.9 L639.2,471.7 L628.1,476.7Z" fill="#eeaa00"/>
</g>
<g filter="url(#p500_120_5)">
<path d="M596.0,521.1 L608.3,518.6 L615.7,528.5 L603.4,533.4Z" fill="#eeaa00"/>
</g>
<g filter="url(#p500_120_5)">
<path d="M628.1,523.5 L640.4,526.0 L640.4,538.3 L630.5,535.9Z" fill="#eeaa00"/>
</g>
<path d="M642.2,448.4 L655.8,449.7 L662.0,459.5 L658.3,469.4 L668.1,479.3 L678.0,481.7 L675.5,491.6 L678.0,503.9 L671.8,517.5 L660.7,516.3 L657.0,528.6 L653.3,540.9 L658.3,548.3 L642.2,548.3Z" fill="#4b939f"/>
<g filter="url(#p420_100_9)">
<path d="M643.5,481.7 L658.3,486.7 L673.1,484.2 L668.1,491.6 L658.3,496.5 L668.1,501.5 L673.1,503.9 L668.1,513.8 L658.3,508.9 L648.4,506.4 L653.3,518.7 L648.4,528.6 L642.2,523.7Z" fill="#b2d144" stroke="#b2d144" stroke-width="2.4" stroke-linejoin="round" stroke-linecap="round"/>
<path d="M643.5,481.7 L658.3,486.7 L673.1,484.2 L668.1,491.6 L658.3,496.5 L668.1,501.5 L673.1,503.9 L668.1,513.8 L658.3,508.9 L648.4,506.4 L653.3,518.7 L648.4,528.6 L642.2,523.7Z" fill="#e5f017"/>
</g>
<g filter="url(#p420_100_9)">
<g filter="url(#p580_200_11)">
<path d="M643.5,481.7 L658.3,486.7 L673.1,484.2 L668.1,491.6 L658.3,496.5 L668.1,501.5 L673.1,503.9 L668.1,513.8 L658.3,508.9 L648.4,506.4 L653.3,518.7 L648.4,528.6 L642.2,523.7Z" fill="#eeaa00"/>
</g>
</g>
<g filter="url(#p420_100_9)">
<path d="M642.2,450.9 L653.3,452.6 L657.8,459.5 L650.9,464.5 L645.9,474.3 L642.2,471.9Z" fill="#b2d144" stroke="#b2d144" stroke-width="2.4" stroke-linejoin="round" stroke-linecap="round"/>
<path d="M642.2,450.9 L653.3,452.6 L657.8,459.5 L650.9,464.5 L645.9,474.3 L642.2,471.9Z" fill="#e5f017"/>
</g>
<g filter="url(#p420_100_9)">
<g filter="url(#p580_200_11)">
<path d="M642.2,450.9 L653.3,452.6 L657.8,459.5 L650.9,464.5 L645.9,474.3 L642.2,471.9Z" fill="#eeaa00"/>
</g>
</g>
<path d="M645.9,531.1 L652.1,540.9 L657.0,547.1" fill="none" stroke="#b2d144" stroke-width="5.0" stroke-linejoin="round" stroke-linecap="round"/>
<path d="M645.9,531.1 L652.1,540.9 L657.0,547.1" fill="none" stroke="#e5f017" stroke-width="3.0" stroke-linejoin="round" stroke-linecap="round"/>
<path d="M718.7,449.7 L786.5,448.4 L786.5,549.6 L737.2,549.6 L731.0,540.9 L724.9,531.1 L719.9,521.2 L713.8,513.8 L710.1,515.0 L717.5,510.1 L727.3,505.2 L737.2,499.0 L727.3,491.6 L721.2,486.7 L719.4,474.3 L721.2,462.0Z" fill="#4b939f"/>
<path d="M721.2,452.1 L786.5,449.7 L786.5,549.6 L739.7,549.6 L734.7,545.9 L729.8,536.0 L727.3,528.6 L722.4,518.7 L718.0,512.8 L724.9,508.9 L734.7,503.9 L744.1,497.0 L737.2,490.6 L724.9,487.2 L722.4,476.8 L724.9,464.5Z" fill="#b2d144"/>
<g filter="url(#p420_100_9)">
<path d="M723.6,452.6 L786.5,449.7 L786.5,523.7 L776.7,520.0 L766.8,518.7 L752.0,523.7 L754.5,531.1 L759.4,538.5 L771.7,540.9 L776.7,548.3 L740.9,548.3 L736.0,545.4 L731.0,535.5 L728.6,528.1 L724.4,518.7 L720.4,512.8 L727.3,508.9 L736.7,503.9 L752.0,499.0 L761.9,496.5 L766.8,486.7 L752.0,482.2 L742.6,484.2 L737.2,489.6 L726.3,486.7 L723.9,476.8 L726.1,464.5Z" fill="#e5f017"/>
</g>
<g filter="url(#p420_100_9)">
<g filter="url(#p580_200_11)">
<path d="M723.6,452.6 L786.5,449.7 L786.5,523.7 L776.7,520.0 L766.8,518.7 L752.0,523.7 L754.5,531.1 L759.4,538.5 L771.7,540.9 L776.7,548.3 L740.9,548.3 L736.0,545.4 L731.0,535.5 L728.6,528.1 L724.4,518.7 L720.4,512.8 L727.3,508.9 L736.7,503.9 L752.0,499.0 L761.9,496.5 L766.8,486.7 L752.0,482.2 L742.6,484.2 L737.2,489.6 L726.3,486.7 L723.9,476.8 L726.1,464.5Z" fill="#eeaa00"/>
</g>
</g>
<g filter="url(#p420_80_5)">
<path d="M724.9,462.0 L734.7,459.5 L747.1,462.0 L759.4,457.1 L769.3,452.1 L776.7,454.6 L771.7,469.4 L766.8,481.7 L752.0,479.3 L742.1,481.7 L729.8,476.8 L726.1,469.4Z" fill="#eeaa00"/>
</g>
<g filter="url(#p420_100_9)">
<path d="M742.1,464.5 L754.5,462.0 L763.1,459.5 L759.4,471.9 L747.1,474.3Z" fill="#e5f017"/>
</g>
<g filter="url(#p420_100_9)">
<g filter="url(#p580_200_11)">
<path d="M742.1,464.5 L754.5,462.0 L763.1,459.5 L759.4,471.9 L747.1,474.3Z" fill="#eeaa00"/>
</g>
</g>
<path d="M722.4,511.8 L734.7,509.4 L747.1,504.4 L761.9,502.0 L776.7,499.0 L785.3,497.0" fill="none" stroke="#eeaa00" stroke-width="5.0" stroke-linejoin="round" stroke-linecap="round"/>
<g filter="url(#p500_120_5)">
<path d="M727.3,518.7 L737.2,516.3 L744.6,528.6 L742.1,540.9 L734.7,543.4 L729.8,533.5Z" fill="#eeaa00"/>
</g>
<path d="M744.6,518.7 L752.0,513.8 L761.9,506.4 L776.7,503.9 L785.3,506.4 L785.3,521.2 L774.2,518.7 L761.9,518.7 L752.0,523.7Z" fill="#f9e300"/>
<path d="M753.2,524.9 L766.8,520.0 L784.1,524.2 L785.3,543.4 L771.7,540.4 L759.9,538.0 L755.0,531.1Z" fill="#7fb272"/>
<g filter="url(#p0_100_9)">
<path d="M747.1,425.0 L880.0,425.0 L880.0,470.6 L789.0,470.6 L786.5,448.4 L748.3,447.2Z" fill="#e5f017"/>
</g>
<g filter="url(#p0_100_9)">
<g filter="url(#p580_200_11)">
<path d="M747.1,425.0 L880.0,425.0 L880.0,470.6 L789.0,470.6 L786.5,448.4 L748.3,447.2Z" fill="#eeaa00"/>
</g>
</g>
<path d="M747.1,425.0 L791.5,425.0 L786.5,434.9 L774.2,439.8 L761.9,437.3 L748.3,442.3Z" fill="#b2d144"/>
<g filter="url(#p560_90_5)">
<path d="M753.2,425.0 L880.0,425.0 L880.0,454.6 L863.0,459.5 L840.8,464.5 L821.1,459.5 L801.3,466.9 L791.5,464.5 L786.5,449.7 L774.2,442.3 L761.9,434.9Z" fill="#eeaa00"/>
</g>
<g filter="url(#p420_100_9)">
<path d="M789.0,449.7 L806.3,447.2 L826.0,439.8 L845.7,444.7 L865.5,439.8 L880.0,442.3 L880.0,470.6 L790.2,470.6Z" fill="#e5f017"/>
</g>
<g filter="url(#p420_100_9)">
<g filter="url(#p580_200_11)">
<path d="M789.0,449.7 L806.3,447.2 L826.0,439.8 L845.7,444.7 L865.5,439.8 L880.0,442.3 L880.0,470.6 L790.2,470.6Z" fill="#eeaa00"/>
</g>
</g>
<g filter="url(#p500_120_5)">
<path d="M796.4,454.6 L813.7,452.1 L833.4,448.4 L850.7,452.1 L838.3,459.5 L821.1,458.3 L803.8,464.5Z" fill="#eeaa00"/>
</g>
<path d="M726.1,425.0 L745.8,425.0 L745.8,444.7 L734.7,444.7 L729.8,434.9Z" fill="#4b939f"/>
<path d="M789.0,474.3 L880.0,474.3 L880.0,511.3 L860.5,518.7 L845.7,523.7 L833.4,533.5 L821.1,540.9 L806.3,543.4 L789.0,548.3Z" fill="#4b939f"/>
<path d="M789.0,474.3 L880.0,474.3 L880.0,479.3 L858.1,486.7 L840.8,494.1 L826.0,506.4 L813.7,516.3 L801.3,528.6 L789.0,536.0Z" fill="#7fb272"/>
<path d="M789.0,474.3 L870.4,474.3 L850.7,478.0 L835.9,484.2 L823.5,494.1 L813.7,505.2 L802.6,520.0 L789.0,528.6Z" fill="#b2d144"/>
<g filter="url(#p420_100_9)">
<path d="M789.0,474.3 L850.7,474.3 L835.9,479.8 L821.1,489.6 L808.7,504.4 L798.9,518.7 L789.0,523.7Z" fill="#e5f017"/>
</g>
<g filter="url(#p420_100_9)">
<g filter="url(#p580_200_11)">
<path d="M789.0,474.3 L850.7,474.3 L835.9,479.8 L821.1,489.6 L808.7,504.4 L798.9,518.7 L789.0,523.7Z" fill="#eeaa00"/>
</g>
</g>
<path d="M789.0,475.6 L833.4,475.6 L823.5,484.2 L813.7,496.5 L803.8,508.9 L796.4,520.0 L789.5,522.4Z" fill="#f9e300"/>
<path d="M734.7,552.0 L791.5,552.0 L789.0,563.1 L779.1,573.0 L768.0,582.9 L752.0,597.7 L742.1,612.5 L734.7,622.3 L727.3,629.7 L717.5,642.1 L702.7,645.0 L642.2,645.0 L642.2,552.0Z" fill="#4b939f"/>
<path d="M768.0,553.3 L786.5,553.3 L784.1,563.1 L776.7,570.5 L768.0,573.0Z" fill="#b2d144"/>
<g filter="url(#p420_100_9)">
<path d="M643.5,553.3 L678.0,553.3 L675.5,563.1 L680.5,573.0 L678.0,585.3 L668.1,582.9 L658.3,587.8 L648.4,582.9 L643.5,585.3Z" fill="#b2d144" stroke="#b2d144" stroke-width="3.0" stroke-linejoin="round" stroke-linecap="round"/>
<path d="M643.5,553.3 L678.0,553.3 L675.5,563.1 L680.5,573.0 L678.0,585.3 L668.1,582.9 L658.3,587.8 L648.4,582.9 L643.5,585.3Z" fill="#e5f017"/>
</g>
<g filter="url(#p420_100_9)">
<g filter="url(#p580_200_11)">
<path d="M643.5,553.3 L678.0,553.3 L675.5,563.1 L680.5,573.0 L678.0,585.3 L668.1,582.9 L658.3,587.8 L648.4,582.9 L643.5,585.3Z" fill="#eeaa00"/>
</g>
</g>
<g filter="url(#p500_120_5)">
<path d="M645.9,563.1 L663.2,560.7 L673.1,573.0 L663.2,577.9 L650.9,575.5Z" fill="#eeaa00"/>
</g>
<path d="M678.0,558.2 L707.6,555.7 L727.3,558.2 L737.2,563.1 L727.3,573.0 L717.5,582.9 L707.6,587.8 L700.2,582.9 L690.3,577.9 L681.7,568.1Z" fill="#1874cd"/>
<g filter="url(#p420_100_9)">
<path d="M687.9,568.1 L702.7,570.5 L707.6,577.9 L702.7,587.8 L700.2,597.7 L707.6,602.6 L717.5,597.7 L727.3,587.8 L737.2,577.9 L747.1,570.5 L756.9,563.1 L764.3,555.7 L765.6,573.0 L752.0,582.9 L739.7,592.7 L732.3,602.6 L727.3,617.4 L722.4,629.7 L712.5,639.6 L702.7,645.0 L692.8,634.7 L697.7,622.3 L692.8,612.5 L682.9,602.6 L678.0,592.7 L687.9,595.2 L695.3,585.3 L690.3,575.5Z" fill="#b2d144" stroke="#b2d144" stroke-width="3.0" stroke-linejoin="round" stroke-linecap="round"/>
<path d="M687.9,568.1 L702.7,570.5 L707.6,577.9 L702.7,587.8 L700.2,597.7 L707.6,602.6 L717.5,597.7 L727.3,587.8 L737.2,577.9 L747.1,570.5 L756.9,563.1 L764.3,555.7 L765.6,573.0 L752.0,582.9 L739.7,592.7 L732.3,602.6 L727.3,617.4 L722.4,629.7 L712.5,639.6 L702.7,645.0 L692.8,634.7 L697.7,622.3 L692.8,612.5 L682.9,602.6 L678.0,592.7 L687.9,595.2 L695.3,585.3 L690.3,575.5Z" fill="#e5f017"/>
</g>
<g filter="url(#p420_100_9)">
<g filter="url(#p580_200_11)">
<path d="M687.9,568.1 L702.7,570.5 L707.6,577.9 L702.7,587.8 L700.2,597.7 L707.6,602.6 L717.5,597.7 L727.3,587.8 L737.2,577.9 L747.1,570.5 L756.9,563.1 L764.3,555.7 L765.6,573.0 L752.0,582.9 L739.7,592.7 L732.3,602.6 L727.3,617.4 L722.4,629.7 L712.5,639.6 L702.7,645.0 L692.8,634.7 L697.7,622.3 L692.8,612.5 L682.9,602.6 L678.0,592.7 L687.9,595.2 L695.3,585.3 L690.3,575.5Z" fill="#eeaa00"/>
</g>
</g>
<path d="M687.9,577.9 L695.3,575.5 L697.7,585.3 L690.3,587.8Z" fill="#1874cd"/>
<path d="M734.7,563.1 L752.0,559.4 L764.3,563.1 L752.0,573.0 L742.1,577.9Z" fill="#b2d144"/>
<g filter="url(#p500_120_5)">
<path d="M700.2,607.5 L710.1,605.1 L717.5,612.5 L712.5,627.3 L702.7,629.7 L700.2,619.9Z" fill="#eeaa00"/>
</g>
<g filter="url(#p500_120_5)">
<path d="M734.7,582.9 L747.1,573.0 L756.9,570.5 L747.1,582.9 L739.7,590.3Z" fill="#eeaa00"/>
</g>
<path d="M645.9,595.2 L663.2,592.7 L678.0,597.7 L687.9,612.5 L690.3,629.7 L682.9,645.0 L668.1,645.0 L663.2,629.7 L653.3,617.4 L644.7,607.5Z" fill="#1874cd"/>
<g filter="url(#p420_100_9)">
<path d="M668.1,597.7 L675.5,595.2 L680.5,607.5 L687.9,617.4 L682.9,622.3 L675.5,612.5Z" fill="#b2d144" stroke="#b2d144" stroke-width="3.0" stroke-linejoin="round" stroke-linecap="round"/>
<path d="M668.1,597.7 L675.5,595.2 L680.5,607.5 L687.9,617.4 L682.9,622.3 L675.5,612.5Z" fill="#e5f017"/>
</g>
<g filter="url(#p420_100_9)">
<g filter="url(#p580_200_11)">
<path d="M668.1,597.7 L675.5,595.2 L680.5,607.5 L687.9,617.4 L682.9,622.3 L675.5,612.5Z" fill="#eeaa00"/>
</g>
</g>
<path d="M537.4,553.3 L641.0,553.3 L641.0,645.0 L596.6,645.0 L586.7,629.7 L574.4,619.9 L559.6,610.0 L547.3,597.7 L539.9,582.9Z" fill="#4b939f"/>
<g filter="url(#p420_100_9)">
<path d="M539.9,555.7 L638.5,555.7 L638.5,645.0 L623.7,645.0 L611.4,629.7 L599.1,622.3 L584.3,612.5 L569.5,602.6 L554.7,592.7 L544.8,577.9Z" fill="#b2d144" stroke="#b2d144" stroke-width="3.0" stroke-linejoin="round" stroke-linecap="round"/>
<path d="M539.9,555.7 L638.5,555.7 L638.5,645.0 L623.7,645.0 L611.4,629.7 L599.1,622.3 L584.3,612.5 L569.5,602.6 L554.7,592.7 L544.8,577.9Z" fill="#e5f017"/>
</g>
<g filter="url(#p420_100_9)">
<g filter="url(#p580_200_11)">
<path d="M539.9,555.7 L638.5,555.7 L638.5,645.0 L623.7,645.0 L611.4,629.7 L599.1,622.3 L584.3,612.5 L569.5,602.6 L554.7,592.7 L544.8,577.9Z" fill="#eeaa00"/>
</g>
</g>
<path d="M579.3,585.3 L594.1,577.9 L611.4,582.9 L628.7,587.8 L623.7,602.6 L611.4,607.5 L596.6,600.1 L586.7,597.7Z" fill="#4b939f"/>
<path d="M586.7,563.1 L604.0,559.4 L618.8,565.6 L611.4,573.0 L596.6,573.0Z" fill="#4b939f" stroke="#4b939f" stroke-width="4.0" stroke-linejoin="round" stroke-linecap="round"/>
<path d="M586.7,563.1 L604.0,559.4 L618.8,565.6 L611.4,573.0 L596.6,573.0Z" fill="#1874cd"/>
<path d="M557.1,573.0 L569.5,568.1 L579.3,577.9 L571.9,585.3 L562.1,582.9Z" fill="#4b939f" stroke="#4b939f" stroke-width="4.0" stroke-linejoin="round" stroke-linecap="round"/>
<path d="M557.1,573.0 L569.5,568.1 L579.3,577.9 L571.9,585.3 L562.1,582.9Z" fill="#1874cd"/>
<g filter="url(#p500_120_5)">
<path d="M611.4,559.4 L633.6,558.2 L636.1,573.0 L623.7,577.9 L613.9,570.5Z" fill="#eeaa00"/>
</g>
<g filter="url(#p500_120_5)">
<path d="M559.6,595.2 L579.3,602.6 L594.1,612.5 L611.4,619.9 L604.0,622.3 L586.7,617.4 L567.0,607.5Z" fill="#eeaa00"/>
</g>
<g filter="url(#p500_120_5)">
<path d="M623.7,607.5 L636.1,605.1 L637.3,622.3 L626.2,622.3Z" fill="#eeaa00"/>
</g>
<g filter="url(#p500_120_5)">
<path d="M544.8,560.7 L559.6,559.4 L557.1,568.1 L547.3,570.5Z" fill="#eeaa00"/>
</g>
<path d="M402.5,605.0 L420.0,610.5 L437.5,613.0 L445.0,620.0 L465.0,623.8 L480.0,625.5" fill="none" stroke="#4b939f" stroke-width="6.5" stroke-linejoin="round" stroke-linecap="round"/>
<path d="M402.5,605.0 L420.0,610.5 L437.5,613.0 L445.0,620.0 L465.0,623.8 L480.0,625.5" fill="none" stroke="#e5f017" stroke-width="2.5" stroke-linejoin="round" stroke-linecap="round"/>
<path d="M407.5,610.0 L417.5,603.8 L432.5,607.0" fill="none" stroke="#4b939f" stroke-width="5.0" stroke-linejoin="round" stroke-linecap="round"/>
<path d="M407.5,610.0 L417.5,603.8 L432.5,607.0" fill="none" stroke="#e5f017" stroke-width="2.0" stroke-linejoin="round" stroke-linecap="round"/>
<path d="M478.0,637.5 L482.5,645.0 L480.0,655.0 L485.0,663.8" fill="none" stroke="#4b939f" stroke-width="6.0" stroke-linejoin="round" stroke-linecap="round"/>
<path d="M478.0,637.5 L482.5,645.0 L480.0,655.0 L485.0,663.8" fill="none" stroke="#e5f017" stroke-width="3.0" stroke-linejoin="round" stroke-linecap="round"/>
<g filter="url(#p470_130_2)">
<path d="M490.0,612.5 L505.0,615.0 L520.0,622.5 L530.0,625.0 L525.0,637.5 L520.0,650.0 L510.0,652.5 L507.5,640.0 L500.0,627.5 L492.5,620.0Z" fill="#b3b3b3"/>
</g>
<g filter="url(#p470_130_2)">
<path d="M526.2,627.5 L540.0,630.0 L542.5,640.0 L532.5,645.0 L525.0,657.5 L545.0,655.0 L552.5,660.0 L550.0,673.8 L530.0,670.0 L520.0,667.5 L522.5,657.5Z" fill="#b3b3b3"/>
</g>
<g filter="url(#p470_130_2)">
<path d="M560.0,647.5 L577.5,642.5 L582.5,652.5 L570.0,657.5 L562.5,655.0Z" fill="#b3b3b3"/>
</g>
<g filter="url(#p470_130_2)">
<path d="M500.0,660.0 L506.2,659.5 L506.2,664.5 L500.0,665.0Z" fill="#b3b3b3"/>
</g>
<path d="M542.5,600.0 L640.0,600.0 L640.0,652.5 L620.0,647.5 L602.5,637.5 L590.0,625.0 L577.5,615.0 L560.0,611.2Z" fill="#4b939f"/>
<g filter="url(#p420_100_9)">
<path d="M545.0,600.0 L565.0,607.5 L582.5,610.0 L595.0,620.0 L605.0,632.5 L620.0,642.5 L638.8,647.5 L638.8,635.0 L625.0,627.5 L610.0,615.0 L595.0,605.0 L585.0,600.0Z" fill="#b2d144" stroke="#b2d144" stroke-width="3.0" stroke-linejoin="round" stroke-linecap="round"/>
<path d="M545.0,600.0 L565.0,607.5 L582.5,610.0 L595.0,620.0 L605.0,632.5 L620.0,642.5 L638.8,647.5 L638.8,635.0 L625.0,627.5 L610.0,615.0 L595.0,605.0 L585.0,600.0Z" fill="#e5f017"/>
</g>
<g filter="url(#p420_100_9)">
<g filter="url(#p580_200_11)">
<path d="M545.0,600.0 L565.0,607.5 L582.5,610.0 L595.0,620.0 L605.0,632.5 L620.0,642.5 L638.8,647.5 L638.8,635.0 L625.0,627.5 L610.0,615.0 L595.0,605.0 L585.0,600.0Z" fill="#eeaa00"/>
</g>
</g>
<g filter="url(#p500_120_5)">
<path d="M595.0,610.0 L610.0,620.0 L625.0,632.5 L635.0,637.5 L620.0,637.5 L605.0,625.0Z" fill="#eeaa00"/>
</g>
<path d="M642.5,600.0 L686.2,600.0 L683.8,637.5 L671.2,662.5 L652.5,675.0 L642.5,672.5Z" fill="#4b939f"/>
<g filter="url(#p420_100_9)">
<path d="M643.8,600.0 L665.0,600.0 L677.5,610.0 L680.0,625.0 L675.0,640.0 L667.5,652.5 L660.0,665.0 L652.5,672.5 L645.0,662.5 L643.8,650.0 L652.5,645.0 L662.5,632.5 L660.0,620.0 L647.5,615.0Z" fill="#b2d144" stroke="#b2d144" stroke-width="3.0" stroke-linejoin="round" stroke-linecap="round"/>
<path d="M643.8,600.0 L665.0,600.0 L677.5,610.0 L680.0,625.0 L675.0,640.0 L667.5,652.5 L660.0,665.0 L652.5,672.5 L645.0,662.5 L643.8,650.0 L652.5,645.0 L662.5,632.5 L660.0,620.0 L647.5,615.0Z" fill="#e5f017"/>
</g>
<g filter="url(#p420_100_9)">
<g filter="url(#p580_200_11)">
<path d="M643.8,600.0 L665.0,600.0 L677.5,610.0 L680.0,625.0 L675.0,640.0 L667.5,652.5 L660.0,665.0 L652.5,672.5 L645.0,662.5 L643.8,650.0 L652.5,645.0 L662.5,632.5 L660.0,620.0 L647.5,615.0Z" fill="#eeaa00"/>
</g>
</g>
<g filter="url(#p500_120_5)">
<path d="M657.5,645.0 L667.5,637.5 L670.0,650.0 L661.2,660.0 L655.0,657.5Z" fill="#eeaa00"/>
</g>
<path d="M688.8,600.0 L745.0,600.0 L741.2,615.0 L736.2,627.5 L730.0,650.0 L725.0,672.5 L707.5,672.5 L702.5,650.0 L692.5,635.0 L687.5,620.0Z" fill="#4b939f"/>
<g filter="url(#p420_100_9)">
<path d="M692.5,622.5 L697.5,610.0 L702.5,600.0 L730.0,600.0 L732.5,615.0 L725.0,630.0 L720.0,645.0 L722.5,657.5 L717.5,670.0 L710.0,667.5 L707.5,650.0 L705.0,637.5 L695.0,632.5Z" fill="#b2d144" stroke="#b2d144" stroke-width="3.0" stroke-linejoin="round" stroke-linecap="round"/>
<path d="M692.5,622.5 L697.5,610.0 L702.5,600.0 L730.0,600.0 L732.5,615.0 L725.0,630.0 L720.0,645.0 L722.5,657.5 L717.5,670.0 L710.0,667.5 L707.5,650.0 L705.0,637.5 L695.0,632.5Z" fill="#e5f017"/>
</g>
<g filter="url(#p420_100_9)">
<g filter="url(#p580_200_11)">
<path d="M692.5,622.5 L697.5,610.0 L702.5,600.0 L730.0,600.0 L732.5,615.0 L725.0,630.0 L720.0,645.0 L722.5,657.5 L717.5,670.0 L710.0,667.5 L707.5,650.0 L705.0,637.5 L695.0,632.5Z" fill="#eeaa00"/>
</g>
</g>
<path d="M709.0,646.2 L719.5,643.8 L721.2,657.5 L715.0,666.2 L710.0,662.5Z" fill="#1874cd"/>
<g filter="url(#p500_120_5)">
<path d="M705.0,602.5 L725.0,602.5 L727.5,615.0 L720.0,627.5 L710.0,622.5Z" fill="#eeaa00"/>
</g>
<path d="M746.4,247.7 L726.7,250.2 L716.8,252.7 L702.0,250.2 L687.2,245.3 L672.4,244.0 L662.5,250.2 L650.2,252.7 L642.8,249.0 L628.0,246.5 L620.6,255.1 L610.7,262.5 L600.9,269.9 L618.1,265.0 L632.9,267.5 L645.3,277.3 L650.2,287.2 L652.7,299.5 L647.7,309.4 L652.7,316.8 L642.8,326.7 L640.3,336.5 L642.8,341.5 L746.4,341.5Z" fill="#4b939f"/>
<path d="M674.9,311.9 L684.7,314.3 L689.7,326.7 L682.3,334.1 L674.9,326.7Z" fill="#1874cd"/>
<path d="M637.9,265.0 L652.7,268.7 L665.0,271.2 L669.9,277.3 L665.0,287.2 L667.5,299.5 L662.5,292.1 L656.4,283.5 L650.2,274.9 L640.3,271.2Z" fill="#b2d144"/>
<path d="M686.0,252.7 L694.6,255.1 L706.9,258.8 L721.7,258.8 L714.3,263.8 L702.0,265.0 L699.5,273.6 L694.6,267.5 L684.7,265.0 L677.3,269.9 L669.9,274.9 L672.4,267.5 L684.7,260.1Z" fill="#b2d144"/>
<path d="M742.7,272.4 L736.5,284.7 L729.1,292.1 L716.8,294.6 L706.9,299.5 L692.1,302.0 L677.3,304.5 L669.9,311.9 L662.5,316.8 L672.4,313.1 L677.3,320.5 L684.7,311.9 L694.6,314.3 L697.1,321.7 L694.6,334.1 L702.0,326.7 L709.4,321.7 L716.8,326.7 L716.8,336.5 L724.2,321.7 L726.7,309.4 L724.2,299.5 L731.6,294.6 L739.0,284.7 L743.4,277.3Z" fill="#b2d144"/>
<path d="M640.3,343.9 L662.5,342.7 L672.4,356.3 L677.3,368.6 L669.9,378.5 L657.6,376.0 L652.7,366.1 L647.7,353.8Z" fill="#4b939f"/>
<g filter="url(#p420_100_9)">
<path d="M652.7,346.4 L662.5,346.4 L669.9,358.7 L674.9,366.1 L667.5,371.1 L660.1,366.1 L656.4,356.3Z" fill="#b2d144" stroke="#b2d144" stroke-width="3.0" stroke-linejoin="round" stroke-linecap="round"/>
<path d="M652.7,346.4 L662.5,346.4 L669.9,358.7 L674.9,366.1 L667.5,371.1 L660.1,366.1 L656.4,356.3Z" fill="#e5f017"/>
</g>
<g filter="url(#p420_100_9)">
<g filter="url(#p580_200_11)">
<path d="M652.7,346.4 L662.5,346.4 L669.9,358.7 L674.9,366.1 L667.5,371.1 L660.1,366.1 L656.4,356.3Z" fill="#eeaa00"/>
</g>
</g>
<path d="M647.7,385.9 L657.6,380.9 L669.9,385.9 L669.9,395.7 L657.6,403.1 L647.7,398.2Z" fill="#4b939f"/>
<path d="M654.6,382.9 L663.0,382.9 L664.3,391.3 L657.6,392.5Z" fill="#b2d144"/>
<g filter="url(#p500_120_5)">
<path d="M657.1,384.6 L661.3,384.6 L661.8,389.6 L658.1,390.1Z" fill="#eeaa00"/>
</g>
<path d="M684.7,342.7 L746.4,342.7 L746.4,445.1 L734.1,437.7 L726.7,425.3 L724.2,415.5 L729.1,408.1 L716.8,398.2 L702.0,395.7 L689.7,405.6 L694.6,393.3 L689.7,376.0 L694.6,361.2 L689.7,351.3Z" fill="#4b939f"/>
<path d="M736.5,346.4 L743.4,346.4 L743.4,366.1 L736.5,363.7Z" fill="#1874cd"/>
<path d="M709.4,366.1 L716.8,371.1 L716.8,385.9 L706.9,380.9Z" fill="#1874cd"/>
<path d="M734.1,398.2 L743.4,395.7 L743.4,408.1 L736.5,406.8Z" fill="#1874cd"/>
<path d="M697.1,343.9 L706.9,343.9 L709.4,353.8 L704.5,356.3 L699.5,348.9Z" fill="#b2d144"/>
<path d="M731.6,371.1 L745.2,368.6 L745.2,388.3 L734.1,385.9 L726.7,380.9Z" fill="#b2d144"/>
<path d="M724.2,415.5 L736.5,408.1 L745.2,410.5 L745.2,437.7 L736.5,432.7 L729.1,425.3 L721.7,420.4Z" fill="#b2d144"/>
<g filter="url(#p300_100_9)">
<path d="M399.5,627.5 L407.5,626.5 L415.0,627.5 L423.0,629.0 L421.8,632.5 L412.5,632.0 L402.0,631.5Z" fill="#e5f017"/>
</g>
<g filter="url(#p300_100_9)">
<g filter="url(#p580_200_11)">
<path d="M399.5,627.5 L407.5,626.5 L415.0,627.5 L423.0,629.0 L421.8,632.5 L412.5,632.0 L402.0,631.5Z" fill="#eeaa00"/>
</g>
</g>
<g filter="url(#p200_100_9)">
<path d="M418.2,649.5 L422.5,649.0 L423.5,653.5 L419.0,654.5Z" fill="#b2d144"/>
</g>
<path d="M413.5,271.9 L423.3,264.5 L433.2,266.9 L443.1,264.5 L457.9,264.5 L467.7,269.4 L470.2,281.7 L470.2,296.5 L472.7,308.9 L457.9,311.3 L438.1,321.2 L418.4,328.6 L403.6,323.7 L393.7,308.9 L392.5,301.5 L401.1,291.6 L406.1,281.7Z" fill="#4b939f"/>
<g filter="url(#p420_100_9)">
<path d="M393.7,299.0 L401.1,292.8 L406.1,284.2 L411.0,275.6 L418.4,271.9 L425.8,274.3 L428.3,284.2 L423.3,291.6 L428.3,299.0 L438.1,296.5 L450.5,295.3 L462.8,296.5 L470.2,303.9 L472.7,310.1 L460.3,311.3 L448.0,308.9 L440.6,317.5 L434.4,326.1 L418.4,328.6 L406.1,323.7 L398.7,313.8 L392.5,306.4Z" fill="#4b939f" stroke="#4b939f" stroke-width="7.0" stroke-linejoin="round" stroke-linecap="round"/>
<path d="M393.7,299.0 L401.1,292.8 L406.1,284.2 L411.0,275.6 L418.4,271.9 L425.8,274.3 L428.3,284.2 L423.3,291.6 L428.3,299.0 L438.1,296.5 L450.5,295.3 L462.8,296.5 L470.2,303.9 L472.7,310.1 L460.3,311.3 L448.0,308.9 L440.6,317.5 L434.4,326.1 L418.4,328.6 L406.1,323.7 L398.7,313.8 L392.5,306.4Z" fill="#b2d144" stroke="#b2d144" stroke-width="3.0" stroke-linejoin="round" stroke-linecap="round"/>
<path d="M393.7,299.0 L401.1,292.8 L406.1,284.2 L411.0,275.6 L418.4,271.9 L425.8,274.3 L428.3,284.2 L423.3,291.6 L428.3,299.0 L438.1,296.5 L450.5,295.3 L462.8,296.5 L470.2,303.9 L472.7,310.1 L460.3,311.3 L448.0,308.9 L440.6,317.5 L434.4,326.1 L418.4,328.6 L406.1,323.7 L398.7,313.8 L392.5,306.4Z" fill="#e5f017"/>
</g>
<g filter="url(#p420_100_9)">
<g filter="url(#p580_200_11)">
<path d="M393.7,299.0 L401.1,292.8 L406.1,284.2 L411.0,275.6 L418.4,271.9 L425.8,274.3 L428.3,284.2 L423.3,291.6 L428.3,299.0 L438.1,296.5 L450.5,295.3 L462.8,296.5 L470.2,303.9 L472.7,310.1 L460.3,311.3 L448.0,308.9 L440.6,317.5 L434.4,326.1 L418.4,328.6 L406.1,323.7 L398.7,313.8 L392.5,306.4Z" fill="#eeaa00"/>
</g>
</g>
<path d="M428.3,278.0 L438.1,281.7 L445.5,291.6 L440.6,296.5 L430.7,296.5 L425.8,289.1Z" fill="#b2d144"/>
<g filter="url(#p500_120_5)">
<path d="M408.5,291.6 L415.9,289.1 L420.9,296.5 L415.9,303.9 L409.8,301.5Z" fill="#eeaa00"/>
</g>
<g filter="url(#p500_120_5)">
<path d="M423.3,303.9 L433.2,301.5 L438.1,306.4 L430.7,311.3 L424.6,310.1Z" fill="#eeaa00"/>
</g>
<g filter="url(#p500_120_5)">
<path d="M443.1,299.0 L452.9,297.8 L457.9,302.7 L448.0,305.2Z" fill="#eeaa00"/>
</g>
<g filter="url(#p500_120_5)">
<path d="M412.2,311.3 L420.9,310.1 L423.3,316.3 L415.9,320.0Z" fill="#eeaa00"/>
</g>
<path d="M420.9,239.8 L421.4,249.7 L420.4,257.1 L415.9,262.0 L411.0,269.4 L408.5,276.8" fill="none" stroke="#4b939f" stroke-width="4.5" stroke-linejoin="round" stroke-linecap="round"/>
<path d="M420.9,239.8 L421.4,249.7 L420.4,257.1 L415.9,262.0 L411.0,269.4 L408.5,276.8" fill="none" stroke="#e5f017" stroke-width="1.5" stroke-linejoin="round" stroke-linecap="round"/>
<path d="M403.6,249.7 L411.0,259.5 L415.9,262.0" fill="none" stroke="#4b939f" stroke-width="3.2" stroke-linejoin="round" stroke-linecap="round"/>
<path d="M403.6,249.7 L411.0,259.5 L415.9,262.0" fill="none" stroke="#e5f017" stroke-width="1.2" stroke-linejoin="round" stroke-linecap="round"/>
<path d="M448.0,244.7 L446.8,254.6 L445.5,262.0 L438.1,265.7 L430.7,269.4" fill="none" stroke="#4b939f" stroke-width="4.5" stroke-linejoin="round" stroke-linecap="round"/>
<path d="M448.0,244.7 L446.8,254.6 L445.5,262.0 L438.1,265.7 L430.7,269.4" fill="none" stroke="#e5f017" stroke-width="1.5" stroke-linejoin="round" stroke-linecap="round"/>
<path d="M445.5,262.0 L460.3,266.9 L469.0,270.6" fill="none" stroke="#4b939f" stroke-width="5.5" stroke-linejoin="round" stroke-linecap="round"/>
<path d="M445.5,262.0 L460.3,266.9 L469.0,270.6" fill="none" stroke="#e5f017" stroke-width="1.5" stroke-linejoin="round" stroke-linecap="round"/>
<path d="M341.9,323.7 L353.0,324.9 L359.2,329.8 L355.5,336.0 L349.3,340.9 L348.1,353.3 L345.6,365.6 L339.5,373.0 L334.5,377.9 L337.0,363.1 L339.5,348.3 L340.7,333.5Z" fill="#4b939f"/>
<path d="M346.9,326.1 L356.7,328.6 L358.0,333.5 L351.8,336.0 L348.1,332.3Z" fill="#b2d144"/>
<path d="M329.6,377.9 L341.9,375.5 L351.8,382.9 L358.0,395.2 L359.2,407.5 L359.2,418.6 L322.2,418.6 L321.0,407.5 L327.1,397.7 L328.4,387.8Z" fill="#4b939f"/>
<g filter="url(#p420_100_9)">
<path d="M332.1,382.9 L341.9,380.4 L349.3,387.8 L354.3,395.2 L349.3,400.1 L341.9,397.7 L337.0,392.7 L330.8,390.3Z" fill="#b2d144" stroke="#b2d144" stroke-width="3.0" stroke-linejoin="round" stroke-linecap="round"/>
<path d="M332.1,382.9 L341.9,380.4 L349.3,387.8 L354.3,395.2 L349.3,400.1 L341.9,397.7 L337.0,392.7 L330.8,390.3Z" fill="#e5f017"/>
</g>
<g filter="url(#p420_100_9)">
<g filter="url(#p580_200_11)">
<path d="M332.1,382.9 L341.9,380.4 L349.3,387.8 L354.3,395.2 L349.3,400.1 L341.9,397.7 L337.0,392.7 L330.8,390.3Z" fill="#eeaa00"/>
</g>
</g>
<g filter="url(#p420_100_9)">
<path d="M324.7,407.5 L334.5,402.6 L346.9,405.1 L355.5,408.8 L356.7,417.4 L346.9,416.2 L337.0,414.9 L327.1,417.4 L322.2,414.9Z" fill="#b2d144" stroke="#b2d144" stroke-width="3.0" stroke-linejoin="round" stroke-linecap="round"/>
<path d="M324.7,407.5 L334.5,402.6 L346.9,405.1 L355.5,408.8 L356.7,417.4 L346.9,416.2 L337.0,414.9 L327.1,417.4 L322.2,414.9Z" fill="#e5f017"/>
</g>
<g filter="url(#p420_100_9)">
<g filter="url(#p580_200_11)">
<path d="M324.7,407.5 L334.5,402.6 L346.9,405.1 L355.5,408.8 L356.7,417.4 L346.9,416.2 L337.0,414.9 L327.1,417.4 L322.2,414.9Z" fill="#eeaa00"/>
</g>
</g>
<path d="M381.4,348.3 L385.1,338.5 L391.3,328.6 L398.7,323.7" fill="none" stroke="#4b939f" stroke-width="4.5" stroke-linejoin="round" stroke-linecap="round"/>
<path d="M381.4,348.3 L385.1,338.5 L391.3,328.6 L398.7,323.7" fill="none" stroke="#e5f017" stroke-width="1.5" stroke-linejoin="round" stroke-linecap="round"/>
<path d="M398.7,333.5 L402.4,343.4 L406.1,347.1 L423.3,345.9" fill="none" stroke="#4b939f" stroke-width="3.9" stroke-linejoin="round" stroke-linecap="round"/>
<path d="M398.7,333.5 L402.4,343.4 L406.1,347.1 L423.3,345.9" fill="none" stroke="#e5f017" stroke-width="1.5" stroke-linejoin="round" stroke-linecap="round"/>
<path d="M418.4,347.1 L420.9,355.7 L428.3,357.0" fill="none" stroke="#4b939f" stroke-width="3.2" stroke-linejoin="round" stroke-linecap="round"/>
<path d="M418.4,347.1 L420.9,355.7 L428.3,357.0" fill="none" stroke="#e5f017" stroke-width="1.2" stroke-linejoin="round" stroke-linecap="round"/>
<path d="M423.3,407.5 L433.2,402.6 L445.5,392.7 L457.9,380.4 L470.2,375.5 L471.4,417.4 L418.4,417.4Z" fill="#4b939f"/>
<path d="M445.5,397.7 L452.9,390.3 L460.3,385.3 L470.2,382.9 L471.4,397.7 L470.2,417.4 L438.1,417.4 L440.6,407.5Z" fill="#b2d144"/>
<path d="M531.9,395.2 L544.2,386.6 L556.5,390.3 L568.9,392.7 L571.3,397.7 L561.5,402.6 L556.5,410.0 L544.2,412.5 L536.8,417.4 L522.0,412.5 L531.9,407.5Z" fill="#4b939f"/>
<g filter="url(#p420_100_9)">
<path d="M483.8,345.9 L486.2,353.3 L491.2,363.1 L497.3,375.5 L504.7,385.3 L514.6,392.7 L526.9,396.4 L533.1,401.4 L530.6,407.5 L519.5,408.8 L504.7,405.1 L492.4,396.4 L483.8,385.3 L477.6,375.5 L473.9,365.6 L467.7,363.1 L460.3,370.5 L450.5,373.0 L457.9,365.6 L465.3,358.2 L470.2,350.8 L477.6,348.3Z" fill="#4b939f" stroke="#4b939f" stroke-width="8.0" stroke-linejoin="round" stroke-linecap="round"/>
<path d="M483.8,345.9 L486.2,353.3 L491.2,363.1 L497.3,375.5 L504.7,385.3 L514.6,392.7 L526.9,396.4 L533.1,401.4 L530.6,407.5 L519.5,408.8 L504.7,405.1 L492.4,396.4 L483.8,385.3 L477.6,375.5 L473.9,365.6 L467.7,363.1 L460.3,370.5 L450.5,373.0 L457.9,365.6 L465.3,358.2 L470.2,350.8 L477.6,348.3Z" fill="#b2d144" stroke="#b2d144" stroke-width="3.0" stroke-linejoin="round" stroke-linecap="round"/>
<path d="M483.8,345.9 L486.2,353.3 L491.2,363.1 L497.3,375.5 L504.7,385.3 L514.6,392.7 L526.9,396.4 L533.1,401.4 L530.6,407.5 L519.5,408.8 L504.7,405.1 L492.4,396.4 L483.8,385.3 L477.6,375.5 L473.9,365.6 L467.7,363.1 L460.3,370.5 L450.5,373.0 L457.9,365.6 L465.3,358.2 L470.2,350.8 L477.6,348.3Z" fill="#e5f017"/>
</g>
<g filter="url(#p420_100_9)">
<g filter="url(#p580_200_11)">
<path d="M483.8,345.9 L486.2,353.3 L491.2,363.1 L497.3,375.5 L504.7,385.3 L514.6,392.7 L526.9,396.4 L533.1,401.4 L530.6,407.5 L519.5,408.8 L504.7,405.1 L492.4,396.4 L483.8,385.3 L477.6,375.5 L473.9,365.6 L467.7,363.1 L460.3,370.5 L450.5,373.0 L457.9,365.6 L465.3,358.2 L470.2,350.8 L477.6,348.3Z" fill="#eeaa00"/>
</g>
</g>
<g filter="url(#p500_120_5)">
<path d="M487.5,373.0 L494.9,382.9 L502.3,392.7 L497.3,392.7 L489.9,382.9Z" fill="#eeaa00"/>
</g>
<g filter="url(#p500_120_5)">
<path d="M509.7,397.7 L522.0,401.4 L519.5,405.1 L509.7,402.6Z" fill="#eeaa00"/>
</g>
<path d="M473.9,308.9 L480.1,303.9 L487.5,301.5 L494.9,308.9 L497.3,312.6" fill="none" stroke="#4b939f" stroke-width="3.7" stroke-linejoin="round" stroke-linecap="round"/>
<path d="M473.9,308.9 L480.1,303.9 L487.5,301.5 L494.9,308.9 L497.3,312.6" fill="none" stroke="#e5f017" stroke-width="1.3" stroke-linejoin="round" stroke-linecap="round"/>
<path d="M483.8,318.7 L488.7,323.7" fill="none" stroke="#4b939f" stroke-width="3.7" stroke-linejoin="round" stroke-linecap="round"/>
<path d="M483.8,318.7 L488.7,323.7" fill="none" stroke="#e5f017" stroke-width="1.3" stroke-linejoin="round" stroke-linecap="round"/>
<path d="M598.5,271.9 L610.8,262.0 L620.7,257.1 L625.6,248.4" fill="none" stroke="#4b939f" stroke-width="2.5" stroke-linejoin="round" stroke-linecap="round"/>
<path d="M323.4,422.4 L362.9,422.4 L374.0,437.2 L383.9,442.1 L381.4,452.0 L369.1,449.5 L359.2,452.0 L355.5,464.3 L359.2,476.7 L364.1,493.9 L367.8,513.7 L362.9,521.1 L353.0,513.7 L344.4,506.3 L335.8,497.6 L330.8,486.5 L325.9,471.7 L321.7,456.9 L321.0,442.1Z" fill="#4b939f"/>
<g filter="url(#p420_100_9)">
<path d="M327.1,424.9 L359.2,424.9 L358.0,436.0 L350.6,447.1 L352.3,459.4 L356.7,471.7 L361.2,486.5 L363.6,498.9 L364.6,512.4 L360.4,517.4 L354.3,510.0 L346.9,502.6 L339.5,496.4 L334.5,486.5 L329.6,473.0 L324.7,458.2 L324.2,442.1Z" fill="#b2d144" stroke="#b2d144" stroke-width="2.4" stroke-linejoin="round" stroke-linecap="round"/>
<path d="M327.1,424.9 L359.2,424.9 L358.0,436.0 L350.6,447.1 L352.3,459.4 L356.7,471.7 L361.2,486.5 L363.6,498.9 L364.6,512.4 L360.4,517.4 L354.3,510.0 L346.9,502.6 L339.5,496.4 L334.5,486.5 L329.6,473.0 L324.7,458.2 L324.2,442.1Z" fill="#e5f017"/>
</g>
<g filter="url(#p420_100_9)">
<g filter="url(#p580_200_11)">
<path d="M327.1,424.9 L359.2,424.9 L358.0,436.0 L350.6,447.1 L352.3,459.4 L356.7,471.7 L361.2,486.5 L363.6,498.9 L364.6,512.4 L360.4,517.4 L354.3,510.0 L346.9,502.6 L339.5,496.4 L334.5,486.5 L329.6,473.0 L324.7,458.2 L324.2,442.1Z" fill="#eeaa00"/>
</g>
</g>
<path d="M332.1,444.6 L339.5,442.1 L343.2,454.5 L346.9,471.7 L349.3,486.5 L344.4,489.0 L339.5,476.7 L334.5,461.9Z" fill="#4b939f"/>
<path d="M334.5,429.8 L343.2,428.6 L345.6,437.2 L339.5,439.7Z" fill="#1874cd"/>
<g filter="url(#p500_120_5)">
<path d="M337.0,471.7 L343.2,470.5 L346.9,484.1 L349.3,496.4 L344.4,496.4 L339.5,484.1Z" fill="#eeaa00"/>
</g>
<g filter="url(#p500_120_5)">
<path d="M328.4,432.3 L333.3,431.0 L334.5,439.7 L329.6,442.1Z" fill="#eeaa00"/>
</g>
<path d="M364.1,440.9 L374.0,444.6 L382.6,448.3" fill="none" stroke="#4b939f" stroke-width="7.5" stroke-linejoin="round" stroke-linecap="round"/>
<path d="M364.1,440.9 L374.0,444.6 L382.6,448.3" fill="none" stroke="#e5f017" stroke-width="2.5" stroke-linejoin="round" stroke-linecap="round"/>
<path d="M399.9,461.9 L407.3,466.8" fill="none" stroke="#4b939f" stroke-width="7.0" stroke-linejoin="round" stroke-linecap="round"/>
<path d="M399.9,461.9 L407.3,466.8" fill="none" stroke="#e5f017" stroke-width="3.0" stroke-linejoin="round" stroke-linecap="round"/>
<path d="M359.2,442.1 L371.5,452.0 L378.9,469.3 L385.1,477.9 L390.0,484.1 L398.7,498.9 L404.8,512.4 L409.8,519.8 L418.4,535.9 L428.3,549.4 L435.7,563.0 L441.1,575.3 L448.0,585.2 L446.0,595.1 L439.4,604.4 L429.5,609.9" fill="none" stroke="#4b939f" stroke-width="9.6" stroke-linejoin="round" stroke-linecap="round"/>
<path d="M359.2,442.1 L371.5,452.0 L378.9,469.3 L385.1,477.9 L390.0,484.1 L398.7,498.9 L404.8,512.4 L409.8,519.8 L418.4,535.9 L428.3,549.4 L435.7,563.0 L441.1,575.3 L448.0,585.2 L446.0,595.1 L439.4,604.4 L429.5,609.9" fill="none" stroke="#b2d144" stroke-width="5.2" stroke-linejoin="round" stroke-linecap="round"/>
<path d="M359.2,442.1 L371.5,452.0 L378.9,469.3 L385.1,477.9 L390.0,484.1 L398.7,498.9 L404.8,512.4 L409.8,519.8 L418.4,535.9 L428.3,549.4 L435.7,563.0 L441.1,575.3 L448.0,585.2 L446.0,595.1 L439.4,604.4 L429.5,609.9" fill="none" stroke="#e5f017" stroke-width="3.2" stroke-linejoin="round" stroke-linecap="round"/>
<path d="M381.4,473.0 L390.0,485.3 L398.7,500.1 L408.5,518.6" fill="none" stroke="#eeaa00" stroke-width="1.5" stroke-linejoin="round" stroke-linecap="round"/>
<path d="M365.4,523.5 L374.0,530.9 L381.4,545.7 L391.3,563.0 L401.1,580.3 L411.0,595.1 L423.3,604.9 L433.2,608.6 L428.3,614.8 L415.9,617.3 L403.6,614.8 L398.7,604.9 L395.0,595.1 L388.8,585.2 L381.4,575.3 L374.0,563.0 L369.1,548.2 L370.3,538.3 L361.7,530.9Z" fill="#4b939f"/>
<g filter="url(#p360_100_9)">
<path d="M367.8,530.9 L378.4,547.0 L387.6,562.5 L396.2,577.3 L404.8,592.1 L413.5,603.0 L424.6,609.4 L415.9,615.3 L404.8,612.3 L396.7,600.5 L388.8,589.6 L380.9,577.3 L374.0,564.5 L369.1,550.2Z" fill="#b2d144" stroke="#b2d144" stroke-width="3.0" stroke-linejoin="round" stroke-linecap="round"/>
<path d="M367.8,530.9 L378.4,547.0 L387.6,562.5 L396.2,577.3 L404.8,592.1 L413.5,603.0 L424.6,609.4 L415.9,615.3 L404.8,612.3 L396.7,600.5 L388.8,589.6 L380.9,577.3 L374.0,564.5 L369.1,550.2Z" fill="#e5f017"/>
</g>
<g filter="url(#p360_100_9)">
<g filter="url(#p580_200_11)">
<path d="M367.8,530.9 L378.4,547.0 L387.6,562.5 L396.2,577.3 L404.8,592.1 L413.5,603.0 L424.6,609.4 L415.9,615.3 L404.8,612.3 L396.7,600.5 L388.8,589.6 L380.9,577.3 L374.0,564.5 L369.1,550.2Z" fill="#eeaa00"/>
</g>
</g>
<path d="M381.4,560.5 L388.8,572.9 L397.4,587.7 L393.7,588.9 L385.1,575.3 L378.9,563.0Z" fill="#4b939f"/>
<path d="M429.5,609.9 L440.6,616.0 L450.5,619.7 L462.8,621.0 L472.7,623.4 L481.3,629.6" fill="none" stroke="#4b939f" stroke-width="10.0" stroke-linejoin="round" stroke-linecap="round"/>
<path d="M429.5,609.9 L440.6,616.0 L450.5,619.7 L462.8,621.0 L472.7,623.4 L481.3,629.6" fill="none" stroke="#b2d144" stroke-width="5.0" stroke-linejoin="round" stroke-linecap="round"/>
<path d="M429.5,609.9 L440.6,616.0 L450.5,619.7 L462.8,621.0 L472.7,623.4 L481.3,629.6" fill="none" stroke="#e5f017" stroke-width="3.0" stroke-linejoin="round" stroke-linecap="round"/>
<path d="M438.1,604.9 L448.0,597.5 L451.7,587.7" fill="none" stroke="#4b939f" stroke-width="6.5" stroke-linejoin="round" stroke-linecap="round"/>
<path d="M438.1,604.9 L448.0,597.5 L451.7,587.7" fill="none" stroke="#e5f017" stroke-width="2.5" stroke-linejoin="round" stroke-linecap="round"/>
<path d="M433.2,553.1 L436.9,567.9 L439.4,582.7" fill="none" stroke="#4b939f" stroke-width="5.0" stroke-linejoin="round" stroke-linecap="round"/>
<path d="M433.2,553.1 L436.9,567.9 L439.4,582.7" fill="none" stroke="#e5f017" stroke-width="2.0" stroke-linejoin="round" stroke-linecap="round"/>
<path d="M445.5,553.1 L451.7,563.0 L457.9,572.9 L464.0,579.0" fill="none" stroke="#4b939f" stroke-width="6.0" stroke-linejoin="round" stroke-linecap="round"/>
<path d="M445.5,553.1 L451.7,563.0 L457.9,572.9 L464.0,579.0" fill="none" stroke="#e5f017" stroke-width="2.0" stroke-linejoin="round" stroke-linecap="round"/>
<path d="M457.9,553.1 L462.8,563.0 L470.2,572.9" fill="none" stroke="#4b939f" stroke-width="4.5" stroke-linejoin="round" stroke-linecap="round"/>
<path d="M457.9,553.1 L462.8,563.0 L470.2,572.9" fill="none" stroke="#e5f017" stroke-width="1.5" stroke-linejoin="round" stroke-linecap="round"/>
<path d="M496.1,565.5 L503.5,572.9 L506.0,569.2 L498.6,564.2" fill="none" stroke="#e5f017" stroke-width="2.0" stroke-linejoin="round" stroke-linecap="round"/>
<path d="M512.1,553.1 L510.9,564.2" fill="none" stroke="#e5f017" stroke-width="2.5" stroke-linejoin="round" stroke-linecap="round"/>
<path d="M468.2,556.8 L472.7,563.0 L476.4,575.3 L482.5,585.2 L489.9,587.7 L491.2,593.1" fill="none" stroke="#4d4d4d" stroke-width="3.5" stroke-linejoin="round" stroke-linecap="round"/>
<path d="M491.2,593.8 L493.6,602.5" fill="none" stroke="#b3b3b3" stroke-width="4.0" stroke-linejoin="round" stroke-linecap="round"/>
<g filter="url(#p470_130_2)">
<path d="M492.4,613.6 L504.7,616.0 L517.1,619.7 L526.9,624.7 L533.1,633.3 L522.0,635.0 L509.7,632.1 L499.8,624.7Z" fill="#b3b3b3"/>
</g>
<path d="M528.2,560.5 L530.6,572.9" fill="none" stroke="#b3b3b3" stroke-width="3.0" stroke-linejoin="round" stroke-linecap="round"/>
<path d="M411.0,444.6 L423.3,434.7 L433.2,427.3 L448.0,422.4 L472.7,422.4 L489.9,424.9 L507.2,434.7 L512.1,452.0 L502.3,466.8 L487.5,474.2 L472.7,479.1 L470.2,489.0 L482.5,496.4 L497.3,498.9 L507.2,496.4 L517.1,506.3 L533.1,511.2 L533.1,545.7 L522.0,543.3 L509.7,549.4 L497.3,547.0 L487.5,551.9 L477.6,547.0 L467.7,539.6 L457.9,529.7 L448.0,517.4 L438.1,513.7 L428.3,503.8 L418.4,496.4 L411.0,489.0Z" fill="#4b939f"/>
<path d="M438.1,428.6 L448.0,424.4 L457.9,431.8 L467.7,436.7 L482.5,449.0 L488.7,454.5 L478.8,464.3 L470.2,471.2 L462.8,468.0 L457.9,456.9 L448.0,449.5 L440.6,439.7Z" fill="#b2d144"/>
<g filter="url(#p420_100_9)">
<path d="M412.2,448.3 L423.3,438.4 L433.2,431.0 L441.8,429.8 L445.5,439.7 L452.9,449.5 L460.3,459.4 L462.8,471.7 L457.9,479.6 L453.4,489.0 L458.4,500.8 L472.7,508.2 L487.5,513.2 L497.3,505.8 L504.7,500.8 L512.1,513.2 L522.0,515.6 L533.1,518.1 L533.1,542.8 L522.0,540.3 L509.7,545.2 L497.3,542.8 L487.5,547.7 L477.6,542.8 L467.7,535.4 L457.9,525.5 L448.0,513.2 L438.1,510.7 L428.3,500.8 L418.4,493.4 L412.7,486.5 L415.9,471.7 L412.5,459.4Z" fill="#b2d144" stroke="#b2d144" stroke-width="3.0" stroke-linejoin="round" stroke-linecap="round"/>
<path d="M412.2,448.3 L423.3,438.4 L433.2,431.0 L441.8,429.8 L445.5,439.7 L452.9,449.5 L460.3,459.4 L462.8,471.7 L457.9,479.6 L453.4,489.0 L458.4,500.8 L472.7,508.2 L487.5,513.2 L497.3,505.8 L504.7,500.8 L512.1,513.2 L522.0,515.6 L533.1,518.1 L533.1,542.8 L522.0,540.3 L509.7,545.2 L497.3,542.8 L487.5,547.7 L477.6,542.8 L467.7,535.4 L457.9,525.5 L448.0,513.2 L438.1,510.7 L428.3,500.8 L418.4,493.4 L412.7,486.5 L415.9,471.7 L412.5,459.4Z" fill="#e5f017"/>
</g>
<g filter="url(#p420_100_9)">
<g filter="url(#p580_200_11)">
<path d="M412.2,448.3 L423.3,438.4 L433.2,431.0 L441.8,429.8 L445.5,439.7 L452.9,449.5 L460.3,459.4 L462.8,471.7 L457.9,479.6 L453.4,489.0 L458.4,500.8 L472.7,508.2 L487.5,513.2 L497.3,505.8 L504.7,500.8 L512.1,513.2 L522.0,515.6 L533.1,518.1 L533.1,542.8 L522.0,540.3 L509.7,545.2 L497.3,542.8 L487.5,547.7 L477.6,542.8 L467.7,535.4 L457.9,525.5 L448.0,513.2 L438.1,510.7 L428.3,500.8 L418.4,493.4 L412.7,486.5 L415.9,471.7 L412.5,459.4Z" fill="#eeaa00"/>
</g>
</g>
<path d="M457.9,489.0 L472.7,486.5 L487.5,496.4 L477.6,508.2 L462.8,505.8 L455.4,498.9Z" fill="#4b939f" stroke="#4b939f" stroke-width="4.0" stroke-linejoin="round" stroke-linecap="round"/>
<path d="M457.9,489.0 L472.7,486.5 L487.5,496.4 L477.6,508.2 L462.8,505.8 L455.4,498.9Z" fill="#1874cd"/>
<g filter="url(#p500_120_5)">
<path d="M418.4,452.0 L428.3,444.6 L434.4,454.5 L428.3,464.3 L420.9,461.9Z" fill="#eeaa00"/>
</g>
<g filter="url(#p500_120_5)">
<path d="M428.3,474.2 L440.6,469.3 L448.0,479.1 L440.6,489.0 L430.7,486.5Z" fill="#eeaa00"/>
</g>
<g filter="url(#p500_120_5)">
<path d="M462.8,513.7 L472.7,516.1 L477.6,526.0 L470.2,530.9 L462.8,523.5Z" fill="#eeaa00"/>
</g>
<g filter="url(#p500_120_5)">
<path d="M492.4,523.5 L504.7,518.6 L509.7,530.9 L499.8,535.9Z" fill="#eeaa00"/>
</g>
<g filter="url(#p500_120_5)">
<path d="M517.1,521.1 L529.4,523.5 L530.6,533.4 L519.5,533.4Z" fill="#eeaa00"/>
</g>
<g filter="url(#p500_120_5)">
<path d="M438.1,496.4 L448.0,498.9 L450.5,508.7 L441.8,506.3Z" fill="#eeaa00"/>
</g>
<path d="M502.3,464.3 L517.1,459.4 L531.9,464.3 L533.1,496.4 L522.0,493.9 L512.1,484.1Z" fill="#4b939f"/>
<g filter="url(#p420_100_9)">
<path d="M538.0,434.7 L546.7,429.8 L561.5,427.3 L576.3,424.9 L581.2,439.7 L583.7,454.5 L588.6,469.3 L581.2,479.1 L576.3,496.4 L568.9,508.7 L561.5,521.1 L551.6,530.9 L541.7,538.3 L538.0,543.3Z" fill="#4b939f" stroke="#4b939f" stroke-width="8.0" stroke-linejoin="round" stroke-linecap="round"/>
<path d="M538.0,434.7 L546.7,429.8 L561.5,427.3 L576.3,424.9 L581.2,439.7 L583.7,454.5 L588.6,469.3 L581.2,479.1 L576.3,496.4 L568.9,508.7 L561.5,521.1 L551.6,530.9 L541.7,538.3 L538.0,543.3Z" fill="#b2d144" stroke="#b2d144" stroke-width="3.0" stroke-linejoin="round" stroke-linecap="round"/>
<path d="M538.0,434.7 L546.7,429.8 L561.5,427.3 L576.3,424.9 L581.2,439.7 L583.7,454.5 L588.6,469.3 L581.2,479.1 L576.3,496.4 L568.9,508.7 L561.5,521.1 L551.6,530.9 L541.7,538.3 L538.0,543.3Z" fill="#e5f017"/>
</g>
<g filter="url(#p420_100_9)">
<g filter="url(#p580_200_11)">
<path d="M538.0,434.7 L546.7,429.8 L561.5,427.3 L576.3,424.9 L581.2,439.7 L583.7,454.5 L588.6,469.3 L581.2,479.1 L576.3,496.4 L568.9,508.7 L561.5,521.1 L551.6,530.9 L541.7,538.3 L538.0,543.3Z" fill="#eeaa00"/>
</g>
</g>
<path d="M567.6,439.7 L578.7,438.4 L583.7,452.0 L581.2,464.3 L571.3,461.9Z" fill="#4b939f"/>
<path d="M540.5,452.0 L551.6,444.6 L559.0,452.0 L556.5,464.3 L546.7,466.8Z" fill="#f9e300"/>
<g filter="url(#p500_120_5)">
<path d="M556.5,464.3 L563.9,461.9 L565.2,476.7 L559.0,479.1Z" fill="#eeaa00"/>
</g>
<g filter="url(#p500_120_5)">
<path d="M544.2,479.1 L554.1,476.7 L556.5,493.9 L546.7,496.4Z" fill="#eeaa00"/>
</g>
<g filter="url(#p500_120_5)">
<path d="M546.7,508.7 L556.5,506.3 L554.1,518.6 L545.4,521.1Z" fill="#eeaa00"/>
</g>
<path d="M591.1,508.7 L599.7,487.8 L609.6,476.7 L619.4,463.1 L630.5,454.5 L642.9,456.9 L642.9,553.1 L620.7,547.0 L605.9,542.0 L596.0,537.1 L583.7,542.0 L571.3,547.0 L556.5,549.4 L544.2,547.0 L559.0,533.4 L578.7,527.2Z" fill="#4b939f"/>
<g filter="url(#p420_100_9)">
<path d="M592.3,510.0 L601.4,490.2 L611.3,479.6 L621.2,465.6 L631.0,457.4 L641.6,459.9 L641.6,476.7 L628.6,484.6 L621.2,496.9 L628.6,509.2 L641.6,518.6 L641.6,548.2 L620.7,543.3 L605.9,538.3 L596.0,533.4 L583.7,538.3 L571.3,543.3 L556.5,545.7 L547.9,543.8 L562.0,533.9 L579.2,529.0Z" fill="#b2d144" stroke="#b2d144" stroke-width="2.4" stroke-linejoin="round" stroke-linecap="round"/>
<path d="M592.3,510.0 L601.4,490.2 L611.3,479.6 L621.2,465.6 L631.0,457.4 L641.6,459.9 L641.6,476.7 L628.6,484.6 L621.2,496.9 L628.6,509.2 L641.6,518.6 L641.6,548.2 L620.7,543.3 L605.9,538.3 L596.0,533.4 L583.7,538.3 L571.3,543.3 L556.5,545.7 L547.9,543.8 L562.0,533.9 L579.2,529.0Z" fill="#e5f017"/>
</g>
<g filter="url(#p420_100_9)">
<g filter="url(#p580_200_11)">
<path d="M592.3,510.0 L601.4,490.2 L611.3,479.6 L621.2,465.6 L631.0,457.4 L641.6,459.9 L641.6,476.7 L628.6,484.6 L621.2,496.9 L628.6,509.2 L641.6,518.6 L641.6,548.2 L620.7,543.3 L605.9,538.3 L596.0,533.4 L583.7,538.3 L571.3,543.3 L556.5,545.7 L547.9,543.8 L562.0,533.9 L579.2,529.0Z" fill="#eeaa00"/>
</g>
</g>
<path d="M608.3,496.4 L618.2,489.0 L620.7,503.8 L628.1,513.7 L620.7,521.1 L610.8,513.7Z" fill="#4b939f"/>
<g filter="url(#p500_120_5)">
<path d="M603.4,493.9 L610.8,484.1 L618.2,479.1 L614.5,491.5 L607.1,501.3Z" fill="#eeaa00"/>
</g>
<g filter="url(#p500_120_5)">
<path d="M625.6,464.3 L637.9,461.9 L639.2,471.7 L628.1,476.7Z" fill="#eeaa00"/>
</g>
<g filter="url(#p500_120_5)">
<path d="M596.0,521.1 L608.3,518.6 L615.7,528.5 L603.4,533.4Z" fill="#eeaa00"/>
</g>
<g filter="url(#p500_120_5)">
<path d="M628.1,523.5 L640.4,526.0 L640.4,538.3 L630.5,535.9Z" fill="#eeaa00"/>
</g>
<path d="M642.2,448.4 L655.8,449.7 L662.0,459.5 L658.3,469.4 L668.1,479.3 L678.0,481.7 L675.5,491.6 L678.0,503.9 L671.8,517.5 L660.7,516.3 L657.0,528.6 L653.3,540.9 L658.3,548.3 L642.2,548.3Z" fill="#4b939f"/>
<g filter="url(#p420_100_9)">
<path d="M643.5,481.7 L658.3,486.7 L673.1,484.2 L668.1,491.6 L658.3,496.5 L668.1,501.5 L673.1,503.9 L668.1,513.8 L658.3,508.9 L648.4,506.4 L653.3,518.7 L648.4,528.6 L642.2,523.7Z" fill="#b2d144" stroke="#b2d144" stroke-width="2.4" stroke-linejoin="round" stroke-linecap="round"/>
<path d="M643.5,481.7 L658.3,486.7 L673.1,484.2 L668.1,491.6 L658.3,496.5 L668.1,501.5 L673.1,503.9 L668.1,513.8 L658.3,508.9 L648.4,506.4 L653.3,518.7 L648.4,528.6 L642.2,523.7Z" fill="#e5f017"/>
</g>
<g filter="url(#p420_100_9)">
<g filter="url(#p580_200_11)">
<path d="M643.5,481.7 L658.3,486.7 L673.1,484.2 L668.1,491.6 L658.3,496.5 L668.1,501.5 L673.1,503.9 L668.1,513.8 L658.3,508.9 L648.4,506.4 L653.3,518.7 L648.4,528.6 L642.2,523.7Z" fill="#eeaa00"/>
</g>
</g>
<g filter="url(#p420_100_9)">
<path d="M642.2,450.9 L653.3,452.6 L657.8,459.5 L650.9,464.5 L645.9,474.3 L642.2,471.9Z" fill="#b2d144" stroke="#b2d144" stroke-width="2.4" stroke-linejoin="round" stroke-linecap="round"/>
<path d="M642.2,450.9 L653.3,452.6 L657.8,459.5 L650.9,464.5 L645.9,474.3 L642.2,471.9Z" fill="#e5f017"/>
</g>
<g filter="url(#p420_100_9)">
<g filter="url(#p580_200_11)">
<path d="M642.2,450.9 L653.3,452.6 L657.8,459.5 L650.9,464.5 L645.9,474.3 L642.2,471.9Z" fill="#eeaa00"/>
</g>
</g>
<path d="M645.9,531.1 L652.1,540.9 L657.0,547.1" fill="none" stroke="#b2d144" stroke-width="5.0" stroke-linejoin="round" stroke-linecap="round"/>
<path d="M645.9,531.1 L652.1,540.9 L657.0,547.1" fill="none" stroke="#e5f017" stroke-width="3.0" stroke-linejoin="round" stroke-linecap="round"/>
<path d="M718.7,449.7 L786.5,448.4 L786.5,549.6 L737.2,549.6 L731.0,540.9 L724.9,531.1 L719.9,521.2 L713.8,513.8 L710.1,515.0 L717.5,510.1 L727.3,505.2 L737.2,499.0 L727.3,491.6 L721.2,486.7 L719.4,474.3 L721.2,462.0Z" fill="#4b939f"/>
<path d="M721.2,452.1 L786.5,449.7 L786.5,549.6 L739.7,549.6 L734.7,545.9 L729.8,536.0 L727.3,528.6 L722.4,518.7 L718.0,512.8 L724.9,508.9 L734.7,503.9 L744.1,497.0 L737.2,490.6 L724.9,487.2 L722.4,476.8 L724.9,464.5Z" fill="#b2d144"/>
<g filter="url(#p420_100_9)">
<path d="M723.6,452.6 L786.5,449.7 L786.5,523.7 L776.7,520.0 L766.8,518.7 L752.0,523.7 L754.5,531.1 L759.4,538.5 L771.7,540.9 L776.7,548.3 L740.9,548.3 L736.0,545.4 L731.0,535.5 L728.6,528.1 L724.4,518.7 L720.4,512.8 L727.3,508.9 L736.7,503.9 L752.0,499.0 L761.9,496.5 L766.8,486.7 L752.0,482.2 L742.6,484.2 L737.2,489.6 L726.3,486.7 L723.9,476.8 L726.1,464.5Z" fill="#e5f017"/>
</g>
<g filter="url(#p420_100_9)">
<g filter="url(#p580_200_11)">
<path d="M723.6,452.6 L786.5,449.7 L786.5,523.7 L776.7,520.0 L766.8,518.7 L752.0,523.7 L754.5,531.1 L759.4,538.5 L771.7,540.9 L776.7,548.3 L740.9,548.3 L736.0,545.4 L731.0,535.5 L728.6,528.1 L724.4,518.7 L720.4,512.8 L727.3,508.9 L736.7,503.9 L752.0,499.0 L761.9,496.5 L766.8,486.7 L752.0,482.2 L742.6,484.2 L737.2,489.6 L726.3,486.7 L723.9,476.8 L726.1,464.5Z" fill="#eeaa00"/>
</g>
</g>
<g filter="url(#p420_80_5)">
<path d="M724.9,462.0 L734.7,459.5 L747.1,462.0 L759.4,457.1 L769.3,452.1 L776.7,454.6 L771.7,469.4 L766.8,481.7 L752.0,479.3 L742.1,481.7 L729.8,476.8 L726.1,469.4Z" fill="#eeaa00"/>
</g>
<g filter="url(#p420_100_9)">
<path d="M742.1,464.5 L754.5,462.0 L763.1,459.5 L759.4,471.9 L747.1,474.3Z" fill="#e5f017"/>
</g>
<g filter="url(#p420_100_9)">
<g filter="url(#p580_200_11)">
<path d="M742.1,464.5 L754.5,462.0 L763.1,459.5 L759.4,471.9 L747.1,474.3Z" fill="#eeaa00"/>
</g>
</g>
<path d="M722.4,511.8 L734.7,509.4 L747.1,504.4 L761.9,502.0 L776.7,499.0 L785.3,497.0" fill="none" stroke="#eeaa00" stroke-width="5.0" stroke-linejoin="round" stroke-linecap="round"/>
<g filter="url(#p500_120_5)">
<path d="M727.3,518.7 L737.2,516.3 L744.6,528.6 L742.1,540.9 L734.7,543.4 L729.8,533.5Z" fill="#eeaa00"/>
</g>
<path d="M744.6,518.7 L752.0,513.8 L761.9,506.4 L776.7,503.9 L785.3,506.4 L785.3,521.2 L774.2,518.7 L761.9,518.7 L752.0,523.7Z" fill="#f9e300"/>
<path d="M753.2,524.9 L766.8,520.0 L784.1,524.2 L785.3,543.4 L771.7,540.4 L759.9,538.0 L755.0,531.1Z" fill="#7fb272"/>
<g filter="url(#p0_100_9)">
<path d="M747.1,425.0 L880.0,425.0 L880.0,470.6 L789.0,470.6 L786.5,448.4 L748.3,447.2Z" fill="#e5f017"/>
</g>
<g filter="url(#p0_100_9)">
<g filter="url(#p580_200_11)">
<path d="M747.1,425.0 L880.0,425.0 L880.0,470.6 L789.0,470.6 L786.5,448.4 L748.3,447.2Z" fill="#eeaa00"/>
</g>
</g>
<path d="M747.1,425.0 L791.5,425.0 L786.5,434.9 L774.2,439.8 L761.9,437.3 L748.3,442.3Z" fill="#b2d144"/>
<g filter="url(#p560_90_5)">
<path d="M753.2,425.0 L880.0,425.0 L880.0,454.6 L863.0,459.5 L840.8,464.5 L821.1,459.5 L801.3,466.9 L791.5,464.5 L786.5,449.7 L774.2,442.3 L761.9,434.9Z" fill="#eeaa00"/>
</g>
<g filter="url(#p420_100_9)">
<path d="M789.0,449.7 L806.3,447.2 L826.0,439.8 L845.7,444.7 L865.5,439.8 L880.0,442.3 L880.0,470.6 L790.2,470.6Z" fill="#e5f017"/>
</g>
<g filter="url(#p420_100_9)">
<g filter="url(#p580_200_11)">
<path d="M789.0,449.7 L806.3,447.2 L826.0,439.8 L845.7,444.7 L865.5,439.8 L880.0,442.3 L880.0,470.6 L790.2,470.6Z" fill="#eeaa00"/>
</g>
</g>
<g filter="url(#p500_120_5)">
<path d="M796.4,454.6 L813.7,452.1 L833.4,448.4 L850.7,452.1 L838.3,459.5 L821.1,458.3 L803.8,464.5Z" fill="#eeaa00"/>
</g>
<path d="M726.1,425.0 L745.8,425.0 L745.8,444.7 L734.7,444.7 L729.8,434.9Z" fill="#4b939f"/>
<path d="M789.0,474.3 L880.0,474.3 L880.0,511.3 L860.5,518.7 L845.7,523.7 L833.4,533.5 L821.1,540.9 L806.3,543.4 L789.0,548.3Z" fill="#4b939f"/>
<path d="M789.0,474.3 L880.0,474.3 L880.0,479.3 L858.1,486.7 L840.8,494.1 L826.0,506.4 L813.7,516.3 L801.3,528.6 L789.0,536.0Z" fill="#7fb272"/>
<path d="M789.0,474.3 L870.4,474.3 L850.7,478.0 L835.9,484.2 L823.5,494.1 L813.7,505.2 L802.6,520.0 L789.0,528.6Z" fill="#b2d144"/>
<g filter="url(#p420_100_9)">
<path d="M789.0,474.3 L850.7,474.3 L835.9,479.8 L821.1,489.6 L808.7,504.4 L798.9,518.7 L789.0,523.7Z" fill="#e5f017"/>
</g>
<g filter="url(#p420_100_9)">
<g filter="url(#p580_200_11)">
<path d="M789.0,474.3 L850.7,474.3 L835.9,479.8 L821.1,489.6 L808.7,504.4 L798.9,518.7 L789.0,523.7Z" fill="#eeaa00"/>
</g>
</g>
<path d="M789.0,475.6 L833.4,475.6 L823.5,484.2 L813.7,496.5 L803.8,508.9 L796.4,520.0 L789.5,522.4Z" fill="#f9e300"/>
<path d="M734.7,552.0 L791.5,552.0 L789.0,563.1 L779.1,573.0 L768.0,582.9 L752.0,597.7 L742.1,612.5 L734.7,622.3 L727.3,629.7 L717.5,642.1 L702.7,645.0 L642.2,645.0 L642.2,552.0Z" fill="#4b939f"/>
<path d="M768.0,553.3 L786.5,553.3 L784.1,563.1 L776.7,570.5 L768.0,573.0Z" fill="#b2d144"/>
<g filter="url(#p420_100_9)">
<path d="M643.5,553.3 L678.0,553.3 L675.5,563.1 L680.5,573.0 L678.0,585.3 L668.1,582.9 L658.3,587.8 L648.4,582.9 L643.5,585.3Z" fill="#b2d144" stroke="#b2d144" stroke-width="3.0" stroke-linejoin="round" stroke-linecap="round"/>
<path d="M643.5,553.3 L678.0,553.3 L675.5,563.1 L680.5,573.0 L678.0,585.3 L668.1,582.9 L658.3,587.8 L648.4,582.9 L643.5,585.3Z" fill="#e5f017"/>
</g>
<g filter="url(#p420_100_9)">
<g filter="url(#p580_200_11)">
<path d="M643.5,553.3 L678.0,553.3 L675.5,563.1 L680.5,573.0 L678.0,585.3 L668.1,582.9 L658.3,587.8 L648.4,582.9 L643.5,585.3Z" fill="#eeaa00"/>
</g>
</g>
<g filter="url(#p500_120_5)">
<path d="M645.9,563.1 L663.2,560.7 L673.1,573.0 L663.2,577.9 L650.9,575.5Z" fill="#eeaa00"/>
</g>
<path d="M678.0,558.2 L707.6,555.7 L727.3,558.2 L737.2,563.1 L727.3,573.0 L717.5,582.9 L707.6,587.8 L700.2,582.9 L690.3,577.9 L681.7,568.1Z" fill="#1874cd"/>
<g filter="url(#p420_100_9)">
<path d="M687.9,568.1 L702.7,570.5 L707.6,577.9 L702.7,587.8 L700.2,597.7 L707.6,602.6 L717.5,597.7 L727.3,587.8 L737.2,577.9 L747.1,570.5 L756.9,563.1 L764.3,555.7 L765.6,573.0 L752.0,582.9 L739.7,592.7 L732.3,602.6 L727.3,617.4 L722.4,629.7 L712.5,639.6 L702.7,645.0 L692.8,634.7 L697.7,622.3 L692.8,612.5 L682.9,602.6 L678.0,592.7 L687.9,595.2 L695.3,585.3 L690.3,575.5Z" fill="#b2d144" stroke="#b2d144" stroke-width="3.0" stroke-linejoin="round" stroke-linecap="round"/>
<path d="M687.9,568.1 L702.7,570.5 L707.6,577.9 L702.7,587.8 L700.2,597.7 L707.6,602.6 L717.5,597.7 L727.3,587.8 L737.2,577.9 L747.1,570.5 L756.9,563.1 L764.3,555.7 L765.6,573.0 L752.0,582.9 L739.7,592.7 L732.3,602.6 L727.3,617.4 L722.4,629.7 L712.5,639.6 L702.7,645.0 L692.8,634.7 L697.7,622.3 L692.8,612.5 L682.9,602.6 L678.0,592.7 L687.9,595.2 L695.3,585.3 L690.3,575.5Z" fill="#e5f017"/>
</g>
<g filter="url(#p420_100_9)">
<g filter="url(#p580_200_11)">
<path d="M687.9,568.1 L702.7,570.5 L707.6,577.9 L702.7,587.8 L700.2,597.7 L707.6,602.6 L717.5,597.7 L727.3,587.8 L737.2,577.9 L747.1,570.5 L756.9,563.1 L764.3,555.7 L765.6,573.0 L752.0,582.9 L739.7,592.7 L732.3,602.6 L727.3,617.4 L722.4,629.7 L712.5,639.6 L702.7,645.0 L692.8,634.7 L697.7,622.3 L692.8,612.5 L682.9,602.6 L678.0,592.7 L687.9,595.2 L695.3,585.3 L690.3,575.5Z" fill="#eeaa00"/>
</g>
</g>
<path d="M687.9,577.9 L695.3,575.5 L697.7,585.3 L690.3,587.8Z" fill="#1874cd"/>
<path d="M734.7,563.1 L752.0,559.4 L764.3,563.1 L752.0,573.0 L742.1,577.9Z" fill="#b2d144"/>
<g filter="url(#p500_120_5)">
<path d="M700.2,607.5 L710.1,605.1 L717.5,612.5 L712.5,627.3 L702.7,629.7 L700.2,619.9Z" fill="#eeaa00"/>
</g>
<g filter="url(#p500_120_5)">
<path d="M734.7,582.9 L747.1,573.0 L756.9,570.5 L747.1,582.9 L739.7,590.3Z" fill="#eeaa00"/>
</g>
<path d="M645.9,595.2 L663.2,592.7 L678.0,597.7 L687.9,612.5 L690.3,629.7 L682.9,645.0 L668.1,645.0 L663.2,629.7 L653.3,617.4 L644.7,607.5Z" fill="#1874cd"/>
<g filter="url(#p420_100_9)">
<path d="M668.1,597.7 L675.5,595.2 L680.5,607.5 L687.9,617.4 L682.9,622.3 L675.5,612.5Z" fill="#b2d144" stroke="#b2d144" stroke-width="3.0" stroke-linejoin="round" stroke-linecap="round"/>
<path d="M668.1,597.7 L675.5,595.2 L680.5,607.5 L687.9,617.4 L682.9,622.3 L675.5,612.5Z" fill="#e5f017"/>
</g>
<g filter="url(#p420_100_9)">
<g filter="url(#p580_200_11)">
<path d="M668.1,597.7 L675.5,595.2 L680.5,607.5 L687.9,617.4 L682.9,622.3 L675.5,612.5Z" fill="#eeaa00"/>
</g>
</g>
<path d="M537.4,553.3 L641.0,553.3 L641.0,645.0 L596.6,645.0 L586.7,629.7 L574.4,619.9 L559.6,610.0 L547.3,597.7 L539.9,582.9Z" fill="#4b939f"/>
<g filter="url(#p420_100_9)">
<path d="M539.9,555.7 L638.5,555.7 L638.5,645.0 L623.7,645.0 L611.4,629.7 L599.1,622.3 L584.3,612.5 L569.5,602.6 L554.7,592.7 L544.8,577.9Z" fill="#b2d144" stroke="#b2d144" stroke-width="3.0" stroke-linejoin="round" stroke-linecap="round"/>
<path d="M539.9,555.7 L638.5,555.7 L638.5,645.0 L623.7,645.0 L611.4,629.7 L599.1,622.3 L584.3,612.5 L569.5,602.6 L554.7,592.7 L544.8,577.9Z" fill="#e5f017"/>
</g>
<g filter="url(#p420_100_9)">
<g filter="url(#p580_200_11)">
<path d="M539.9,555.7 L638.5,555.7 L638.5,645.0 L623.7,645.0 L611.4,629.7 L599.1,622.3 L584.3,612.5 L569.5,602.6 L554.7,592.7 L544.8,577.9Z" fill="#eeaa00"/>
</g>
</g>
<path d="M579.3,585.3 L594.1,577.9 L611.4,582.9 L628.7,587.8 L623.7,602.6 L611.4,607.5 L596.6,600.1 L586.7,597.7Z" fill="#4b939f"/>
<path d="M586.7,563.1 L604.0,559.4 L618.8,565.6 L611.4,573.0 L596.6,573.0Z" fill="#4b939f" stroke="#4b939f" stroke-width="4.0" stroke-linejoin="round" stroke-linecap="round"/>
<path d="M586.7,563.1 L604.0,559.4 L618.8,565.6 L611.4,573.0 L596.6,573.0Z" fill="#1874cd"/>
<path d="M557.1,573.0 L569.5,568.1 L579.3,577.9 L571.9,585.3 L562.1,582.9Z" fill="#4b939f" stroke="#4b939f" stroke-width="4.0" stroke-linejoin="round" stroke-linecap="round"/>
<path d="M557.1,573.0 L569.5,568.1 L579.3,577.9 L571.9,585.3 L562.1,582.9Z" fill="#1874cd"/>
<g filter="url(#p500_120_5)">
<path d="M611.4,559.4 L633.6,558.2 L636.1,573.0 L623.7,577.9 L613.9,570.5Z" fill="#eeaa00"/>
</g>
<g filter="url(#p500_120_5)">
<path d="M559.6,595.2 L579.3,602.6 L594.1,612.5 L611.4,619.9 L604.0,622.3 L586.7,617.4 L567.0,607.5Z" fill="#eeaa00"/>
</g>
<g filter="url(#p500_120_5)">
<path d="M623.7,607.5 L636.1,605.1 L637.3,622.3 L626.2,622.3Z" fill="#eeaa00"/>
</g>
<g filter="url(#p500_120_5)">
<path d="M544.8,560.7 L559.6,559.4 L557.1,568.1 L547.3,570.5Z" fill="#eeaa00"/>
</g>
<path d="M402.5,605.0 L420.0,610.5 L437.5,613.0 L445.0,620.0 L465.0,623.8 L480.0,625.5" fill="none" stroke="#4b939f" stroke-width="6.5" stroke-linejoin="round" stroke-linecap="round"/>
<path d="M402.5,605.0 L420.0,610.5 L437.5,613.0 L445.0,620.0 L465.0,623.8 L480.0,625.5" fill="none" stroke="#e5f017" stroke-width="2.5" stroke-linejoin="round" stroke-linecap="round"/>
<path d="M407.5,610.0 L417.5,603.8 L432.5,607.0" fill="none" stroke="#4b939f" stroke-width="5.0" stroke-linejoin="round" stroke-linecap="round"/>
<path d="M407.5,610.0 L417.5,603.8 L432.5,607.0" fill="none" stroke="#e5f017" stroke-width="2.0" stroke-linejoin="round" stroke-linecap="round"/>
<path d="M478.0,637.5 L482.5,645.0 L480.0,655.0 L485.0,663.8" fill="none" stroke="#4b939f" stroke-width="6.0" stroke-linejoin="round" stroke-linecap="round"/>
<path d="M478.0,637.5 L482.5,645.0 L480.0,655.0 L485.0,663.8" fill="none" stroke="#e5f017" stroke-width="3.0" stroke-linejoin="round" stroke-linecap="round"/>
<g filter="url(#p470_130_2)">
<path d="M490.0,612.5 L505.0,615.0 L520.0,622.5 L530.0,625.0 L525.0,637.5 L520.0,650.0 L510.0,652.5 L507.5,640.0 L500.0,627.5 L492.5,620.0Z" fill="#b3b3b3"/>
</g>
<g filter="url(#p470_130_2)">
<path d="M526.2,627.5 L540.0,630.0 L542.5,640.0 L532.5,645.0 L525.0,657.5 L545.0,655.0 L552.5,660.0 L550.0,673.8 L530.0,670.0 L520.0,667.5 L522.5,657.5Z" fill="#b3b3b3"/>
</g>
<g filter="url(#p470_130_2)">
<path d="M560.0,647.5 L577.5,642.5 L582.5,652.5 L570.0,657.5 L562.5,655.0Z" fill="#b3b3b3"/>
</g>
<g filter="url(#p470_130_2)">
<path d="M500.0,660.0 L506.2,659.5 L506.2,664.5 L500.0,665.0Z" fill="#b3b3b3"/>
</g>
<path d="M542.5,600.0 L640.0,600.0 L640.0,652.5 L620.0,647.5 L602.5,637.5 L590.0,625.0 L577.5,615.0 L560.0,611.2Z" fill="#4b939f"/>
<g filter="url(#p420_100_9)">
<path d="M545.0,600.0 L565.0,607.5 L582.5,610.0 L595.0,620.0 L605.0,632.5 L620.0,642.5 L638.8,647.5 L638.8,635.0 L625.0,627.5 L610.0,615.0 L595.0,605.0 L585.0,600.0Z" fill="#b2d144" stroke="#b2d144" stroke-width="3.0" stroke-linejoin="round" stroke-linecap="round"/>
<path d="M545.0,600.0 L565.0,607.5 L582.5,610.0 L595.0,620.0 L605.0,632.5 L620.0,642.5 L638.8,647.5 L638.8,635.0 L625.0,627.5 L610.0,615.0 L595.0,605.0 L585.0,600.0Z" fill="#e5f017"/>
</g>
<g filter="url(#p420_100_9)">
<g filter="url(#p580_200_11)">
<path d="M545.0,600.0 L565.0,607.5 L582.5,610.0 L595.0,620.0 L605.0,632.5 L620.0,642.5 L638.8,647.5 L638.8,635.0 L625.0,627.5 L610.0,615.0 L595.0,605.0 L585.0,600.0Z" fill="#eeaa00"/>
</g>
</g>
<g filter="url(#p500_120_5)">
<path d="M595.0,610.0 L610.0,620.0 L625.0,632.5 L635.0,637.5 L620.0,637.5 L605.0,625.0Z" fill="#eeaa00"/>
</g>
<path d="M642.5,600.0 L686.2,600.0 L683.8,637.5 L671.2,662.5 L652.5,675.0 L642.5,672.5Z" fill="#4b939f"/>
<g filter="url(#p420_100_9)">
<path d="M643.8,600.0 L665.0,600.0 L677.5,610.0 L680.0,625.0 L675.0,640.0 L667.5,652.5 L660.0,665.0 L652.5,672.5 L645.0,662.5 L643.8,650.0 L652.5,645.0 L662.5,632.5 L660.0,620.0 L647.5,615.0Z" fill="#b2d144" stroke="#b2d144" stroke-width="3.0" stroke-linejoin="round" stroke-linecap="round"/>
<path d="M643.8,600.0 L665.0,600.0 L677.5,610.0 L680.0,625.0 L675.0,640.0 L667.5,652.5 L660.0,665.0 L652.5,672.5 L645.0,662.5 L643.8,650.0 L652.5,645.0 L662.5,632.5 L660.0,620.0 L647.5,615.0Z" fill="#e5f017"/>
</g>
<g filter="url(#p420_100_9)">
<g filter="url(#p580_200_11)">
<path d="M643.8,600.0 L665.0,600.0 L677.5,610.0 L680.0,625.0 L675.0,640.0 L667.5,652.5 L660.0,665.0 L652.5,672.5 L645.0,662.5 L643.8,650.0 L652.5,645.0 L662.5,632.5 L660.0,620.0 L647.5,615.0Z" fill="#eeaa00"/>
</g>
</g>
<g filter="url(#p500_120_5)">
<path d="M657.5,645.0 L667.5,637.5 L670.0,650.0 L661.2,660.0 L655.0,657.5Z" fill="#eeaa00"/>
</g>
<path d="M688.8,600.0 L745.0,600.0 L741.2,615.0 L736.2,627.5 L730.0,650.0 L725.0,672.5 L707.5,672.5 L702.5,650.0 L692.5,635.0 L687.5,620.0Z" fill="#4b939f"/>
<g filter="url(#p420_100_9)">
<path d="M692.5,622.5 L697.5,610.0 L702.5,600.0 L730.0,600.0 L732.5,615.0 L725.0,630.0 L720.0,645.0 L722.5,657.5 L717.5,670.0 L710.0,667.5 L707.5,650.0 L705.0,637.5 L695.0,632.5Z" fill="#b2d144" stroke="#b2d144" stroke-width="3.0" stroke-linejoin="round" stroke-linecap="round"/>
<path d="M692.5,622.5 L697.5,610.0 L702.5,600.0 L730.0,600.0 L732.5,615.0 L725.0,630.0 L720.0,645.0 L722.5,657.5 L717.5,670.0 L710.0,667.5 L707.5,650.0 L705.0,637.5 L695.0,632.5Z" fill="#e5f017"/>
</g>
<g filter="url(#p420_100_9)">
<g filter="url(#p580_200_11)">
<path d="M692.5,622.5 L697.5,610.0 L702.5,600.0 L730.0,600.0 L732.5,615.0 L725.0,630.0 L720.0,645.0 L722.5,657.5 L717.5,670.0 L710.0,667.5 L707.5,650.0 L705.0,637.5 L695.0,632.5Z" fill="#eeaa00"/>
</g>
</g>
<path d="M709.0,646.2 L719.5,643.8 L721.2,657.5 L715.0,666.2 L710.0,662.5Z" fill="#1874cd"/>
<g filter="url(#p500_120_5)">
<path d="M705.0,602.5 L725.0,602.5 L727.5,615.0 L720.0,627.5 L710.0,622.5Z" fill="#eeaa00"/>
</g>
<path d="M746.4,247.7 L726.7,250.2 L716.8,252.7 L702.0,250.2 L687.2,245.3 L672.4,244.0 L662.5,250.2 L650.2,252.7 L642.8,249.0 L628.0,246.5 L620.6,255.1 L610.7,262.5 L600.9,269.9 L618.1,265.0 L632.9,267.5 L645.3,277.3 L650.2,287.2 L652.7,299.5 L647.7,309.4 L652.7,316.8 L642.8,326.7 L640.3,336.5 L642.8,341.5 L746.4,341.5Z" fill="#4b939f"/>
<path d="M674.9,311.9 L684.7,314.3 L689.7,326.7 L682.3,334.1 L674.9,326.7Z" fill="#1874cd"/>
<path d="M637.9,265.0 L652.7,268.7 L665.0,271.2 L669.9,277.3 L665.0,287.2 L667.5,299.5 L662.5,292.1 L656.4,283.5 L650.2,274.9 L640.3,271.2Z" fill="#b2d144"/>
<path d="M686.0,252.7 L694.6,255.1 L706.9,258.8 L721.7,258.8 L714.3,263.8 L702.0,265.0 L699.5,273.6 L694.6,267.5 L684.7,265.0 L677.3,269.9 L669.9,274.9 L672.4,267.5 L684.7,260.1Z" fill="#b2d144"/>
<path d="M742.7,272.4 L736.5,284.7 L729.1,292.1 L716.8,294.6 L706.9,299.5 L692.1,302.0 L677.3,304.5 L669.9,311.9 L662.5,316.8 L672.4,313.1 L677.3,320.5 L684.7,311.9 L694.6,314.3 L697.1,321.7 L694.6,334.1 L702.0,326.7 L709.4,321.7 L716.8,326.7 L716.8,336.5 L724.2,321.7 L726.7,309.4 L724.2,299.5 L731.6,294.6 L739.0,284.7 L743.4,277.3Z" fill="#b2d144"/>
<path d="M640.3,343.9 L662.5,342.7 L672.4,356.3 L677.3,368.6 L669.9,378.5 L657.6,376.0 L652.7,366.1 L647.7,353.8Z" fill="#4b939f"/>
<g filter="url(#p420_100_9)">
<path d="M652.7,346.4 L662.5,346.4 L669.9,358.7 L674.9,366.1 L667.5,371.1 L660.1,366.1 L656.4,356.3Z" fill="#b2d144" stroke="#b2d144" stroke-width="3.0" stroke-linejoin="round" stroke-linecap="round"/>
<path d="M652.7,346.4 L662.5,346.4 L669.9,358.7 L674.9,366.1 L667.5,371.1 L660.1,366.1 L656.4,356.3Z" fill="#e5f017"/>
</g>
<g filter="url(#p420_100_9)">
<g filter="url(#p580_200_11)">
<path d="M652.7,346.4 L662.5,346.4 L669.9,358.7 L674.9,366.1 L667.5,371.1 L660.1,366.1 L656.4,356.3Z" fill="#eeaa00"/>
</g>
</g>
<path d="M647.7,385.9 L657.6,380.9 L669.9,385.9 L669.9,395.7 L657.6,403.1 L647.7,398.2Z" fill="#4b939f"/>
<path d="M654.6,382.9 L663.0,382.9 L664.3,391.3 L657.6,392.5Z" fill="#b2d144"/>
<g filter="url(#p500_120_5)">
<path d="M657.1,384.6 L661.3,384.6 L661.8,389.6 L658.1,390.1Z" fill="#eeaa00"/>
</g>
<path d="M684.7,342.7 L746.4,342.7 L746.4,445.1 L734.1,437.7 L726.7,425.3 L724.2,415.5 L729.1,408.1 L716.8,398.2 L702.0,395.7 L689.7,405.6 L694.6,393.3 L689.7,376.0 L694.6,361.2 L689.7,351.3Z" fill="#4b939f"/>
<path d="M736.5,346.4 L743.4,346.4 L743.4,366.1 L736.5,363.7Z" fill="#1874cd"/>
<path d="M709.4,366.1 L716.8,371.1 L716.8,385.9 L706.9,380.9Z" fill="#1874cd"/>
<path d="M734.1,398.2 L743.4,395.7 L743.4,408.1 L736.5,406.8Z" fill="#1874cd"/>
<path d="M697.1,343.9 L706.9,343.9 L709.4,353.8 L704.5,356.3 L699.5,348.9Z" fill="#b2d144"/>
<path d="M731.6,371.1 L745.2,368.6 L745.2,388.3 L734.1,385.9 L726.7,380.9Z" fill="#b2d144"/>
<path d="M724.2,415.5 L736.5,408.1 L745.2,410.5 L745.2,437.7 L736.5,432.7 L729.1,425.3 L721.7,420.4Z" fill="#b2d144"/>
<g filter="url(#p300_100_9)">
<path d="M399.5,627.5 L407.5,626.5 L415.0,627.5 L423.0,629.0 L421.8,632.5 L412.5,632.0 L402.0,631.5Z" fill="#e5f017"/>
</g>
<g filter="url(#p300_100_9)">
<g filter="url(#p580_200_11)">
<path d="M399.5,627.5 L407.5,626.5 L415.0,627.5 L423.0,629.0 L421.8,632.5 L412.5,632.0 L402.0,631.5Z" fill="#eeaa00"/>
</g>
</g>
<g filter="url(#p200_100_9)">
<path d="M418.2,649.5 L422.5,649.0 L423.5,653.5 L419.0,654.5Z" fill="#b2d144"/>
</g>
<path d="M747.7,236.4 L891.6,236.4 L904.9,315.5 L747.7,315.5Z" fill="#4b939f"/>
<path d="M747.7,236.4 L792.5,236.4 L790.6,244.1 L798.2,253.6 L786.8,257.4 L779.1,260.3 L767.7,256.4 L758.2,253.6 L752.5,247.9 L748.6,253.6Z" fill="#1874cd"/>
<path d="M821.1,236.4 L874.4,236.4 L874.4,244.1 L866.8,247.9 L855.4,246.0 L843.9,249.8 L836.3,251.7 L828.7,244.1Z" fill="#1874cd"/>
<path d="M798.2,315.5 L805.8,306.9 L809.6,301.2 L817.2,303.1 L811.5,287.9 L813.4,282.2 L815.3,289.8 L823.0,289.8 L834.4,295.5 L826.8,301.2 L832.5,308.8 L849.6,312.7 L855.4,308.8 L849.6,299.3 L849.6,293.6 L855.4,291.7 L851.5,280.3 L857.3,276.5 L866.8,282.2 L872.5,291.7 L880.1,280.3 L889.7,276.5 L893.5,270.7 L883.9,265.0 L885.9,258.3 L893.5,261.2 L898.2,268.8 L904.9,315.5Z" fill="#b2d144"/>
<path d="M747.7,315.5 L904.9,315.5 L906.8,394.6 L747.7,394.6Z" fill="#b2d144"/>
<path d="M747.7,315.5 L782.9,315.5 L779.1,324.1 L775.3,331.7 L763.9,335.5 L754.4,339.3 L747.7,347.0Z" fill="#4b939f"/>
<path d="M750.5,324.1 L756.3,323.1 L757.2,328.9 L751.5,329.8Z" fill="#b2d144"/>
<path d="M747.7,354.6 L756.3,354.6 L762.0,364.1 L760.1,375.5 L752.5,379.4 L747.7,377.5Z" fill="#4b939f" stroke="#4b939f" stroke-width="6.0" stroke-linejoin="round" stroke-linecap="round"/>
<path d="M747.7,354.6 L756.3,354.6 L762.0,364.1 L760.1,375.5 L752.5,379.4 L747.7,377.5Z" fill="#1874cd"/>
<g filter="url(#p370_70_3)">
<path d="M769.6,394.6 L775.3,377.5 L781.0,362.2 L790.6,354.6 L802.0,347.0 L813.4,339.3 L821.1,335.5 L824.9,324.1 L828.7,331.7 L826.8,343.2 L836.3,347.0 L847.7,339.3 L855.4,333.6 L866.8,327.9 L876.3,320.3 L880.1,331.7 L876.3,343.2 L878.2,354.6 L883.9,362.2 L893.5,369.8 L906.8,377.5 L906.8,394.6Z" fill="#eeaa00"/>
</g>
<path d="M777.2,362.2 L790.6,361.3 L805.8,356.5 L819.2,354.6 L828.7,358.4 L840.1,361.3 L855.4,356.5 L866.8,354.6 L874.4,358.4 L880.1,364.1 L889.7,371.7 L903.0,383.2 L904.9,394.6 L885.9,387.0 L870.6,377.5 L855.4,383.2 L847.7,390.8 L834.4,383.2 L824.9,388.9 L809.6,383.2 L798.2,390.8 L786.8,379.4 L781.0,373.6 L775.3,366.0Z" fill="#e5f017"/>
<path d="M876.3,327.9 L897.3,324.1 L903.0,339.3 L903.0,358.4 L893.5,362.2 L883.9,356.5 L878.2,347.0Z" fill="#b2d144"/>
<path d="M1392.9,343.1 L1398.3,343.1 L1399.4,364.9 L1395.1,382.4 L1391.8,369.3Z" fill="#b2d144"/>
<path d="M1352.4,362.8 L1361.2,351.8 L1374.3,345.3 L1387.4,347.5 L1389.6,362.8 L1387.4,378.1 L1380.9,386.8 L1369.9,391.2 L1359.0,386.8 L1352.4,375.9Z" fill="#4b939f" stroke="#4b939f" stroke-width="10.0" stroke-linejoin="round" stroke-linecap="round"/>
<path d="M1352.4,362.8 L1361.2,351.8 L1374.3,345.3 L1387.4,347.5 L1389.6,362.8 L1387.4,378.1 L1380.9,386.8 L1369.9,391.2 L1359.0,386.8 L1352.4,375.9Z" fill="#1874cd"/>
<path d="M1339.3,371.5 L1348.1,369.3 L1352.4,378.1 L1348.1,384.6 L1340.4,381.3Z" fill="#4b939f" stroke="#4b939f" stroke-width="6.0" stroke-linejoin="round" stroke-linecap="round"/>
<path d="M1339.3,371.5 L1348.1,369.3 L1352.4,378.1 L1348.1,384.6 L1340.4,381.3Z" fill="#1874cd"/>
<path d="M1258.4,417.4 L1273.7,408.7 L1286.8,399.9 L1302.1,395.5 L1317.5,399.9 L1326.2,410.9 L1334.9,395.5 L1348.1,393.4 L1361.2,399.9 L1372.1,408.7 L1369.9,419.6 L1372.1,426.2 L1361.2,434.9 L1352.4,437.1 L1334.9,432.7 L1317.5,434.9 L1302.1,430.5 L1286.8,434.9 L1271.5,432.7 L1258.4,426.2Z" fill="#4b939f"/>
<path d="M1352.4,402.1 L1365.5,399.9 L1372.1,410.9 L1369.9,421.8 L1361.2,424.0 L1354.6,415.2Z" fill="#1874cd"/>
<path d="M1273.7,410.9 L1284.7,408.7 L1286.8,415.2 L1275.9,416.3Z" fill="#1874cd"/>
<path d="M1316.4,402.1 L1324.0,399.9 L1327.3,413.0 L1321.8,419.6 L1317.5,413.0Z" fill="#b2d144"/>
<g filter="url(#p435_70_3)">
<path d="M1273.7,387.9 L1286.8,386.8 L1302.1,391.2 L1295.6,395.5 L1282.5,397.7 L1274.8,395.5Z" fill="#eeaa00"/>
</g>
<g filter="url(#p435_70_3)">
<path d="M1315.3,393.4 L1321.8,392.3 L1324.0,399.9 L1318.5,399.9Z" fill="#eeaa00"/>
</g>
<path d="M1380.9,389.0 L1387.4,386.8 L1389.6,399.9 L1387.4,413.0 L1383.0,426.2 L1376.5,439.3 L1369.9,445.8 L1363.4,448.0 L1372.1,432.7 L1378.7,417.4 L1380.9,402.1Z" fill="#b2d144" stroke="#b2d144" stroke-width="4.0" stroke-linejoin="round" stroke-linecap="round"/>
<path d="M1380.9,389.0 L1387.4,386.8 L1389.6,399.9 L1387.4,413.0 L1383.0,426.2 L1376.5,439.3 L1369.9,445.8 L1363.4,448.0 L1372.1,432.7 L1378.7,417.4 L1380.9,402.1Z" fill="#e5f017"/>
<path d="M1426.8,402.1 L1446.4,399.9 L1448.6,413.0 L1446.4,426.2 L1437.7,434.9 L1426.8,437.1 L1418.0,441.5 L1404.9,445.8 L1391.8,448.0 L1391.8,426.2 L1404.9,421.8 L1418.0,413.0Z" fill="#e5f017"/>
<g filter="url(#p435_70_3)">
<path d="M1439.9,418.5 L1446.9,418.5 L1447.5,426.2 L1441.0,427.2Z" fill="#eeaa00"/>
</g>
<g filter="url(#p435_70_3)">
<path d="M1396.2,428.3 L1409.3,426.2 L1422.4,428.3 L1418.0,434.9 L1404.9,437.1 L1396.2,434.9Z" fill="#eeaa00"/>
</g>
<path d="M1395.1,402.1 L1407.1,401.0 L1408.2,413.0 L1402.7,417.4 L1396.2,413.0Z" fill="#4b939f"/>
<path d="M1392.9,417.4 L1404.9,413.0 L1415.8,408.7 L1424.6,404.3 L1422.4,413.0 L1411.5,421.8 L1392.9,426.2Z" fill="#b2d144"/>
<g filter="url(#p435_70_3)">
<path d="M1369.9,443.6 L1383.0,439.3 L1387.4,445.8 L1378.7,452.4Z" fill="#eeaa00"/>
</g>
<g filter="url(#p435_70_3)">
<path d="M1230.0,426.2 L1238.7,432.7 L1251.9,441.5 L1260.6,450.2 L1251.9,455.0 L1230.0,455.0Z" fill="#eeaa00"/>
</g>
<path d="M1100.0,528.3 L1114.8,518.4 L1132.1,508.5 L1149.3,496.2 L1164.1,503.6 L1181.4,508.5 L1193.7,506.1 L1198.7,518.4 L1203.6,533.2 L1208.5,540.6 L1198.7,548.0 L1183.9,555.4 L1161.7,557.9 L1144.4,552.9 L1129.6,545.5 L1114.8,543.1 L1100.0,533.2Z" fill="#4b939f"/>
<path d="M1156.7,508.5 L1174.0,511.0 L1188.8,513.5 L1193.7,528.3 L1181.4,538.1 L1169.1,543.1 L1164.1,533.2 L1159.2,520.9Z" fill="#b2d144"/>
<path d="M1241.8,419.7 L1361.5,419.7 L1366.4,439.5 L1378.7,461.7 L1378.7,481.4 L1366.4,493.7 L1356.5,498.7 L1344.2,508.5 L1331.9,498.7 L1322.0,498.7 L1312.1,508.5 L1302.3,523.3 L1287.5,538.1 L1272.7,548.0 L1257.9,562.8 L1243.1,572.7 L1228.3,582.5 L1213.5,594.9 L1198.7,604.7 L1181.4,614.6 L1161.7,620.0 L1151.8,612.1 L1164.1,594.9 L1178.9,580.1 L1193.7,565.3 L1203.6,552.9 L1208.5,540.6 L1203.6,533.2 L1198.7,515.9 L1206.1,503.6 L1218.4,493.7 L1230.7,483.9 L1241.8,481.4Z" fill="#4b939f"/>
<path d="M1129.6,597.3 L1141.9,572.7 L1159.2,562.8 L1174.0,565.3 L1161.7,582.5 L1146.9,599.8 L1134.5,604.7Z" fill="#4b939f"/>
<g filter="url(#p460_130_4)">
<path d="M1137.0,589.9 L1146.9,572.7 L1159.2,567.7 L1166.6,570.2 L1156.7,582.5 L1144.4,594.9Z" fill="#b2d144"/>
</g>
<path d="M1346.7,478.9 L1361.5,469.1 L1378.7,464.1 L1381.2,481.4 L1366.4,493.7 L1356.5,498.7 L1346.7,511.0 L1341.7,493.7Z" fill="#7fb272"/>
<path d="M1356.5,469.1 L1371.3,465.4 L1376.3,474.0 L1363.9,483.9 L1356.5,481.4Z" fill="#b2d144"/>
<path d="M1241.8,432.1 L1257.9,437.0 L1272.7,449.3 L1287.5,454.3 L1304.7,446.9 L1322.0,439.5 L1336.8,434.5 L1354.1,432.1 L1356.5,424.7 L1272.7,422.2 L1257.9,424.7 L1241.8,422.2Z" fill="#b2d144"/>
<g filter="url(#p400_110_5)">
<path d="M1245.5,429.6 L1257.9,437.0 L1272.7,449.3 L1287.5,454.3 L1304.7,446.9 L1322.0,439.5 L1336.8,434.5 L1354.1,432.1 L1359.0,441.9 L1365.2,461.7 L1361.5,471.5 L1346.7,476.5 L1336.8,474.0 L1322.0,476.5 L1307.2,482.6 L1297.3,491.3 L1287.5,503.6 L1277.6,515.9 L1267.7,528.3 L1257.9,540.6 L1248.0,550.5 L1233.2,560.3 L1218.4,572.7 L1203.6,585.0 L1188.8,597.3 L1174.0,609.7 L1161.7,617.1 L1156.7,609.7 L1169.1,594.9 L1183.9,580.1 L1198.7,565.3 L1208.5,552.9 L1218.4,545.5 L1208.5,540.6 L1204.8,533.2 L1215.9,528.3 L1223.3,515.9 L1215.9,508.5 L1218.4,493.7 L1230.7,483.9 L1240.6,481.4 L1241.8,432.1Z" fill="#b2d144" stroke="#b2d144" stroke-width="4.0" stroke-linejoin="round" stroke-linecap="round"/>
<path d="M1245.5,429.6 L1257.9,437.0 L1272.7,449.3 L1287.5,454.3 L1304.7,446.9 L1322.0,439.5 L1336.8,434.5 L1354.1,432.1 L1359.0,441.9 L1365.2,461.7 L1361.5,471.5 L1346.7,476.5 L1336.8,474.0 L1322.0,476.5 L1307.2,482.6 L1297.3,491.3 L1287.5,503.6 L1277.6,515.9 L1267.7,528.3 L1257.9,540.6 L1248.0,550.5 L1233.2,560.3 L1218.4,572.7 L1203.6,585.0 L1188.8,597.3 L1174.0,609.7 L1161.7,617.1 L1156.7,609.7 L1169.1,594.9 L1183.9,580.1 L1198.7,565.3 L1208.5,552.9 L1218.4,545.5 L1208.5,540.6 L1204.8,533.2 L1215.9,528.3 L1223.3,515.9 L1215.9,508.5 L1218.4,493.7 L1230.7,483.9 L1240.6,481.4 L1241.8,432.1Z" fill="#e5f017"/>
</g>
<path d="M1198.7,511.0 L1208.5,506.1 L1215.9,513.5 L1218.4,528.3 L1211.0,534.4 L1202.4,528.3Z" fill="#4b939f"/>
<path d="M1257.9,499.9 L1267.7,498.7 L1262.8,508.5 L1252.9,518.4 L1245.5,523.3 L1248.0,513.5Z" fill="#4b939f" stroke="#4b939f" stroke-width="4.0" stroke-linejoin="round" stroke-linecap="round"/>
<path d="M1257.9,499.9 L1267.7,498.7 L1262.8,508.5 L1252.9,518.4 L1245.5,523.3 L1248.0,513.5Z" fill="#1874cd"/>
<path d="M1248.0,483.9 L1262.8,481.4 L1272.7,486.3 L1262.8,491.3 L1250.5,490.0Z" fill="#4b939f"/>
<g filter="url(#p435_70_3)">
<path d="M1272.7,456.7 L1287.5,459.2 L1304.7,453.0 L1322.0,444.4 L1336.8,441.9 L1331.9,449.3 L1317.1,456.7 L1302.3,464.1 L1287.5,466.6Z" fill="#eeaa00"/>
</g>
<g filter="url(#p435_70_3)">
<path d="M1252.9,449.3 L1262.8,451.8 L1267.7,464.1 L1257.9,466.6Z" fill="#eeaa00"/>
</g>
<g filter="url(#p435_70_3)">
<path d="M1238.1,543.1 L1248.0,538.1 L1260.3,528.3 L1270.2,515.9 L1275.1,518.4 L1265.3,533.2 L1252.9,545.5 L1240.6,552.9Z" fill="#eeaa00"/>
</g>
<g filter="url(#p435_70_3)">
<path d="M1218.4,557.9 L1228.3,552.9 L1238.1,548.0 L1233.2,557.9 L1223.3,565.3Z" fill="#eeaa00"/>
</g>
<g filter="url(#p435_70_3)">
<path d="M1188.8,587.5 L1201.1,577.6 L1208.5,572.7 L1203.6,582.5 L1193.7,592.4Z" fill="#eeaa00"/>
</g>
<g filter="url(#p435_70_3)">
<path d="M894.8,322.4 L912.1,327.4 L929.3,332.3 L946.6,329.8 L961.4,332.3 L973.7,329.8 L982.4,333.5 L983.6,348.3 L979.9,363.1 L984.8,374.2 L973.7,376.7 L954.0,377.9 L934.3,373.0 L919.5,375.5 L907.1,370.5 L894.8,373.0Z" fill="#eeaa00"/>
</g>
<path d="M910.8,337.2 L929.3,343.9 L944.1,355.7 L954.0,358.2 L954.0,343.4 L963.9,340.9 L961.4,359.4 L972.5,376.0 L954.0,377.2 L934.3,372.3 L919.5,374.7 L909.1,369.8Z" fill="#e5f017"/>
<g filter="url(#p435_70_3)">
<path d="M904.7,382.9 L929.3,387.8 L944.1,390.3 L961.4,395.2 L978.7,392.7 L986.1,402.6 L1008.3,412.5 L1023.1,422.3 L1003.3,422.3 L983.6,412.5 L961.4,407.5 L944.1,417.4 L929.3,422.3 L917.0,412.5 L907.1,402.6Z" fill="#eeaa00"/>
</g>
<g filter="url(#p435_70_3)">
<path d="M1018.1,382.9 L1037.9,385.3 L1057.6,382.9 L1072.4,392.7 L1086.0,395.2 L1086.0,402.6 L1067.5,402.6 L1052.7,395.2 L1037.9,397.7 L1023.1,395.2Z" fill="#eeaa00"/>
</g>
<g filter="url(#p435_70_3)">
<path d="M1037.9,364.4 L1044.0,364.4 L1044.0,370.5 L1037.9,370.5Z" fill="#eeaa00"/>
</g>
<g filter="url(#p435_70_3)">
<path d="M1069.9,363.1 L1077.3,365.6 L1074.9,371.8 L1068.7,369.3Z" fill="#eeaa00"/>
</g>
<g filter="url(#p435_70_3)">
<path d="M1050.2,377.9 L1060.1,379.2 L1057.6,385.3 L1050.2,384.1Z" fill="#eeaa00"/>
</g>
<g filter="url(#p435_70_3)">
<path d="M1037.9,412.5 L1057.6,417.4 L1077.3,412.5 L1087.2,422.3 L1072.4,429.7 L1052.7,427.3 L1040.3,422.3Z" fill="#eeaa00"/>
</g>
<g filter="url(#p435_70_3)">
<path d="M1124.2,392.7 L1139.0,395.2 L1151.3,390.3 L1163.7,382.9 L1176.0,392.7 L1190.8,397.7 L1199.4,402.6 L1195.7,412.5 L1185.9,419.9 L1171.1,417.4 L1156.3,419.9 L1141.5,414.9 L1126.7,412.5 L1120.5,402.6Z" fill="#eeaa00"/>
</g>
<path d="M1171.1,397.7 L1180.9,395.2 L1183.4,402.6 L1174.8,405.1Z" fill="#b2d144"/>
<g filter="url(#p435_70_3)">
<path d="M1097.1,429.7 L1116.8,433.4 L1136.5,435.9 L1151.3,432.2 L1166.1,434.7 L1183.4,432.2 L1183.4,439.6 L1151.3,443.3 L1126.7,445.0 L1097.1,442.1Z" fill="#eeaa00"/>
</g>
<path d="M745.5,389.9 L812.1,394.8 L807.1,412.1 L804.7,426.9 L794.8,436.7 L745.5,444.1Z" fill="#b2d144"/>
<g filter="url(#p500_80_3)">
<path d="M804.7,399.7 L829.3,397.3 L861.4,394.8 L883.6,404.7 L878.7,424.4 L854.0,429.3 L829.3,426.9 L812.1,434.3 L794.8,439.2 L745.5,451.5 L745.5,441.7 L794.8,429.3 L807.1,412.1Z" fill="#eeaa00"/>
</g>
<g filter="url(#p520_80_3)">
<path d="M792.3,451.5 L809.6,444.1 L829.3,441.7 L844.1,449.1 L829.3,458.9 L809.6,461.4 L794.8,463.9Z" fill="#eeaa00"/>
</g>
<g filter="url(#p435_70_3)">
<path d="M905.8,384.9 L1016.8,384.9 L1026.7,404.7 L1036.5,417.0 L1026.7,429.3 L1002.0,426.9 L977.3,417.0 L957.6,412.1 L940.3,421.9 L925.5,429.3 L913.2,417.0 L908.3,399.7Z" fill="#eeaa00"/>
</g>
<path d="M928.0,394.8 L952.7,389.9 L967.5,397.3 L952.7,404.7 L932.9,407.1Z" fill="#e5f017"/>
<g filter="url(#p435_70_3)">
<path d="M1031.6,387.4 L1085.9,387.4 L1085.9,402.2 L1063.7,399.7 L1041.5,397.3Z" fill="#eeaa00"/>
</g>
<g filter="url(#p435_70_3)">
<path d="M1098.2,434.3 L1130.0,429.3 L1130.0,451.5 L1108.1,449.1Z" fill="#eeaa00"/>
</g>
<path d="M961.3,429.3 L969.9,428.1 L971.2,436.7 L963.8,439.2Z" fill="#7fb272"/>
<path d="M984.7,436.7 L994.6,438.0 L997.1,449.1 L987.2,450.3Z" fill="#7fb272"/>
<path d="M1180.0,455.0 L1240.0,455.0 L1238.8,467.5 L1230.0,485.0 L1215.0,497.5 L1202.5,507.5 L1195.0,510.0 L1185.0,505.0 L1180.0,495.0 L1175.0,480.0Z" fill="#b2d144" stroke="#b2d144" stroke-width="4.0" stroke-linejoin="round" stroke-linecap="round"/>
<path d="M1180.0,455.0 L1240.0,455.0 L1238.8,467.5 L1230.0,485.0 L1215.0,497.5 L1202.5,507.5 L1195.0,510.0 L1185.0,505.0 L1180.0,495.0 L1175.0,480.0Z" fill="#e5f017"/>
<g filter="url(#p540_90_4)">
<path d="M1154.0,425.0 L1180.0,423.0 L1232.0,428.0 L1234.0,450.0 L1226.0,474.0 L1200.0,478.0 L1170.0,468.0 L1156.0,452.0Z" fill="#eeaa00"/>
</g>
<g filter="url(#p480_90_4)">
<path d="M1100.0,428.0 L1150.0,426.0 L1150.0,445.0 L1120.0,450.0 L1098.0,444.0Z" fill="#eeaa00"/>
</g>
<g filter="url(#p520_110_4)">
<path d="M1245.0,442.0 L1290.0,438.0 L1330.0,442.0 L1335.0,462.0 L1300.0,468.0 L1260.0,464.0Z" fill="#eeaa00"/>
</g>
<g filter="url(#p520_130_6)">
<path d="M1257.9,441.9 L1272.7,453.0 L1287.5,458.0 L1304.7,450.6 L1322.0,443.2 L1336.8,438.2 L1351.6,437.0 L1354.1,446.9 L1341.7,459.2 L1322.0,464.1 L1307.2,471.5 L1294.9,478.9 L1282.5,474.0 L1267.7,461.7 L1257.9,456.7Z" fill="#eeaa00"/>
</g>
<g filter="url(#p520_130_6)">
<path d="M1238.1,548.0 L1252.9,538.1 L1267.7,523.3 L1280.1,508.5 L1289.9,498.7 L1297.3,493.7 L1294.9,506.1 L1285.0,518.4 L1272.7,533.2 L1257.9,548.0 L1245.5,557.9 L1233.2,567.7 L1223.3,572.7 L1228.3,560.3Z" fill="#eeaa00"/>
</g>
<g filter="url(#p520_130_6)">
<path d="M1174.0,604.7 L1188.8,589.9 L1203.6,577.6 L1215.9,567.7 L1223.3,572.7 L1211.0,582.5 L1196.2,594.9 L1181.4,609.7 L1169.1,614.6Z" fill="#eeaa00"/>
</g>
<g filter="url(#p440_90_8)">
<path d="M1143.9,328.6 L1153.8,323.7 L1163.7,328.6 L1176.0,333.5 L1183.4,338.5 L1180.9,348.3 L1171.1,345.9 L1163.7,350.8 L1153.8,348.3 L1143.9,353.3 L1141.5,343.4Z" fill="#1874cd"/>
</g>
<g filter="url(#p440_90_8)">
<path d="M1147.6,320.0 L1156.3,318.2 L1160.0,323.7 L1151.3,326.1Z" fill="#1874cd"/>
</g>
<path d="M747.7,236.4 L891.6,236.4 L904.9,315.5 L747.7,315.5Z" fill="#4b939f"/>
<path d="M747.7,236.4 L792.5,236.4 L790.6,244.1 L798.2,253.6 L786.8,257.4 L779.1,260.3 L767.7,256.4 L758.2,253.6 L752.5,247.9 L748.6,253.6Z" fill="#1874cd"/>
<path d="M821.1,236.4 L874.4,236.4 L874.4,244.1 L866.8,247.9 L855.4,246.0 L843.9,249.8 L836.3,251.7 L828.7,244.1Z" fill="#1874cd"/>
<path d="M798.2,315.5 L805.8,306.9 L809.6,301.2 L817.2,303.1 L811.5,287.9 L813.4,282.2 L815.3,289.8 L823.0,289.8 L834.4,295.5 L826.8,301.2 L832.5,308.8 L849.6,312.7 L855.4,308.8 L849.6,299.3 L849.6,293.6 L855.4,291.7 L851.5,280.3 L857.3,276.5 L866.8,282.2 L872.5,291.7 L880.1,280.3 L889.7,276.5 L893.5,270.7 L883.9,265.0 L885.9,258.3 L893.5,261.2 L898.2,268.8 L904.9,315.5Z" fill="#b2d144"/>
<path d="M747.7,315.5 L904.9,315.5 L906.8,394.6 L747.7,394.6Z" fill="#b2d144"/>
<path d="M747.7,315.5 L782.9,315.5 L779.1,324.1 L775.3,331.7 L763.9,335.5 L754.4,339.3 L747.7,347.0Z" fill="#4b939f"/>
<path d="M750.5,324.1 L756.3,323.1 L757.2,328.9 L751.5,329.8Z" fill="#b2d144"/>
<path d="M747.7,354.6 L756.3,354.6 L762.0,364.1 L760.1,375.5 L752.5,379.4 L747.7,377.5Z" fill="#4b939f" stroke="#4b939f" stroke-width="6.0" stroke-linejoin="round" stroke-linecap="round"/>
<path d="M747.7,354.6 L756.3,354.6 L762.0,364.1 L760.1,375.5 L752.5,379.4 L747.7,377.5Z" fill="#1874cd"/>
<g filter="url(#p370_70_3)">
<path d="M769.6,394.6 L775.3,377.5 L781.0,362.2 L790.6,354.6 L802.0,347.0 L813.4,339.3 L821.1,335.5 L824.9,324.1 L828.7,331.7 L826.8,343.2 L836.3,347.0 L847.7,339.3 L855.4,333.6 L866.8,327.9 L876.3,320.3 L880.1,331.7 L876.3,343.2 L878.2,354.6 L883.9,362.2 L893.5,369.8 L906.8,377.5 L906.8,394.6Z" fill="#eeaa00"/>
</g>
<path d="M777.2,362.2 L790.6,361.3 L805.8,356.5 L819.2,354.6 L828.7,358.4 L840.1,361.3 L855.4,356.5 L866.8,354.6 L874.4,358.4 L880.1,364.1 L889.7,371.7 L903.0,383.2 L904.9,394.6 L885.9,387.0 L870.6,377.5 L855.4,383.2 L847.7,390.8 L834.4,383.2 L824.9,388.9 L809.6,383.2 L798.2,390.8 L786.8,379.4 L781.0,373.6 L775.3,366.0Z" fill="#e5f017"/>
<path d="M876.3,327.9 L897.3,324.1 L903.0,339.3 L903.0,358.4 L893.5,362.2 L883.9,356.5 L878.2,347.0Z" fill="#b2d144"/>
<path d="M1392.9,343.1 L1398.3,343.1 L1399.4,364.9 L1395.1,382.4 L1391.8,369.3Z" fill="#b2d144"/>
<path d="M1352.4,362.8 L1361.2,351.8 L1374.3,345.3 L1387.4,347.5 L1389.6,362.8 L1387.4,378.1 L1380.9,386.8 L1369.9,391.2 L1359.0,386.8 L1352.4,375.9Z" fill="#4b939f" stroke="#4b939f" stroke-width="10.0" stroke-linejoin="round" stroke-linecap="round"/>
<path d="M1352.4,362.8 L1361.2,351.8 L1374.3,345.3 L1387.4,347.5 L1389.6,362.8 L1387.4,378.1 L1380.9,386.8 L1369.9,391.2 L1359.0,386.8 L1352.4,375.9Z" fill="#1874cd"/>
<path d="M1339.3,371.5 L1348.1,369.3 L1352.4,378.1 L1348.1,384.6 L1340.4,381.3Z" fill="#4b939f" stroke="#4b939f" stroke-width="6.0" stroke-linejoin="round" stroke-linecap="round"/>
<path d="M1339.3,371.5 L1348.1,369.3 L1352.4,378.1 L1348.1,384.6 L1340.4,381.3Z" fill="#1874cd"/>
<path d="M1258.4,417.4 L1273.7,408.7 L1286.8,399.9 L1302.1,395.5 L1317.5,399.9 L1326.2,410.9 L1334.9,395.5 L1348.1,393.4 L1361.2,399.9 L1372.1,408.7 L1369.9,419.6 L1372.1,426.2 L1361.2,434.9 L1352.4,437.1 L1334.9,432.7 L1317.5,434.9 L1302.1,430.5 L1286.8,434.9 L1271.5,432.7 L1258.4,426.2Z" fill="#4b939f"/>
<path d="M1352.4,402.1 L1365.5,399.9 L1372.1,410.9 L1369.9,421.8 L1361.2,424.0 L1354.6,415.2Z" fill="#1874cd"/>
<path d="M1273.7,410.9 L1284.7,408.7 L1286.8,415.2 L1275.9,416.3Z" fill="#1874cd"/>
<path d="M1316.4,402.1 L1324.0,399.9 L1327.3,413.0 L1321.8,419.6 L1317.5,413.0Z" fill="#b2d144"/>
<g filter="url(#p435_70_3)">
<path d="M1273.7,387.9 L1286.8,386.8 L1302.1,391.2 L1295.6,395.5 L1282.5,397.7 L1274.8,395.5Z" fill="#eeaa00"/>
</g>
<g filter="url(#p435_70_3)">
<path d="M1315.3,393.4 L1321.8,392.3 L1324.0,399.9 L1318.5,399.9Z" fill="#eeaa00"/>
</g>
<path d="M1380.9,389.0 L1387.4,386.8 L1389.6,399.9 L1387.4,413.0 L1383.0,426.2 L1376.5,439.3 L1369.9,445.8 L1363.4,448.0 L1372.1,432.7 L1378.7,417.4 L1380.9,402.1Z" fill="#b2d144" stroke="#b2d144" stroke-width="4.0" stroke-linejoin="round" stroke-linecap="round"/>
<path d="M1380.9,389.0 L1387.4,386.8 L1389.6,399.9 L1387.4,413.0 L1383.0,426.2 L1376.5,439.3 L1369.9,445.8 L1363.4,448.0 L1372.1,432.7 L1378.7,417.4 L1380.9,402.1Z" fill="#e5f017"/>
<path d="M1426.8,402.1 L1446.4,399.9 L1448.6,413.0 L1446.4,426.2 L1437.7,434.9 L1426.8,437.1 L1418.0,441.5 L1404.9,445.8 L1391.8,448.0 L1391.8,426.2 L1404.9,421.8 L1418.0,413.0Z" fill="#e5f017"/>
<g filter="url(#p435_70_3)">
<path d="M1439.9,418.5 L1446.9,418.5 L1447.5,426.2 L1441.0,427.2Z" fill="#eeaa00"/>
</g>
<g filter="url(#p435_70_3)">
<path d="M1396.2,428.3 L1409.3,426.2 L1422.4,428.3 L1418.0,434.9 L1404.9,437.1 L1396.2,434.9Z" fill="#eeaa00"/>
</g>
<path d="M1395.1,402.1 L1407.1,401.0 L1408.2,413.0 L1402.7,417.4 L1396.2,413.0Z" fill="#4b939f"/>
<path d="M1392.9,417.4 L1404.9,413.0 L1415.8,408.7 L1424.6,404.3 L1422.4,413.0 L1411.5,421.8 L1392.9,426.2Z" fill="#b2d144"/>
<g filter="url(#p435_70_3)">
<path d="M1369.9,443.6 L1383.0,439.3 L1387.4,445.8 L1378.7,452.4Z" fill="#eeaa00"/>
</g>
<g filter="url(#p435_70_3)">
<path d="M1230.0,426.2 L1238.7,432.7 L1251.9,441.5 L1260.6,450.2 L1251.9,455.0 L1230.0,455.0Z" fill="#eeaa00"/>
</g>
<path d="M1100.0,528.3 L1114.8,518.4 L1132.1,508.5 L1149.3,496.2 L1164.1,503.6 L1181.4,508.5 L1193.7,506.1 L1198.7,518.4 L1203.6,533.2 L1208.5,540.6 L1198.7,548.0 L1183.9,555.4 L1161.7,557.9 L1144.4,552.9 L1129.6,545.5 L1114.8,543.1 L1100.0,533.2Z" fill="#4b939f"/>
<path d="M1156.7,508.5 L1174.0,511.0 L1188.8,513.5 L1193.7,528.3 L1181.4,538.1 L1169.1,543.1 L1164.1,533.2 L1159.2,520.9Z" fill="#b2d144"/>
<path d="M1241.8,419.7 L1361.5,419.7 L1366.4,439.5 L1378.7,461.7 L1378.7,481.4 L1366.4,493.7 L1356.5,498.7 L1344.2,508.5 L1331.9,498.7 L1322.0,498.7 L1312.1,508.5 L1302.3,523.3 L1287.5,538.1 L1272.7,548.0 L1257.9,562.8 L1243.1,572.7 L1228.3,582.5 L1213.5,594.9 L1198.7,604.7 L1181.4,614.6 L1161.7,620.0 L1151.8,612.1 L1164.1,594.9 L1178.9,580.1 L1193.7,565.3 L1203.6,552.9 L1208.5,540.6 L1203.6,533.2 L1198.7,515.9 L1206.1,503.6 L1218.4,493.7 L1230.7,483.9 L1241.8,481.4Z" fill="#4b939f"/>
<path d="M1129.6,597.3 L1141.9,572.7 L1159.2,562.8 L1174.0,565.3 L1161.7,582.5 L1146.9,599.8 L1134.5,604.7Z" fill="#4b939f"/>
<g filter="url(#p460_130_4)">
<path d="M1137.0,589.9 L1146.9,572.7 L1159.2,567.7 L1166.6,570.2 L1156.7,582.5 L1144.4,594.9Z" fill="#b2d144"/>
</g>
<path d="M1346.7,478.9 L1361.5,469.1 L1378.7,464.1 L1381.2,481.4 L1366.4,493.7 L1356.5,498.7 L1346.7,511.0 L1341.7,493.7Z" fill="#7fb272"/>
<path d="M1356.5,469.1 L1371.3,465.4 L1376.3,474.0 L1363.9,483.9 L1356.5,481.4Z" fill="#b2d144"/>
<path d="M1241.8,432.1 L1257.9,437.0 L1272.7,449.3 L1287.5,454.3 L1304.7,446.9 L1322.0,439.5 L1336.8,434.5 L1354.1,432.1 L1356.5,424.7 L1272.7,422.2 L1257.9,424.7 L1241.8,422.2Z" fill="#b2d144"/>
<g filter="url(#p400_110_5)">
<path d="M1245.5,429.6 L1257.9,437.0 L1272.7,449.3 L1287.5,454.3 L1304.7,446.9 L1322.0,439.5 L1336.8,434.5 L1354.1,432.1 L1359.0,441.9 L1365.2,461.7 L1361.5,471.5 L1346.7,476.5 L1336.8,474.0 L1322.0,476.5 L1307.2,482.6 L1297.3,491.3 L1287.5,503.6 L1277.6,515.9 L1267.7,528.3 L1257.9,540.6 L1248.0,550.5 L1233.2,560.3 L1218.4,572.7 L1203.6,585.0 L1188.8,597.3 L1174.0,609.7 L1161.7,617.1 L1156.7,609.7 L1169.1,594.9 L1183.9,580.1 L1198.7,565.3 L1208.5,552.9 L1218.4,545.5 L1208.5,540.6 L1204.8,533.2 L1215.9,528.3 L1223.3,515.9 L1215.9,508.5 L1218.4,493.7 L1230.7,483.9 L1240.6,481.4 L1241.8,432.1Z" fill="#b2d144" stroke="#b2d144" stroke-width="4.0" stroke-linejoin="round" stroke-linecap="round"/>
<path d="M1245.5,429.6 L1257.9,437.0 L1272.7,449.3 L1287.5,454.3 L1304.7,446.9 L1322.0,439.5 L1336.8,434.5 L1354.1,432.1 L1359.0,441.9 L1365.2,461.7 L1361.5,471.5 L1346.7,476.5 L1336.8,474.0 L1322.0,476.5 L1307.2,482.6 L1297.3,491.3 L1287.5,503.6 L1277.6,515.9 L1267.7,528.3 L1257.9,540.6 L1248.0,550.5 L1233.2,560.3 L1218.4,572.7 L1203.6,585.0 L1188.8,597.3 L1174.0,609.7 L1161.7,617.1 L1156.7,609.7 L1169.1,594.9 L1183.9,580.1 L1198.7,565.3 L1208.5,552.9 L1218.4,545.5 L1208.5,540.6 L1204.8,533.2 L1215.9,528.3 L1223.3,515.9 L1215.9,508.5 L1218.4,493.7 L1230.7,483.9 L1240.6,481.4 L1241.8,432.1Z" fill="#e5f017"/>
</g>
<path d="M1198.7,511.0 L1208.5,506.1 L1215.9,513.5 L1218.4,528.3 L1211.0,534.4 L1202.4,528.3Z" fill="#4b939f"/>
<path d="M1257.9,499.9 L1267.7,498.7 L1262.8,508.5 L1252.9,518.4 L1245.5,523.3 L1248.0,513.5Z" fill="#4b939f" stroke="#4b939f" stroke-width="4.0" stroke-linejoin="round" stroke-linecap="round"/>
<path d="M1257.9,499.9 L1267.7,498.7 L1262.8,508.5 L1252.9,518.4 L1245.5,523.3 L1248.0,513.5Z" fill="#1874cd"/>
<path d="M1248.0,483.9 L1262.8,481.4 L1272.7,486.3 L1262.8,491.3 L1250.5,490.0Z" fill="#4b939f"/>
<g filter="url(#p435_70_3)">
<path d="M1272.7,456.7 L1287.5,459.2 L1304.7,453.0 L1322.0,444.4 L1336.8,441.9 L1331.9,449.3 L1317.1,456.7 L1302.3,464.1 L1287.5,466.6Z" fill="#eeaa00"/>
</g>
<g filter="url(#p435_70_3)">
<path d="M1252.9,449.3 L1262.8,451.8 L1267.7,464.1 L1257.9,466.6Z" fill="#eeaa00"/>
</g>
<g filter="url(#p435_70_3)">
<path d="M1238.1,543.1 L1248.0,538.1 L1260.3,528.3 L1270.2,515.9 L1275.1,518.4 L1265.3,533.2 L1252.9,545.5 L1240.6,552.9Z" fill="#eeaa00"/>
</g>
<g filter="url(#p435_70_3)">
<path d="M1218.4,557.9 L1228.3,552.9 L1238.1,548.0 L1233.2,557.9 L1223.3,565.3Z" fill="#eeaa00"/>
</g>
<g filter="url(#p435_70_3)">
<path d="M1188.8,587.5 L1201.1,577.6 L1208.5,572.7 L1203.6,582.5 L1193.7,592.4Z" fill="#eeaa00"/>
</g>
<g filter="url(#p435_70_3)">
<path d="M894.8,322.4 L912.1,327.4 L929.3,332.3 L946.6,329.8 L961.4,332.3 L973.7,329.8 L982.4,333.5 L983.6,348.3 L979.9,363.1 L984.8,374.2 L973.7,376.7 L954.0,377.9 L934.3,373.0 L919.5,375.5 L907.1,370.5 L894.8,373.0Z" fill="#eeaa00"/>
</g>
<path d="M910.8,337.2 L929.3,343.9 L944.1,355.7 L954.0,358.2 L954.0,343.4 L963.9,340.9 L961.4,359.4 L972.5,376.0 L954.0,377.2 L934.3,372.3 L919.5,374.7 L909.1,369.8Z" fill="#e5f017"/>
<g filter="url(#p435_70_3)">
<path d="M904.7,382.9 L929.3,387.8 L944.1,390.3 L961.4,395.2 L978.7,392.7 L986.1,402.6 L1008.3,412.5 L1023.1,422.3 L1003.3,422.3 L983.6,412.5 L961.4,407.5 L944.1,417.4 L929.3,422.3 L917.0,412.5 L907.1,402.6Z" fill="#eeaa00"/>
</g>
<g filter="url(#p435_70_3)">
<path d="M1018.1,382.9 L1037.9,385.3 L1057.6,382.9 L1072.4,392.7 L1086.0,395.2 L1086.0,402.6 L1067.5,402.6 L1052.7,395.2 L1037.9,397.7 L1023.1,395.2Z" fill="#eeaa00"/>
</g>
<g filter="url(#p435_70_3)">
<path d="M1037.9,364.4 L1044.0,364.4 L1044.0,370.5 L1037.9,370.5Z" fill="#eeaa00"/>
</g>
<g filter="url(#p435_70_3)">
<path d="M1069.9,363.1 L1077.3,365.6 L1074.9,371.8 L1068.7,369.3Z" fill="#eeaa00"/>
</g>
<g filter="url(#p435_70_3)">
<path d="M1050.2,377.9 L1060.1,379.2 L1057.6,385.3 L1050.2,384.1Z" fill="#eeaa00"/>
</g>
<g filter="url(#p435_70_3)">
<path d="M1037.9,412.5 L1057.6,417.4 L1077.3,412.5 L1087.2,422.3 L1072.4,429.7 L1052.7,427.3 L1040.3,422.3Z" fill="#eeaa00"/>
</g>
<g filter="url(#p435_70_3)">
<path d="M1124.2,392.7 L1139.0,395.2 L1151.3,390.3 L1163.7,382.9 L1176.0,392.7 L1190.8,397.7 L1199.4,402.6 L1195.7,412.5 L1185.9,419.9 L1171.1,417.4 L1156.3,419.9 L1141.5,414.9 L1126.7,412.5 L1120.5,402.6Z" fill="#eeaa00"/>
</g>
<path d="M1171.1,397.7 L1180.9,395.2 L1183.4,402.6 L1174.8,405.1Z" fill="#b2d144"/>
<g filter="url(#p435_70_3)">
<path d="M1097.1,429.7 L1116.8,433.4 L1136.5,435.9 L1151.3,432.2 L1166.1,434.7 L1183.4,432.2 L1183.4,439.6 L1151.3,443.3 L1126.7,445.0 L1097.1,442.1Z" fill="#eeaa00"/>
</g>
<path d="M745.5,389.9 L812.1,394.8 L807.1,412.1 L804.7,426.9 L794.8,436.7 L745.5,444.1Z" fill="#b2d144"/>
<g filter="url(#p500_80_3)">
<path d="M804.7,399.7 L829.3,397.3 L861.4,394.8 L883.6,404.7 L878.7,424.4 L854.0,429.3 L829.3,426.9 L812.1,434.3 L794.8,439.2 L745.5,451.5 L745.5,441.7 L794.8,429.3 L807.1,412.1Z" fill="#eeaa00"/>
</g>
<g filter="url(#p520_80_3)">
<path d="M792.3,451.5 L809.6,444.1 L829.3,441.7 L844.1,449.1 L829.3,458.9 L809.6,461.4 L794.8,463.9Z" fill="#eeaa00"/>
</g>
<g filter="url(#p435_70_3)">
<path d="M905.8,384.9 L1016.8,384.9 L1026.7,404.7 L1036.5,417.0 L1026.7,429.3 L1002.0,426.9 L977.3,417.0 L957.6,412.1 L940.3,421.9 L925.5,429.3 L913.2,417.0 L908.3,399.7Z" fill="#eeaa00"/>
</g>
<path d="M928.0,394.8 L952.7,389.9 L967.5,397.3 L952.7,404.7 L932.9,407.1Z" fill="#e5f017"/>
<g filter="url(#p435_70_3)">
<path d="M1031.6,387.4 L1085.9,387.4 L1085.9,402.2 L1063.7,399.7 L1041.5,397.3Z" fill="#eeaa00"/>
</g>
<g filter="url(#p435_70_3)">
<path d="M1098.2,434.3 L1130.0,429.3 L1130.0,451.5 L1108.1,449.1Z" fill="#eeaa00"/>
</g>
<path d="M961.3,429.3 L969.9,428.1 L971.2,436.7 L963.8,439.2Z" fill="#7fb272"/>
<path d="M984.7,436.7 L994.6,438.0 L997.1,449.1 L987.2,450.3Z" fill="#7fb272"/>
<path d="M1180.0,455.0 L1240.0,455.0 L1238.8,467.5 L1230.0,485.0 L1215.0,497.5 L1202.5,507.5 L1195.0,510.0 L1185.0,505.0 L1180.0,495.0 L1175.0,480.0Z" fill="#b2d144" stroke="#b2d144" stroke-width="4.0" stroke-linejoin="round" stroke-linecap="round"/>
<path d="M1180.0,455.0 L1240.0,455.0 L1238.8,467.5 L1230.0,485.0 L1215.0,497.5 L1202.5,507.5 L1195.0,510.0 L1185.0,505.0 L1180.0,495.0 L1175.0,480.0Z" fill="#e5f017"/>
<g filter="url(#p540_90_4)">
<path d="M1154.0,425.0 L1180.0,423.0 L1232.0,428.0 L1234.0,450.0 L1226.0,474.0 L1200.0,478.0 L1170.0,468.0 L1156.0,452.0Z" fill="#eeaa00"/>
</g>
<g filter="url(#p480_90_4)">
<path d="M1100.0,428.0 L1150.0,426.0 L1150.0,445.0 L1120.0,450.0 L1098.0,444.0Z" fill="#eeaa00"/>
</g>
<g filter="url(#p520_110_4)">
<path d="M1245.0,442.0 L1290.0,438.0 L1330.0,442.0 L1335.0,462.0 L1300.0,468.0 L1260.0,464.0Z" fill="#eeaa00"/>
</g>
<g filter="url(#p520_130_6)">
<path d="M1257.9,441.9 L1272.7,453.0 L1287.5,458.0 L1304.7,450.6 L1322.0,443.2 L1336.8,438.2 L1351.6,437.0 L1354.1,446.9 L1341.7,459.2 L1322.0,464.1 L1307.2,471.5 L1294.9,478.9 L1282.5,474.0 L1267.7,461.7 L1257.9,456.7Z" fill="#eeaa00"/>
</g>
<g filter="url(#p520_130_6)">
<path d="M1238.1,548.0 L1252.9,538.1 L1267.7,523.3 L1280.1,508.5 L1289.9,498.7 L1297.3,493.7 L1294.9,506.1 L1285.0,518.4 L1272.7,533.2 L1257.9,548.0 L1245.5,557.9 L1233.2,567.7 L1223.3,572.7 L1228.3,560.3Z" fill="#eeaa00"/>
</g>
<g filter="url(#p520_130_6)">
<path d="M1174.0,604.7 L1188.8,589.9 L1203.6,577.6 L1215.9,567.7 L1223.3,572.7 L1211.0,582.5 L1196.2,594.9 L1181.4,609.7 L1169.1,614.6Z" fill="#eeaa00"/>
</g>
<g filter="url(#p440_90_8)">
<path d="M1143.9,328.6 L1153.8,323.7 L1163.7,328.6 L1176.0,333.5 L1183.4,338.5 L1180.9,348.3 L1171.1,345.9 L1163.7,350.8 L1153.8,348.3 L1143.9,353.3 L1141.5,343.4Z" fill="#1874cd"/>
</g>
<g filter="url(#p440_90_8)">
<path d="M1147.6,320.0 L1156.3,318.2 L1160.0,323.7 L1151.3,326.1Z" fill="#1874cd"/>
</g>
</g></g>
<g fill="none" stroke="#000" stroke-width="3.8" stroke-linejoin="round" stroke-linecap="round">
<path d="M352.0,235.5 L932.5,235.5 L932.5,226.0 L941.0,226.0 L942.5,235.0 L945.0,240.0 L955.0,243.8 L965.0,247.5 L972.5,245.5 L982.5,245.0 L990.0,251.2 L995.0,253.8 L1002.5,252.5 L1010.0,258.8 L1017.5,257.5 L1023.8,255.0 L1031.2,257.5 L1040.0,258.8 L1053.8,261.2 L1042.5,266.2 L1030.0,272.5 L1020.0,280.0 L1010.0,287.5 L1002.5,293.0 L996.2,295.5 L1005.0,293.8 L1015.0,290.5 L1022.0,289.5 L1024.5,293.8 L1025.0,299.5 L1028.8,296.2 L1033.8,295.5 L1038.8,299.5 L1045.0,296.2 L1055.0,291.2 L1065.0,286.2 L1073.8,281.2 L1080.0,277.5 L1086.2,275.5 L1091.2,276.2 L1090.0,280.0 L1083.8,284.5 L1078.8,290.0 L1075.5,295.5 L1082.5,293.0 L1092.5,295.5 L1100.0,301.2 L1110.0,302.5 L1120.0,298.8 L1127.5,296.5 L1137.5,295.5 L1148.8,294.5 L1150.5,301.2 L1160.0,303.0 L1165.0,308.8 L1170.5,314.2 L1171.6,313.7 L1164.3,313.7 L1157.0,313.1 L1151.9,313.7 L1148.2,316.6 L1143.9,313.7 L1138.0,312.3 L1130.8,313.7 L1124.9,315.2 L1119.1,317.4 L1114.7,318.4 L1110.4,316.9 L1106.0,317.8 L1103.8,320.3 L1100.2,326.8 L1095.8,332.7 L1092.1,338.5 L1088.5,344.3 L1084.8,349.4 L1082.7,353.4 L1085.6,351.6 L1091.4,343.6 L1097.2,336.3 L1102.3,330.5 L1107.4,326.1 L1109.2,328.3 L1106.0,334.1 L1101.6,341.4 L1097.5,348.7 L1094.6,356.0 L1092.4,363.3 L1091.4,372.0 L1088.8,400.0 L1088.8,400.0 L1090.0,412.5 L1092.5,422.5 L1096.2,428.0 L1102.5,429.2 L1109.5,427.0 L1115.0,420.0 L1118.8,410.0 L1120.5,400.0 L1119.5,390.0 L1117.5,377.5 L1116.2,365.0 L1118.8,355.0 L1122.5,345.0 L1127.5,335.5 L1133.0,328.0 L1136.2,332.5 L1138.8,325.0 L1143.0,322.0 L1149.5,317.5 L1154.5,315.0 L1160.0,320.0 L1170.0,325.0 L1177.5,330.0 L1182.5,335.0 L1185.0,340.0 L1183.8,350.0 L1182.5,357.5 L1180.0,362.5 L1173.8,368.0 L1171.2,373.8 L1175.0,377.5 L1180.0,371.2 L1187.5,366.2 L1194.5,365.0 L1198.8,371.2 L1200.5,382.5 L1201.2,393.0 L1199.0,400.0 L1195.0,405.0 L1191.2,412.5 L1187.5,420.0 L1182.5,426.8 L1190.0,431.5 L1200.0,435.0 L1210.0,434.0 L1220.0,430.5 L1230.0,426.5 L1241.2,421.5 L1255.0,415.0 L1265.0,408.8 L1272.0,400.5 L1272.0,390.5 L1276.2,386.5 L1277.5,385.0 L1290.0,383.8 L1302.5,386.5 L1315.0,386.5 L1325.0,381.5 L1331.2,375.0 L1330.0,365.0 L1335.0,361.2 L1342.5,353.8 L1350.0,346.5 L1357.5,342.0 L1362.5,340.0 L1432.5,339.5 L1433.8,333.8 L1438.8,332.5 L1445.0,330.0 L1450.0,325.0 L1456.2,317.5 L1457.5,308.8 L1461.2,302.5 L1462.5,295.0 L1470.0,286.2 L1477.5,276.2 L1481.2,275.0 L1485.0,281.2 L1495.0,279.5 L1502.5,277.5 L1508.8,283.8 L1512.0,287.5 L1512.0,322.5 L1517.5,325.0 L1518.0,335.0 L1523.8,337.5 L1526.5,344.5 L1517.5,350.0 L1507.5,352.5 L1497.5,354.0 L1490.0,355.0 L1486.2,359.0 L1480.0,365.0 L1473.8,369.0 L1466.2,374.0 L1460.0,377.5 L1455.0,382.5 L1451.2,390.0 L1447.5,397.5 L1446.7,397.1 L1448.8,400.2 L1449.3,404.2 L1445.7,407.2 L1441.9,409.8 L1441.9,412.3 L1445.7,412.8 L1448.8,414.8 L1450.8,418.3 L1452.3,422.4 L1453.0,425.4 L1456.8,426.4 L1460.9,425.4 L1462.9,423.4 L1460.9,420.3 L1458.3,418.8 L1459.4,416.8 L1462.9,417.8 L1465.4,421.4 L1466.1,426.4 L1464.9,430.4 L1460.9,429.6 L1456.8,430.6 L1453.8,431.6 L1453.0,434.5 L1454.8,436.5 L1450.8,438.5 L1446.7,439.0 L1445.7,436.5 L1448.8,433.5 L1449.8,430.4 L1447.8,428.6 L1443.7,430.0 L1439.7,431.6 L1436.7,433.5 L1433.6,435.1 L1430.6,436.5 L1427.6,438.0 L1424.6,438.7 L1420.5,439.1 L1414.5,439.5 L1408.4,439.1 L1402.4,438.7 L1396.3,440.5 L1390.3,442.7 L1385.2,444.8 L1382.7,446.6 L1382.5,447.5 L1381.2,457.5 L1380.5,470.0 L1376.5,480.0 L1370.0,490.0 L1363.0,498.5 L1359.0,500.5 L1354.0,492.5 L1349.0,486.2 L1345.0,481.2 L1346.5,480.8 L1351.0,491.5 L1355.5,502.3 L1358.2,511.3 L1357.3,522.1 L1352.8,529.2 L1349.2,534.6 L1343.9,541.8 L1340.3,549.0 L1338.5,554.0 L1341.2,563.3 L1343.9,572.3 L1346.5,579.5 L1346.5,582.2 L1342.1,588.5 L1334.9,593.9 L1332.2,602.8 L1325.9,608.2 L1316.9,610.9 L1308.0,613.6 L1300.8,622.6 L1295.4,630.1 L1291.2,633.3 L1284.1,633.3 L1277.8,637.8 L1273.3,644.1 L1269.7,651.2 L1264.3,656.6 L1257.1,662.0 L1251.8,666.5 L1242.8,671.0 L1237.4,674.6 L1233.8,681.7 L1230.2,688.9 L1226.6,700.0 L1226.2,697.5 L1223.8,710.0 L1225.0,720.0 L1228.8,735.0 L1233.8,752.5 L1240.0,772.5 L1245.0,790.0 L1250.0,810.0 L1252.5,827.5 L1251.2,845.0 L1247.5,857.5 L1240.0,863.8 L1232.5,865.0 L1227.5,860.0 L1222.5,850.0 L1215.0,840.0 L1211.2,830.0 L1207.5,820.0 L1202.5,815.0 L1196.2,803.8 L1193.8,792.5 L1196.2,785.0 L1197.5,772.5 L1193.8,762.5 L1187.5,753.8 L1180.0,745.0 L1172.5,736.2 L1165.0,733.8 L1157.5,737.5 L1150.0,742.5 L1140.0,745.0 L1137.5,737.5 L1132.5,730.0 L1125.0,725.0 L1115.0,723.0 L1105.0,724.5 L1093.8,727.5 L1087.5,727.5 L1086.2,716.2 L1082.5,716.2 L1080.0,726.2 L1075.0,725.0 L1067.5,724.5 L1057.5,726.2 L1051.2,730.5 L1057.5,733.0 L1058.8,737.5 L1052.5,745.0 L1055.0,752.5 L1062.5,758.8 L1055.0,761.2 L1047.5,757.5 L1042.5,752.5 L1037.5,753.8 L1032.5,760.0 L1023.8,758.8 L1017.5,752.5 L1010.0,747.5 L1005.0,741.2 L997.5,741.2 L990.0,746.2 L980.0,743.8 L970.0,741.2 L960.0,742.5 L952.5,744.5 L942.5,746.2 L937.5,751.2 L930.0,758.8 L920.0,765.0 L910.0,770.0 L900.0,775.0 L890.0,785.0 L886.2,792.5 L882.5,805.0 L883.8,815.0 L888.8,827.5 L891.2,842.5 L885.0,843.8 L872.5,840.0 L860.0,835.0 L850.0,830.0 L843.8,813.8 L840.0,801.2 L835.0,795.0 L827.5,782.5 L821.2,770.0 L815.0,758.8 L807.5,750.0 L800.0,742.5 L790.0,741.2 L780.0,741.2 L773.8,747.5 L770.0,760.0 L765.0,763.8 L755.0,757.5 L745.0,750.0 L736.2,743.8 L731.2,732.5 L727.5,722.5 L720.0,715.0 L710.0,705.0 L700.0,696.2 L692.5,687.5 L658.8,688.8 L658.8,700.8 L640.0,700.8 L598.0,701.2 L520.0,671.2 L520.0,666.2 L470.0,669.2 L467.5,657.5 L462.5,648.8 L455.0,641.2 L445.0,637.5 L440.0,630.0 L430.0,627.5 L422.5,621.2 L407.5,618.8 L396.2,615.0 L395.0,605.0 L390.0,595.0 L382.5,585.0 L375.0,575.0 L370.0,565.0 L370.0,555.0 L365.0,550.0 L358.8,540.0 L355.5,532.5 L348.8,522.5 L342.5,512.5 L335.0,502.5 L330.0,490.0 L327.5,477.5 L321.2,465.0 L317.5,457.5 L321.2,445.0 L323.8,430.0 L319.5,418.8 L316.2,407.5 L314.5,398.8 L315.8,395.0 L319.5,382.5 L322.0,370.0 L323.8,355.0 L325.8,340.0 L327.0,327.5 L327.5,315.0 L327.0,307.5 L326.1,310.2 L325.0,305.9 L326.6,299.5 L330.4,297.4 L330.9,294.2 L325.6,293.2 L325.0,291.0 L330.9,290.0 L331.4,287.3 L325.6,286.8 L322.9,285.2 L320.8,279.3 L318.6,270.8 L314.9,266.5 L310.6,260.1 L310.1,250.6 L313.8,250.6 L321.3,253.8 L327.7,256.4 L335.1,256.9 L342.6,257.5 L347.9,259.1 L346.9,256.9 L352.2,252.7 L346.9,251.6 L342.6,247.4 L343.7,243.1 L347.9,241.5 L352.2,241.0 L350.6,237.8 L351.1,235.6Z M1383.7,449.6 L1393.3,445.8 L1403.4,443.7 L1412.5,441.5 L1420.5,443.1 L1425.1,444.6 L1424.6,446.8 L1416.5,450.8 L1407.4,454.8 L1398.3,457.9 L1390.3,458.5 L1382.2,459.9 L1375.1,460.9 L1372.6,459.5 L1377.1,455.7 L1382.2,452.1Z"/>
<path d="M473.2,235.5 L473.2,305.0 L476.2,314.2 L481.2,317.5 L483.8,323.8 L481.2,330.0 L477.5,337.5 L473.8,345.0 L470.0,351.2 L468.8,358.8 L473.8,362.5 L474.5,370.0 L474.5,420.0"/>
<path d="M327.0,307.5 L335.0,308.8 L343.8,310.0 L350.0,315.0 L352.5,322.5 L361.2,325.5 L372.5,323.0 L385.0,323.8 L397.5,321.2 L410.0,318.8 L422.5,316.2 L435.0,314.5 L450.0,313.8 L465.0,313.8 L476.2,314.2"/>
<path d="M319.5,420.0 L598.8,420.0"/>
<path d="M493.8,235.5 L493.8,261.2 L497.5,268.8 L502.5,276.2 L510.0,282.5 L516.2,290.0 L522.5,295.5 L529.5,297.0 L529.5,305.0 L526.2,313.8 L525.0,325.0 L530.0,328.8 L536.2,322.5 L540.0,325.0 L543.8,335.0 L547.5,342.5 L553.8,346.2 L558.8,356.2 L565.0,353.8 L577.5,352.5 L588.8,352.0 L592.5,347.5 L597.0,352.5 L598.8,355.0"/>
<path d="M598.8,340.8 L598.8,446.2"/>
<path d="M598.8,340.8 L746.2,340.8"/>
<path d="M598.8,446.2 L788.5,446.2"/>
<path d="M746.2,235.5 L746.2,446.2"/>
<path d="M746.2,315.0 L903.0,315.0"/>
<path d="M746.2,393.3 L862.5,393.8 L872.5,398.8 L885.0,397.5 L897.5,401.2 L905.0,406.2"/>
<path d="M890.0,236.2 L891.2,247.5 L893.8,260.0 L896.2,272.5 L898.0,285.0 L899.5,297.5 L901.2,310.0 L902.5,317.5 L898.8,323.8 L903.8,332.5 L905.5,335.0 L905.5,379.5 L903.8,387.5 L905.0,395.0 L903.8,400.0 L905.0,406.2 L908.8,415.0 L911.2,425.0 L913.8,432.5 L916.2,437.5 L918.8,447.5 L922.5,455.0 L927.5,465.0 L933.8,473.8 L938.8,477.5 L935.0,483.8 L940.0,488.8 L945.0,493.8"/>
<path d="M788.5,446.2 L788.5,551.0"/>
<path d="M788.5,472.5 L930.0,472.5"/>
<path d="M641.3,446.2 L641.3,700.8"/>
<path d="M536.1,551.0 L945.0,551.0"/>
<path d="M536.1,420.0 L536.1,551.0 L537.0,573.8 L531.2,577.5 L523.8,575.0 L521.2,580.0 L523.8,590.0 L522.5,600.0 L525.0,605.0 L527.5,610.0 L531.2,622.5 L526.2,630.0 L523.8,640.0 L520.0,647.5 L522.5,657.5 L526.2,661.2 L520.0,666.2"/>
<path d="M411.0,420.0 L411.0,498.8 L523.9,604.0"/>
<path d="M767.8,551.0 L767.2,685.0"/>
<path d="M692.5,685.5 L766.2,685.0"/>
<path d="M767.5,564.6 L831.4,564.6 L831.4,616.0 L837.5,620.0 L845.0,621.2 L852.5,626.2 L862.5,627.5 L871.2,632.5 L880.0,633.8 L890.0,638.8 L900.0,636.2 L910.0,637.5 L922.5,632.5 L932.5,632.5 L940.0,636.2 L947.5,641.2 L957.5,642.5 L957.5,665.0 L960.0,680.0 L963.8,692.5 L967.5,705.0 L966.2,717.5 L963.8,730.0 L960.0,742.5"/>
<path d="M945.0,493.8 L945.0,565.0 L948.8,595.0 L949.5,605.0 L949.5,640.0"/>
<path d="M945.0,565.0 L1038.8,565.0 L1041.2,570.0 L1035.0,577.5 L1047.5,577.5"/>
<path d="M957.5,656.8 L1017.0,656.8"/>
<path d="M1060.0,553.8 L1056.2,562.5 L1051.2,570.0 L1048.8,577.5 L1045.0,585.0 L1040.0,592.5 L1038.8,602.5 L1035.0,607.5 L1030.0,615.0 L1026.2,622.5 L1022.5,630.0 L1018.8,637.5 L1017.5,645.0 L1020.0,653.0 L1020.0,665.0 L1022.5,675.0 L1016.2,682.5 L1012.5,692.5 L1010.0,702.5 L1007.5,710.0 L1048.8,710.0 L1047.5,718.8 L1051.2,727.5 L1052.5,731.2"/>
<path d="M1079.5,604.0 L1074.0,690.0 L1076.0,726.0"/>
<path d="M1135.0,604.2 L1142.5,653.0 L1146.2,665.0 L1150.0,675.0 L1145.0,690.0 L1145.0,702.5 L1147.5,713.8 L1148.0,717.0"/>
<path d="M1093.8,727.5 L1096.2,718.8 L1092.5,709.5 L1146.2,709.5"/>
<path d="M1147.5,716.2 L1207.5,723.0 L1210.0,727.5 L1212.5,716.2 L1221.2,716.2"/>
<path d="M1038.8,603.2 L1161.2,603.2 L1182.5,605.0"/>
<path d="M1055.0,563.8 L1083.8,563.8 L1083.8,560.5 L1174.5,561.5 L1330.0,561.5 L1338.0,563.3"/>
<path d="M1161.2,603.2 L1172.5,595.0 L1185.0,590.0 L1195.0,580.0 L1205.0,575.0 L1215.0,566.2 L1217.5,561.8"/>
<path d="M1174.5,561.5 L1185.0,556.2 L1195.0,548.8 L1205.0,542.5 L1209.8,538.2 L1202.5,530.0 L1198.8,521.2 L1197.5,513.8"/>
<path d="M997.5,295.0 L993.8,296.2 L993.8,311.2 L992.5,312.5 L985.0,317.5 L981.2,323.8 L983.8,332.5 L983.0,342.5 L987.5,350.0 L995.0,355.0 L1002.5,361.2 L1008.8,367.5 L1013.8,375.0 L1015.0,380.0 L1017.5,387.5 L1017.5,395.0 L1022.5,402.5 L1028.8,406.8 L1035.0,412.5 L1038.8,418.8 L1037.5,427.5 L1030.0,433.8 L1022.5,435.0 L1020.0,442.5 L1017.5,450.0 L1012.5,457.5 L1011.2,467.5 L1012.5,476.2 L1017.5,483.8 L1023.8,490.0 L1027.5,497.5 L1032.5,501.2 L1038.8,505.0 L1037.5,512.5 L1035.0,517.5 L1041.2,523.8 L1048.8,531.2 L1053.8,536.2 L1055.0,543.8 L1057.5,550.0 L1060.0,553.8"/>
<path d="M1060.0,552.5 L1066.2,546.2 L1073.8,548.8 L1075.0,541.2 L1080.0,538.8 L1082.5,530.0 L1090.0,526.2 L1097.5,527.5 L1105.0,530.0 L1112.5,525.0 L1117.5,526.2 L1121.2,521.2 L1127.5,522.5 L1132.5,516.2 L1137.5,512.5 L1142.5,507.5 L1147.5,503.8 L1151.2,497.5 L1160.0,500.0 L1167.5,505.0 L1175.0,506.2 L1182.5,510.0 L1190.0,507.5 L1197.5,512.5 L1202.5,507.5 L1207.5,501.2 L1215.0,497.5 L1222.5,490.0 L1230.0,485.0 L1235.0,477.5 L1238.8,467.5 L1240.0,457.5 L1241.0,455.0"/>
<path d="M1082.5,530.0 L1083.8,525.0 L1086.2,517.5 L1090.0,510.0 L1092.5,502.5 L1091.2,496.2 L1094.5,491.2 L1094.5,430.0 L1094.5,430.0"/>
<path d="M1151.0,426.5 L1151.0,497.0"/>
<path d="M1110.5,427.5 L1151.2,426.8 L1182.5,426.8"/>
<path d="M1028.8,406.8 L1089.0,406.8"/>
<path d="M905.5,379.5 L1015.0,379.5"/>
<path d="M922.5,456.2 L1008.8,456.2 L1012.5,462.5 L1011.2,467.5"/>
<path d="M1033.2,299.5 L1040.0,304.5 L1055.0,309.5 L1070.0,313.8 L1082.5,318.0 L1086.2,326.2 L1090.0,333.8 L1092.5,338.8"/>
<path d="M1241.0,421.0 L1241.0,479.8 L1340.3,479.8"/>
<path d="M1257.5,412.0 L1257.5,420.0 L1351.0,420.0"/>
<path d="M1351.2,420.0 L1356.2,426.2 L1362.5,437.5 L1356.2,445.0 L1355.0,453.8 L1362.5,461.2 L1365.0,467.5 L1358.8,472.5 L1350.0,477.5 L1345.0,481.2"/>
<path d="M1362.5,437.5 L1382.5,446.2"/>
<path d="M1262.5,480.0 L1262.5,493.8 L1270.0,487.5 L1280.0,483.8 L1290.0,482.5 L1297.5,487.5 L1300.0,496.2 L1305.0,495.0 L1313.8,500.0 L1317.5,505.0 L1313.8,510.0"/>
<path d="M1300.0,496.2 L1292.5,492.5 L1287.5,488.8 L1280.0,500.0 L1272.5,507.5 L1265.0,511.2 L1261.2,520.0 L1255.0,527.5 L1250.0,536.2 L1245.0,540.0 L1232.5,543.8 L1217.5,546.2 L1209.8,538.2"/>
<path d="M1342.5,480.0 L1343.8,513.8 L1357.5,513.8"/>
<path d="M1391.2,340.0 L1390.0,355.0 L1392.5,370.0 L1393.8,380.0 L1395.0,390.0 L1395.8,401.2 L1391.2,420.0 L1389.5,438.0 L1390.0,437.5 L1382.5,446.2"/>
<path d="M1432.5,339.5 L1430.0,350.0 L1425.0,357.5 L1420.0,365.0 L1416.2,375.0 L1413.8,385.0 L1410.5,395.0 L1408.8,401.2"/>
<path d="M1395.8,401.2 L1438.8,401.2 L1445.0,397.0"/>
<path d="M1438.8,332.5 L1442.5,335.0 L1443.0,390.0 L1447.5,397.5"/>
<path d="M1390.5,419.2 L1435.0,419.2 L1436.2,432.5"/>
<path d="M1426.0,418.5 L1426.0,436.5"/>
<path d="M1180.9,610.9 L1187.2,603.7 L1197.9,600.1 L1212.3,598.8 L1230.2,600.1 L1234.7,603.7 L1236.5,608.2 L1259.8,608.5 L1283.2,633.6"/>
<path d="M1180.9,610.9 L1189.0,615.3 L1194.4,620.7 L1197.9,627.9 L1203.3,635.1 L1210.5,644.1 L1215.9,651.2 L1222.2,658.4 L1224.9,667.4 L1228.4,674.6 L1231.1,681.7"/>
</g>
<g fill="none" stroke="#000" stroke-width="5" stroke-linejoin="round" stroke-linecap="round">
<path d="M1051.2,730.5 L1040.0,725.0 L1034.5,731.2 L1042.5,736.8 L1050.0,736.2 L1057.0,733.0"/>
<path d="M1194.5,790.0 L1198.0,793.8 L1196.5,797.5"/>
<path d="M1205.0,815.0 L1208.0,818.0 L1207.0,821.2"/>
<path d="M936.2,744.5 L940.0,740.0 L943.0,744.5"/>
<path d="M938.0,750.0 L941.5,745.5"/>
<path d="M897.5,777.0 L902.5,772.5 L907.5,775.0"/>
<path d="M910.0,766.2 L913.0,769.5"/>
<path d="M878.0,803.8 L883.0,801.2 L886.0,805.0"/>
<path d="M882.0,811.2 L885.0,808.0"/>
<path d="M890.0,782.5 L893.0,787.5"/>
<path d="M1082.0,718.8 L1084.5,715.0 L1086.5,718.8"/>
<path d="M1000.0,740.0 L1004.0,743.0"/>
<path d="M1030.0,758.0 L1033.8,755.0 L1037.5,753.0"/>
<path d="M1047.5,740.0 L1052.5,742.5 L1050.0,747.5"/>
<path d="M1338.1,484.0 L1333.1,489.7 L1330.4,496.9 L1328.6,505.9 L1329.8,514.9 L1332.4,522.1 L1330.6,529.2 L1332.4,536.4 L1331.3,545.4 L1330.6,550.8 L1334.9,554.4 L1338.5,553.6"/>
<path d="M1339.9,485.3 L1337.7,493.3 L1334.9,502.3 L1336.0,511.3 L1339.5,516.7 L1342.1,522.4 L1340.3,529.2 L1337.7,538.2 L1336.7,547.2 L1338.5,553.6"/>
<path d="M1324.1,491.5 L1325.9,500.5 L1328.8,509.8"/>
<path d="M1314.2,504.1 L1310.1,513.1 L1316.9,517.0 L1324.1,522.1 L1329.8,527.1"/>
<path d="M1316.9,526.0 L1324.1,531.4 L1330.2,536.8"/>
<path d="M1318.7,537.9 L1325.9,542.2 L1330.9,546.1"/>
<path d="M1316.9,545.7 L1324.1,549.3 L1330.6,551.9"/>
<path d="M1320.5,568.7 L1328.6,570.5 L1334.9,573.2 L1332.2,577.7 L1322.3,575.9 L1320.5,572.3"/>
<path d="M1334.9,573.2 L1342.1,577.7 L1346.0,583.4"/>
<path d="M1315.1,592.1 L1322.3,593.9 L1328.6,592.1 L1334.9,588.5 L1342.4,584.9"/>
<path d="M1313.3,602.8 L1320.5,604.6 L1327.7,606.4 L1332.4,602.8"/>
<path d="M1308.0,612.2 L1315.1,610.0 L1324.1,608.2"/>
</g>
<path d="M351.1,235.6 L355.4,238.8 L359.6,241.0 L361.2,246.3 L359.6,250.6 L362.8,253.8 L366.0,261.2 L363.9,265.5 L362.8,271.9 L362.8,278.2 L359.6,284.6 L353.2,287.8 L347.9,288.9 L344.7,284.6 L343.1,278.2 L344.7,271.9 L349.0,266.5 L352.2,262.3 L350.1,261.2 L347.9,259.1 L346.9,256.9 L351.1,255.9 L352.2,252.7 L346.9,251.6 L342.6,247.4 L343.7,243.1 L347.9,241.5 L352.2,241.0 L350.6,237.8Z" fill="#000" stroke="#000" stroke-width="1.5" stroke-linejoin="round"/>
<path d="M1458.3,436.5 L1461.9,435.0 L1465.4,437.0 L1465.9,440.0 L1462.9,441.5 L1459.4,440.5 L1457.6,438.5Z" fill="#000" stroke="#000" stroke-width="1.5" stroke-linejoin="round"/>
<path d="M1445.7,436.5 L1450.8,435.3 L1454.8,436.5 L1453.8,439.0 L1448.8,439.5 L1445.7,438.5Z" fill="#000" stroke="#000" stroke-width="1.5" stroke-linejoin="round"/>
<path d="M357.0,522.0 L362.5,520.5 L365.0,525.0 L364.0,530.0 L367.5,535.0 L370.5,540.0 L366.2,541.2 L361.2,537.5 L358.8,531.2Z" fill="#000" stroke="#000" stroke-width="1.5" stroke-linejoin="round"/>
<path d="M1135.9,335.6 L1138.0,334.1 L1140.1,336.3 L1140.7,342.9 L1139.5,348.0 L1136.9,348.7 L1135.4,344.3Z" fill="#000" stroke="#000" stroke-width="1.5" stroke-linejoin="round"/>
<path d="M1105.3,316.3 L1110.4,315.5 L1115.5,316.9 L1116.2,319.5 L1111.1,320.4 L1106.0,319.8Z" fill="#000" stroke="#000" stroke-width="1.5" stroke-linejoin="round"/>
<path d="M353.8,245.0 L356.7,244.7 L357.0,246.3 L354.1,246.8Z" fill="#1874cd"/>
<path d="M351.1,274.0 L355.4,274.5 L354.8,277.0 L351.3,276.5Z" fill="#1874cd"/>
</svg>
</body></html>
